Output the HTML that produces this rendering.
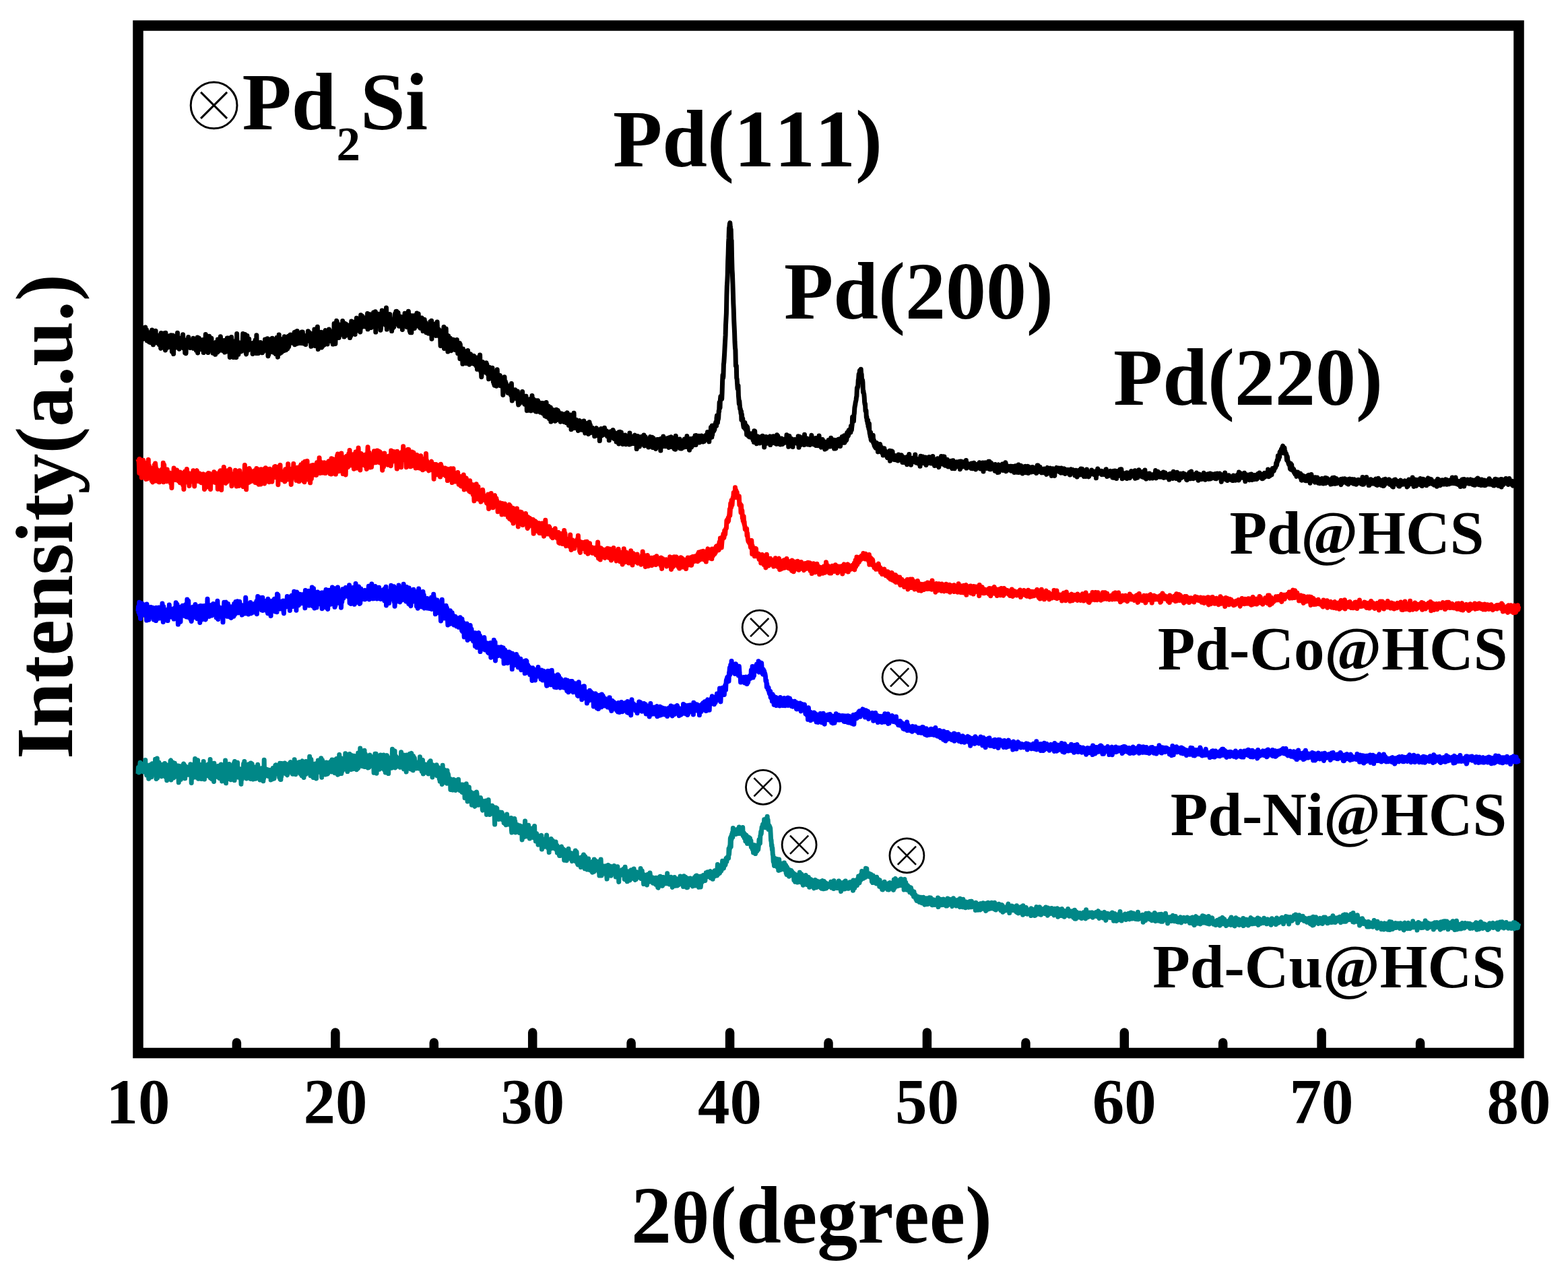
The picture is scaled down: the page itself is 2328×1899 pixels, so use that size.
<!DOCTYPE html>
<html><head><meta charset="utf-8"><title>XRD patterns of Pd@HCS, Pd-Co@HCS, Pd-Ni@HCS and Pd-Cu@HCS</title>
<style>
html,body{margin:0;padding:0;background:#fff;overflow:hidden}
svg{display:block}
text{font-family:"Liberation Serif","Times New Roman",serif;font-weight:bold;font-kerning:none;fill:#000}
</style></head><body>
<svg width="2328" height="1899" viewBox="0 0 2328 1899">
<rect x="0" y="0" width="2328" height="1899" fill="#fff"/>
<rect x="205" y="38" width="2050" height="1525.5" fill="none" stroke="#000" stroke-width="15.5"/>
<path d="M351.4 1557V1548.0M497.9 1557V1533.0M644.3 1557V1548.0M790.7 1557V1533.0M937.1 1557V1548.0M1083.6 1557V1533.0M1230.0 1557V1548.0M1376.4 1557V1533.0M1522.9 1557V1548.0M1669.3 1557V1533.0M1815.7 1557V1548.0M1962.1 1557V1533.0M2108.6 1557V1548.0" stroke="#000" stroke-width="13.5" stroke-linecap="round" fill="none"/>
<text x="205.0" y="1667.5" font-size="95" text-anchor="middle">10</text>
<text x="497.9" y="1667.5" font-size="95" text-anchor="middle">20</text>
<text x="790.7" y="1667.5" font-size="95" text-anchor="middle">30</text>
<text x="1083.6" y="1667.5" font-size="95" text-anchor="middle">40</text>
<text x="1376.4" y="1667.5" font-size="95" text-anchor="middle">50</text>
<text x="1669.3" y="1667.5" font-size="95" text-anchor="middle">60</text>
<text x="1962.1" y="1667.5" font-size="95" text-anchor="middle">70</text>
<text x="2255.0" y="1667.5" font-size="95" text-anchor="middle">80</text>
<text x="937" y="1845" font-size="120">2<tspan font-size="108">θ</tspan>(degree)</text>
<text transform="translate(106.5 1127) rotate(-90)" font-size="120">Intensity(a.u.)</text>
<text x="359.5" y="192.4" font-size="120">Pd<tspan font-size="71" dy="46">2</tspan><tspan dy="-46">Si</tspan></text>
<text x="910" y="247" font-size="120">Pd(111)</text>
<text x="1164" y="473" font-size="120">Pd(200)</text>
<text x="1653" y="600.5" font-size="120">Pd(220)</text>
<text x="1825.4" y="821.7" font-size="91">Pd@HCS</text>
<text x="1718.8" y="993.7" font-size="91">Pd-Co@HCS</text>
<text x="1737.8" y="1240" font-size="91">Pd-Ni@HCS</text>
<text x="1711.2" y="1466" font-size="91">Pd-Cu@HCS</text>
<path fill="none" stroke="#000000" stroke-width="7.0" stroke-linejoin="round" stroke-linecap="butt" d="M205 495.9l.4 9.2 .5-.8 .4-11.7 .5 1.6 .4-1.4 .5 7.6 .4-4.1 .5 5.6 .4-17.5 .5 23.4 .4-11.2 .5 5.4 .4-5.4 .5-1.5 .4 5.9 .5 2.6 .4-6.9 .5 .5 .4 5.8 .5-10.4 .4-4.3 .5 13.2 .4-7.1 .5-8.4 .4 7.6 .5 2.5 .4-4.8 .5-1.9 .4 10.6 .5 5.9 .4-7.5 .5-3.4 .4 7.9 .5 2.3 .4-6.7 .5 5.8 .4 3.5 .5-8.3 .4-4 .5 8 .4-.6 .5 5.9 .4-16 .5 4.3 .4-1.1 .5-5.9 .4 12.7 .5 2.9 .4-8.5 .5 14.6 .4-3.8 .5-1.2 .4-1.4 .5 3.9 .4-15.4 .5 13.3 .4 0 .5-16 .4 14.5 .5-3.9 .4 7.1 .5-8.2 .4 3 .5 2.5 .4-8.2 .5 10.2 .4-4.7 .5 4.2 .4-6.8 .5 11 .4-3.2 .5-5.2 .4 5.6 .5 4.4 .4 3.7 .5-22.8 .4 16.8 .5-2.8 .4-3.7 .5-6.1 .4 15.5 .5-17 .4 12.5 .5 5.1 .4-19.7 .5 8.9 .4-6.8 .5 10.7 .4 8.7 .5 3.5 .4-25.7 .5 8.2 .4 8.8 .5 6 .4-7.8 .5-7.8 .4 7.1 .5-2 .4-1.3 .5-3.5 .4 7.7 .5-.5 .4-2.6 .5-.8 .4-7.2 .5 5.5 .4 11.6 .5-9.5 .4-8.4 .5 18.9 .4-5.4 .5 10.8 .4-13.8 .5-3.5 .4-6.7 .5 18.9 .4 8.5 .5-22.9 .4 1.2 .5 8.5 .4-9.6 .5 3.8 .4-.4 .5 3.7 .4 6.2 .5-7.2 .4 6.1 .5-9 .4 5.1 .5-16.7 .4 4.7 .5 15.4 .4-9.4 .5 8 .4-.2 .5 5.4 .4-3.4 .5 1.4 .4-7.6 .5-3.9 .4-.2 .5 1.7 .4-4.3 .5 4 .4 3.1 .5 2.4 .4-3.9 .5-10.8 .4 12.7 .5 2.1 .4 5.8 .5-3.3 .4-8.3 .5-.5 .4 18.6 .5-8.4 .4 7.3 .5 2.1 .4-20 .5 8.2 .4 .6 .5 .7 .4-.1 .5-2.2 .4-.2 .5-11.4 .4 9.2 .5-3.9 .4 5.9 .5-3.9 .4 7.4 .5 1.4 .4-3.5 .5 .1 .4-1.4 .5-3.7 .4 2 .5-2.2 .4 6 .5-2.5 .4 3.9 .5-13 .4 15.1 .5-11.1 .4 .2 .5 3.7 .4-2.5 .5 5.8 .4-5.8 .5-3.3 .4 1.5 .5 14.7 .4-8.6 .5-8.2 .4 8 .5-10.6 .4 22.8 .5-22.5 .4 13.6 .5 .5 .4-13.5 .5 11.9 .4 4.7 .5-3.5 .4-1.4 .5 4.7 .4-5.4 .5 1.2 .4-3.1 .5 5.2 .4-10.7 .5 11.8 .4-8.8 .5-4 .4 9.9 .5 9.1 .4-5 .5-10 .4 8.3 .5-7.9 .4 2.3 .5 1.5 .4-16.4 .5 17.1 .4-8.3 .5 2.3 .4-5.3 .5-.3 .4 3.9 .5 12.1 .4 5.7 .5-11.5 .4 7.6 .5-9.2 .4-11.2 .5 14 .4 2.1 .5-6 .4 5 .5 1.8 .4-9.7 .5-4.2 .4 8.6 .5 .1 .4-1 .5 9.1 .4 5.1 .5-14.6 .4 7.6 .5 1.6 .4-1.5 .5 2.3 .4-9.8 .5 7.7 .4 8.8 .5-8.3 .4-9.7 .5 8.3 .4 4.5 .5-6.1 .4-6.3 .5 14.3 .4-18.9 .5 11.9 .4-3.5 .5-8 .4 16.4 .5-5.9 .4-10.3 .5 12 .4-7 .5-10 .4 8.2 .5 6.5 .4 2.6 .5-3.2 .4-.8 .5 2.9 .4-4.7 .5 9.5 .4-7 .5 1 .4 1.7 .5-10.9 .4 2.4 .5 15.2 .4-8.1 .5-4.2 .4 4.3 .5-5.6 .4 5.2 .5-6.5 .4 6.4 .5-12.6 .4 19.8 .5-12.5 .4-7.3 .5 9.3 .4-1 .5 3.6 .4-8.9 .5 10.5 .4 15 .5-26.3 .4 11 .5-4.4 .4 3.4 .5-13.6 .4 4.5 .5 10.9 .4-3.4 .5 11.4 .4-15.9 .5 6 .4 16.5 .5-22.9 .4-.9 .5 5.9 .4 0 .5 6 .4-4.8 .5-6 .4 6.5 .5 16.3 .4-9 .5-26.3 .4 16.7 .5-5 .4 10.2 .5-5.4 .4 14.3 .5-6.8 .4-.2 .5-4.8 .4-1.5 .5 2.6 .4 6.5 .5-5.2 .4-6 .5 11.1 .4-7.4 .5-1.8 .4-4.9 .5 1.6 .4-.5 .5-13.3 .4 24.6 .5-3.1 .4-5.3 .5 8.6 .4-4.1 .5-.5 .4-19.3 .5 15.3 .4 5.2 .5 7.3 .4 1.6 .5-2.8 .4-17.6 .5-7 .4 18.8 .5-3.7 .4 6.4 .5-7.4 .4 2.4 .5-11.7 .4 13.2 .5-6 .4 5.4 .5 .8 .4-4 .5 3 .4-2.2 .5 5.2 .4-1.7 .5-7.1 .4-.3 .5 15.9 .4-12.6 .5 7.5 .4-4.1 .5-6.5 .4-1.2 .5 5.9 .4 .9 .5 2.5 .4-12.8 .5 4.6 .4 3.4 .5 11.5 .4-26.9 .5 19.1 .4-6.7 .5 6.6 .4-6.2 .5 5.8 .4 8.2 .5-8.3 .4 .6 .5-.4 .4-7.6 .5 8.8 .4-5.1 .5-4.1 .4 5.2 .5-1.3 .4 6.7 .5-5.4 .4-3.3 .5 13.5 .4-3.2 .5 2 .4-4.5 .5-4.9 .4-2.1 .5 1 .4 8.3 .5-5.7 .4-10.8 .5 9.8 .4-9.4 .5 10.8 .4-9.3 .5-.4 .4 9.4 .5-1.3 .4-10.8 .5 16.4 .4 9.6 .5-24.8 .4 22.5 .5-17.1 .4 1.3 .5 2.2 .4-8.6 .5 18.6 .4-5.4 .5-8.5 .4 3.2 .5-8.4 .4 7.9 .5 8.8 .4-18.1 .5 8.7 .4 4 .5 6.1 .4 2.1 .5-12.3 .4-1.9 .5 8.1 .4-5.6 .5 .4 .4 9.4 .5 4.2 .4-9.7 .5-3.1 .4 5.2 .5-16.7 .4 12.7 .5-7.1 .4 23.4 .5-11.3 .4-3.9 .5-2.3 .4-15.8 .5 21.9 .4 6.3 .5-16.1 .4 9.6 .5 .3 .4-15.4 .5 16.9 .4 2.8 .5-7.6 .4-2 .5 5.8 .4-15.9 .5 11.1 .4 6.6 .5-15.6 .4 15.1 .5-9.5 .4-11.4 .5 13.3 .4-6.1 .5 8.5 .4-10.5 .5 14.7 .4-12.7 .5 7 .4-7.1 .5 1.2 .4 9.7 .5-7.3 .4-4.8 .5-6.5 .4 15.7 .5-3.5 .4-7.9 .5 3.3 .4-9.3 .5-.4 .4 .8 .5 7.6 .4-.8 .5-7.4 .4 9.9 .5 .2 .4-4.2 .5 5.9 .4-9.1 .5 1.2 .4 4 .5-3.4 .4 5.6 .5-13.9 .4 18.2 .5-15 .4 4.2 .5-8.2 .4 13.4 .5 4.6 .4-1.4 .5-1.6 .4-16.2 .5 5.3 .4 2.2 .5-3.2 .4 14 .5-6.4 .4-1.4 .5 3.5 .4-9.8 .5 .3 .4 .2 .5 9.4 .4-1.1 .5 1.7 .4 3.4 .5-16.6 .4 5.5 .5 4.8 .4-10.2 .5 5.6 .4 10.5 .5 .7 .4-.2 .5-7 .4-1.7 .5 8.8 .4-9.9 .5 4.9 .4 6.7 .5-11.5 .4-1.6 .5 4.1 .4 4.1 .5-.8 .4-2.2 .5 2.8 .4-14.7 .5 5.1 .4 6.9 .5-7.4 .4-2.8 .5 1 .4 2 .5 5 .4-5.7 .5 8.5 .4 10 .5-12.5 .4 9.7 .5-6.7 .4-9.6 .5 5.9 .4-4.9 .5 11.9 .4-13.1 .5 16.9 .4-5.1 .5-17.7 .4 19.1 .5 5.3 .4-15.9 .5 12 .4-18.9 .5 14 .4-13 .5 14.5 .4-15.4 .5-5.5 .4 20.4 .5 12.8 .4-19.6 .5 9.7 .4-4.9 .5-2.9 .4 6.4 .5 7 .4-19.6 .5 12.2 .4-1.5 .5-12.1 .4 20.6 .5 2.2 .4-19.8 .5 18.2 .4-11.5 .5-1.6 .4 11.2 .5-8.8 .4 .5 .5 8 .4-1.7 .5-2.8 .4-15.8 .5-1.4 .4 18.2 .5-14.1 .4 7.1 .5-8.5 .4 5.8 .5-7.6 .4 19.5 .5-18.2 .4 5.9 .5-.7 .4 9.3 .5-18.1 .4 9.2 .5-1.4 .4 4.7 .5-.6 .4-6.6 .5 4.6 .4-4.5 .5 5.5 .4-4.1 .5-4 .4 4 .5 2.5 .4 12.7 .5-19 .4 5.2 .5 7.6 .4-24.3 .5 2.1 .4 3.5 .5 7.1 .4 17.2 .5-14.2 .4 5.4 .5-9.9 .4-15.5 .5 .9 .4 22.5 .5-5.9 .4-10.3 .5 16.3 .4-18.3 .5 18 .4 2 .5-15.3 .4-2.5 .5 13.1 .4-13.4 .5 13.2 .4-14.2 .5 13.4 .4-5 .5-3.8 .4-3.3 .5 7.5 .4-14.7 .5 10.8 .4-1 .5 7.1 .4-13.3 .5 20 .4-14 .5-5.8 .4 17 .5 1.7 .4-12.7 .5-5 .4 6 .5-5 .4 2.4 .5 12.5 .4-8.1 .5-1.8 .4 1.2 .5-2.9 .4 5.9 .5 .1 .4-8.6 .5 3 .4 15.6 .5-13.7 .4-4.3 .5 15 .4-14 .5-7.7 .4 11.9 .5-10.8 .4 2.5 .5 5.5 .4-3.3 .5-4.4 .4 1.3 .5-.5 .4 11.8 .5-13 .4 .9 .5 17.6 .4-17.8 .5 13.8 .4-1.3 .5-10.2 .4-8.7 .5 12.6 .4 1.3 .5 1.9 .4-6.3 .5 7.6 .4 1.1 .5-16.7 .4 16.7 .5-8.6 .4-5.2 .5 1.6 .4 14.8 .5-6.2 .4-19 .5 12.6 .4-1.6 .5-.4 .4-2.4 .5-6.5 .4 15.7 .5-12.4 .4 3.8 .5-1.7 .4-.9 .5 9.9 .4-2.5 .5-7.3 .4-1.9 .5 3.1 .4 9.7 .5-5.8 .4 .7 .5-3.9 .4 .4 .5 3.1 .4-14.1 .5 23.4 .4-16.4 .5 1.5 .4 12.9 .5-7.7 .4-1.3 .5-4.3 .4-6.7 .5 11.8 .4 6.8 .5-14.3 .4 15.3 .5-17 .4 2.6 .5 8.4 .4-3.5 .5 4.6 .4-9.8 .5-2 .4-5.8 .5 4.5 .4 .8 .5-2.4 .4 11.7 .5-6.7 .4-9 .5 30.3 .4-22.6 .5-2.9 .4 16.9 .5-.5 .4-15.8 .5-2.3 .4 3.2 .5 14.4 .4-9.8 .5-3.4 .4 5.2 .5 8.3 .4-17.6 .5 6.7 .4-6.8 .5 24.1 .4-2.4 .5-6 .4-7.4 .5 5.3 .4-18.8 .5 16.1 .4-11 .5 .1 .4 4.1 .5 2.4 .4 6.2 .5 .8 .4-3 .5-8.2 .4 10.9 .5-5.4 .4 8.8 .5-14.3 .4-11.5 .5 14.4 .4 17.8 .5-11.5 .4-4.5 .5 7.3 .4-2.6 .5-.3 .4-6.7 .5 4 .4 .8 .5-5.8 .4-3.2 .5 8.5 .4 5.6 .5-2.2 .4-1 .5 0 .4 14.1 .5-15.8 .4 5.3 .5 6.2 .4-12.9 .5 1.4 .4 5.3 .5 4.4 .4-9.4 .5 .4 .4-1.9 .5-8.8 .4 15.8 .5-9.3 .4-9.9 .5 10.7 .4-10.8 .5 5 .4 7 .5-6.4 .4 13.6 .5-17.2 .4 11.8 .5 2 .4 6.2 .5-3.6 .4-4.7 .5-1 .4-.8 .5 8.1 .4-12.1 .5 8 .4-4.1 .5 2.4 .4-3.4 .5 16.4 .4-19 .5 6.3 .4 .2 .5 2.3 .4-1 .5-.1 .4 3.9 .5-16.8 .4 10.3 .5-8.3 .4 10 .5-9.5 .4 1.6 .5 6.1 .4 10 .5-5.5 .4-1.8 .5 7.6 .4-15.8 .5-7.7 .4 11.4 .5 1.1 .4 10.3 .5 6.2 .4-23.3 .5 25.8 .4-6.1 .5-4.8 .4-3.1 .5 14 .4-15.7 .5-3.6 .4 4.2 .5-10 .4 12.5 .5-3.8 .4 3 .5 .3 .4-9.4 .5 16.1 .4-15.6 .5 12.9 .4-16.5 .5 13.3 .4-7.9 .5 5.9 .4-4.5 .5-10.1 .4 7.2 .5 8.1 .4 3.8 .5-13.9 .4-4.2 .5 8.5 .4 4.5 .5-2.7 .4-1 .5 11.2 .4 .8 .5-1.3 .4-11.1 .5 6.9 .4-1.7 .5-8 .4 15.5 .5-5.2 .4-3.6 .5 12.8 .4-4.2 .5 .8 .4 2.5 .5-3 .4-13 .5 6 .4 9.5 .5-11.5 .4 5.5 .5 2.6 .4 7.1 .5-.7 .4-2.4 .5-6.9 .4 7.5 .5-2.3 .4-4.3 .5 10.3 .4-5.4 .5-8 .4 13.6 .5-9.7 .4 5.8 .5-13.6 .4 10.2 .5-5.8 .4 .1 .5-5.9 .4 26.9 .5-14.7 .4 2.8 .5 6.1 .4-7.8 .5 4.5 .4-11.9 .5 10.4 .4-3.6 .5 6.3 .4-1.8 .5-9.9 .4-2.7 .5 5.8 .4 11.8 .5-1.7 .4 .1 .5-15.4 .4-3.5 .5 13.3 .4 2.2 .5-1.4 .4 6.5 .5-3 .4-6.3 .5 2.3 .4 7 .5-.1 .4-.6 .5 15.5 .4-16.1 .5 2.8 .4-6.8 .5 4.4 .4 6 .5 .7 .4-4.4 .5 3.9 .4-1.9 .5-12.1 .4-4.3 .5 31.9 .4-9.2 .5-5.4 .4-10.5 .5 3.3 .4 17.3 .5-25.1 .4 15 .5 8 .4-4.3 .5 4.3 .4-5.4 .5 16.6 .4-21.6 .5-1.8 .4 10.9 .5 7.7 .4-9.1 .5 7.4 .4-9.7 .5-3.8 .4 16.9 .5 1.4 .4 .2 .5-12.2 .4-4.2 .5 .3 .4 6.4 .5 5.5 .4-.1 .5-12 .4 10.7 .5-.7 .4 .8 .5-.3 .4-.8 .5 5.4 .4-2.6 .5 1 .4-5.5 .5 7.3 .4-2.9 .5-12.3 .4 16.8 .5-4.4 .4 7.9 .5-6.6 .4 .8 .5 2.2 .4-1 .5-2.5 .4-8.1 .5 23.2 .4-21.2 .5 8.1 .4 6.6 .5-1.4 .4 1.5 .5 1.5 .4 3.5 .5-5.8 .4 14.8 .5-22.4 .4 8.1 .5-3.4 .4-.9 .5 5.6 .4 7.6 .5-13.3 .4 .3 .5 9.3 .4-.8 .5 9.1 .4-5.5 .5-4.7 .4-3.1 .5 3.7 .4-2.2 .5-7.1 .4 8.9 .5-.8 .4-.1 .5-.9 .4 13.5 .5-5.8 .4 1.8 .5-9.3 .4-2.2 .5 4.9 .4 3.6 .5-3.3 .4 1.3 .5 7.4 .4-3.7 .5-7.6 .4 3.7 .5-1 .4 5.5 .5-8 .4 6.5 .5 5.7 .4-3.8 .5-5.4 .4 2.1 .5 4.9 .4 2.6 .5 2.5 .4-5.7 .5-6.8 .4 17.2 .5-6.6 .4 1 .5-.2 .4-7.9 .5 4.8 .4 3.8 .5 5.1 .4-5.5 .5-15.9 .4 14.7 .5 4 .4 6.1 .5-3.2 .4 11.2 .5-6.1 .4-.1 .5-2.1 .4-13.8 .5 13.9 .4-1.1 .5-6.5 .4 7.1 .5-.6 .4-5 .5 2.4 .4-.5 .5 3.4 .4-3.6 .5 6.2 .4-14.5 .5 10.3 .4-8.1 .5 7.6 .4 6.4 .5-2.6 .4-.4 .5 1.4 .4 9.4 .5-15.7 .4 12.4 .5-14.1 .4 6.7 .5 4.1 .4-5.7 .5 6.7 .4 3.5 .5-11.1 .4 7.1 .5-1.5 .4-8.9 .5 10.8 .4-3.2 .5 13.1 .4-12.8 .5 15.8 .4-13 .5 15.2 .4-8 .5-.1 .4 2.5 .5 1 .4 3.4 .5 2.3 .4-11.9 .5-5 .4-7.6 .5 13.6 .4 7.2 .5-1.9 .4-1.1 .5-2.4 .4-1.3 .5 2.6 .4 4.3 .5-12.3 .4 15.2 .5-12.5 .4 8.1 .5-2.4 .4 2 .5-3.6 .4-.3 .5 5.9 .4-4.6 .5 21.2 .4-16.5 .5-1 .4 1 .5-2.6 .4-7.7 .5 13.3 .4 3.7 .5-10.3 .4 9.3 .5-6.7 .4 7.2 .5 2.7 .4 1.1 .5 .1 .4-6.3 .5 9.6 .4-7.3 .5 5 .4 2.4 .5-5.5 .4-5.3 .5 11.3 .4-9.7 .5 1.7 .4-.9 .5 11.6 .4-5.5 .5-11.7 .4 17.6 .5 8 .4-1.2 .5-13.4 .4 4.1 .5 2.8 .4 2.5 .5-4.6 .4-6.2 .5 10.9 .4-.5 .5-10.8 .4 5.8 .5 4 .4-1.3 .5 3.4 .4 1.8 .5-1.1 .4-3.5 .5-6.7 .4 11.5 .5 4.8 .4 3.6 .5-11.2 .4 .3 .5 8.7 .4 .3 .5-6 .4 2.4 .5-8.1 .4 8 .5-7.8 .4 4.2 .5 .4 .4-1.7 .5-9 .4 7.6 .5 6.8 .4-1.9 .5-1.6 .4 4.9 .5 1.7 .4 1.2 .5-9.1 .4 5 .5-1.7 .4-2.8 .5-3.3 .4 8.2 .5-4.1 .4 17.3 .5-12.4 .4-.5 .5-.7 .4 13.1 .5-15.6 .4 4.6 .5-3.1 .4 3.9 .5 .7 .4 6.6 .5-13.8 .4 8.1 .5 9.3 .4-11.6 .5 2.1 .4-3.7 .5-9.2 .4 14.1 .5 7.3 .4-8.9 .5-7.4 .4 12 .5-.8 .4 5.3 .5-.3 .4-6.3 .5 4 .4-12 .5 16.4 .4-5 .5 5.2 .4 .1 .5-7.2 .4 1 .5-3.8 .4-6.4 .5 10.9 .4 1.8 .5-6.6 .4 10.1 .5-3.2 .4 2.2 .5-6.5 .4-5.3 .5 14.1 .4-.7 .5-3.7 .4-1.5 .5 .9 .4 1 .5-1.9 .4-8 .5 15.5 .4-12.3 .5 6.6 .4 .3 .5 3.3 .4-10.1 .5 15.6 .4-2.9 .5 .8 .4 2.9 .5-11 .4-9.6 .5 16.1 .4 5.5 .5-.7 .4-9 .5 2.6 .4 2.2 .5-11.2 .4 6.3 .5 .4 .4 12.2 .5-12 .4 12.2 .5-8.2 .4-9 .5 21.2 .4-17.1 .5 8.8 .4 6 .5-11.9 .4-3.6 .5 12.4 .4-5.1 .5-6.8 .4 .9 .5 3.9 .4 7.4 .5-6.5 .4 5.2 .5 5.5 .4-1.9 .5 1.1 .4-1 .5-15.1 .4 15.4 .5-4.7 .4-2.2 .5-5 .4-2.6 .5 2.7 .4 6 .5-6 .4 2.1 .5 1.2 .4 7 .5-4.9 .4 .9 .5 8 .4-8.6 .5 5.1 .4-8.7 .5 7.6 .4-1 .5 .5 .4-3.3 .5-2.8 .4 4 .5-.7 .4 8.1 .5-.5 .4-11 .5 9.9 .4-5.7 .5 5.1 .4-4.8 .5-5 .4 13.3 .5-2.8 .4-8.7 .5-3.3 .4 7.3 .5-3.2 .4 4.5 .5 5.3 .4 4.7 .5-9.4 .4 9.3 .5-1 .4-8.2 .5-6.3 .4 13.4 .5-1.1 .4 9.4 .5-4.7 .4-3.2 .5 4.9 .4-14.1 .5 6.7 .4-2.3 .5 10.8 .4-6 .5-16.4 .4 21 .5-11.7 .4 9 .5-6.4 .4 4 .5 2.2 .4-2.1 .5-5.8 .4 12.4 .5-5 .4-1.9 .5 3.9 .4-6.2 .5 12.7 .4-8.4 .5 .9 .4 .1 .5-6.3 .4-1.2 .5 7.4 .4 .9 .5 5.3 .4-4.4 .5-7.8 .4 8.5 .5 1.8 .4 1.1 .5-3.3 .4-7.8 .5 12.4 .4-9.6 .5 6.9 .4-10.8 .5 12.2 .4-7.8 .5 9.8 .4 3.7 .5-2.9 .4-11.8 .5 1.3 .4 .5 .5 8.1 .4-1.5 .5-.8 .4 1 .5 1.5 .4 .6 .5 5.4 .4-8.7 .5 1.5 .4-10.4 .5 2.9 .4 3.4 .5-2.3 .4 7.3 .5 4.3 .4-7.3 .5-.1 .4 0 .5 3.4 .4-3.3 .5 5.1 .4-.5 .5 .4 .4 2.3 .5-3.6 .4 .7 .5 8.3 .4-8.9 .5 4.4 .4-3.6 .5-2.5 .4 .2 .5-1.7 .4 4.4 .5-3 .4 1.1 .5 8.4 .4-6.7 .5 6.6 .4-4.2 .5 3.1 .4-7.2 .5 3.9 .4 12.5 .5-8.8 .4 1.1 .5-3.7 .4 3.2 .5-9.9 .4 1.7 .5 6.5 .4 2.1 .5-6 .4 1.3 .5-.7 .4 1 .5-4.9 .4-1.1 .5 6.9 .4-8.1 .5 3.9 .4 1.8 .5-1.8 .4 6.5 .5-3.3 .4 2 .5-4.5 .4 1.5 .5 6.3 .4-.6 .5-3.9 .4 4.2 .5-.7 .4-.1 .5 7.3 .4-9.8 .5 4.2 .4 .2 .5-3.2 .4-4.4 .5 9.3 .4-2 .5-1 .4 0 .5 .1 .4-4.3 .5 5.9 .4-10.2 .5 8.9 .4-7.1 .5 5.7 .4 5.3 .5-4.6 .4-1 .5 5 .4-3.8 .5-.5 .4 .1 .5 9.5 .4-4.1 .5-.8 .4-8 .5 8.9 .4-9.2 .5 8.7 .4-7.7 .5 15.1 .4-17.6 .5 14.2 .4-2 .5-12.4 .4 7.5 .5 8.3 .4-1.4 .5-13.5 .4 5.6 .5-3 .4 .8 .5 1.9 .4 12.1 .5-8.2 .4-1.6 .5-.5 .4 5 .5 .2 .4-7.7 .5 11.6 .4-12.2 .5 3.9 .4 3.6 .5 6.1 .4-9.8 .5 3.1 .4 5 .5-3.2 .4 2.5 .5-.3 .4-3.7 .5 1.9 .4 1.4 .5-4.4 .4 7.8 .5-17 .4 5.1 .5 11.4 .4-4.8 .5-5 .4 4.9 .5 3.5 .4-7.8 .5 6.4 .4-4.2 .5 .1 .4 .3 .5 5.7 .4-10.5 .5 3.6 .4 5 .5-8.9 .4-1.7 .5 10.3 .4-2.6 .5-.7 .4 1.5 .5-5.2 .4 17.2 .5-17.2 .4 2.7 .5-4.6 .4 4.8 .5 9.2 .4-7 .5 2.7 .4-5 .5 10.9 .4-7.7 .5-6.6 .4 9.5 .5-5.3 .4 4.7 .5-2.2 .4 .7 .5-.6 .4-4.8 .5-2.8 .4 11.7 .5-5.2 .4 2.1 .5-3.5 .4-7.2 .5 3.5 .4 12.5 .5-10.1 .4 1.9 .5-5 .4 4.4 .5 .8 .4 .7 .5 .8 .4-2.6 .5 .3 .4 2.7 .5 1.6 .4-2.2 .5 8.8 .4-7.1 .5-.2 .4-3.7 .5 7.8 .4-9.4 .5-2.8 .4 3 .5 7.4 .4-8.1 .5 11.3 .4-6 .5-6.9 .4 6 .5 9.3 .4-12.2 .5-2 .4 8.4 .5 3.7 .4-1.4 .5-6.1 .4 2.4 .5 .6 .4 4 .5 4.4 .4-10.3 .5 6.5 .4-7.5 .5 4.3 .4-7 .5 .8 .4 5.4 .5-6 .4 8.2 .5-6.5 .4 2.9 .5-.8 .4-1.1 .5 2.2 .4 4.3 .5 7.3 .4-17.6 .5 6.8 .4-2.1 .5-3.4 .4 5.5 .5-5.3 .4 3.7 .5 6 .4-14.8 .5 10.3 .4 .9 .5-6.3 .4 6.7 .5-.8 .4-3.1 .5 7.1 .4-11.4 .5 8.8 .4-3.9 .5-3.7 .4 4 .5-.8 .4 5.3 .5-10.4 .4 5.9 .5-1.2 .4 9.1 .5-12 .4 9.8 .5-12.7 .4 9.5 .5-2.2 .4 2.4 .5-4.9 .4-5.5 .5 1.8 .4 12.8 .5-4.9 .4-4.8 .5 7.9 .4-7.3 .5 0 .4-2.1 .5 10.7 .4 3.5 .5-13 .4 5.6 .5 3.1 .4 5.1 .5-20 .4 11.3 .5 2.3 .4-9.4 .5 8.4 .4-.9 .5 2.4 .4-5.7 .5 4.4 .4-4.5 .5 5.5 .4-2 .5-2.3 .4-4.6 .5 13.6 .4-2.3 .5-1 .4-6.8 .5 1.5 .4 8.9 .5-4 .4-7.1 .5 4 .4 .5 .5-1.5 .4-3.3 .5 9.7 .4-2.9 .5-3.4 .4-6.1 .5 4.4 .4 2.5 .5 3.8 .4-5.4 .5 6.4 .4-4.3 .5-3.9 .4-7.8 .5 5.9 .4-1.5 .5 5.8 .4 2 .5 4.6 .4-6.3 .5-5.1 .4 15.2 .5-9 .4-2.6 .5-.1 .4-4.9 .5 8.5 .4-1.3 .5 5.1 .4-2.3 .5-1.2 .4 1.6 .5-6.9 .4-.9 .5 1.6 .4-5.4 .5 4.6 .4-1 .5 4.2 .4-3.2 .5-8.3 .4 8.1 .5 5.8 .4-14.2 .5 4.5 .4 3.1 .5-5.9 .4 3.1 .5 2.4 .4-6 .5 6.7 .4 .3 .5-7.3 .4 5.3 .5 4.4 .4-5.6 .5 2.5 .4 .7 .5-3.9 .4 5.1 .5-2.7 .4-6.1 .5 6.3 .4 1.3 .5-.4 .4-6.4 .5 4.5 .4 3.7 .5-5.1 .4 3.9 .5 .3 .4-6 .5 2.8 .4-4.3 .5 5.5 .4-5.2 .5-2.2 .4 2 .5-.5 .4 1.6 .5 0 .4-7.2 .5 1.8 .4 4 .5 .1 .4-2.1 .5 10.4 .4-6.8 .5-5.5 .4 3 .5 2.1 .4-4.6 .5-9.4 .4 7.2 .5-.7 .4 8.1 .5-17.3 .4 13.6 .5-7.8 .4 3.8 .5-5.9 .4 1.2 .5 3.2 .4-5.3 .5 3.2 .4-5.8 .5-2.4 .4-.2 .5-2.4 .4 .4 .5 4.9 .4-11.9 .5-3.5 .4 5.3 .5 5.5 .4-4.4 .5-.7 .4-2.3 .5-10.3 .4 1.3 .5-13.8 .4 5.8 .5 2.2 .4-11.9 .5-5.3 .4-.2 .5 2.6 .4-.1 .5 1.6 .4-9.4 .5-17.1 .4-8.8 .5 4.4 .4-2.6 .5-17.8 .4-2.9 .5-7.7 .4-6.6 .5-10.2 .4-7.2 .5-8.5 .4-15.5 .5-9.4 .4-7.8 .5-25.9 .4-14 .5-7.9 .4-8.8 .5-21 .4-9.7 .5-18.1 .4-5.9 .5-15.3 .4-1.4 .5-5.1 .4-1.2 .5 5.8 .4 3.4 .5 .5 .4 15.6 .5 .8 .4 23.7 .5 19.8 .4 6.1 .5 14.3 .4 12.5 .5 17 .4 8.2 .5 17.3 .4 8.3 .5 10.7 .4 12.9 .5 9.1 .4 2.4 .5 24 .4 0 .5-.1 .4 18 .5 1.7 .4 6.7 .5 7.4 .4-1.5 .5-2.8 .4 14.8 .5 5.3 .4 6.7 .5-3.7 .4 5.2 .5 5.6 .4-.1 .5 2.8 .4 4.4 .5-2.8 .4 12.4 .5-8 .4 5.7 .5 .2 .4 .1 .5 6.5 .4 3.4 .5 3.1 .4-2.2 .5-2.9 .4 6.4 .5-8.1 .4 7 .5 2.8 .4 1.1 .5-5.9 .4-.6 .5 13.4 .4-7.9 .5-3.8 .4 2.3 .5 5.6 .4 5.3 .5-4.1 .4 5.3 .5-3.3 .4 1.5 .5 2.5 .4-4.9 .5 3.1 .4-2.3 .5-.5 .4 5.5 .5-5.5 .4 4 .5-3.1 .4 3.1 .5-1.4 .4 6.7 .5-3.7 .4 .3 .5 6.4 .4-16.7 .5 6.3 .4-5.8 .5 10.7 .4 1.9 .5 1.1 .4-1.3 .5-4.3 .4 10.5 .5-5.6 .4-2 .5-3.2 .4 6.1 .5-3.4 .4 .3 .5 2.7 .4 .1 .5-3.9 .4 8.2 .5-8.8 .4-.3 .5 5.6 .4-.6 .5-.2 .4-1.8 .5 1.8 .4-2.3 .5-4.2 .4 9.4 .5-6.8 .4 3.1 .5 3.8 .4-2.8 .5 10 .4-15.5 .5 2.6 .4 3.2 .5 5 .4-6.3 .5-4.6 .4 10.1 .5-8.1 .4 2.8 .5 4.2 .4-6 .5 .8 .4 3.7 .5-2.7 .4 1.8 .5-4.8 .4 3.2 .5-3.8 .4-1.8 .5 12.8 .4-5 .5 1.7 .4-7.3 .5 3.6 .4-.7 .5-4.7 .4 7.6 .5-4.9 .4 1.9 .5-5 .4 9.6 .5-.9 .4-1.4 .5-5.1 .4 1.4 .5 6.8 .4-5.8 .5 2.1 .4-.5 .5-4.9 .4 10.2 .5-13.5 .4 8.5 .5-1.2 .4-5.9 .5 7.5 .4 .7 .5-1.8 .4-3.4 .5 4.9 .4 2.6 .5-3.4 .4 5.7 .5-3.2 .4-.4 .5 2.4 .4-7.8 .5 .6 .4 4 .5 0 .4 3.8 .5-1.4 .4-3.6 .5 .1 .4-1.8 .5-.3 .4-.3 .5 5.2 .4-5.2 .5 .4 .4 2 .5-2.5 .4 1.1 .5-7.4 .4 9.7 .5-2.5 .4 1.9 .5 .7 .4-8.4 .5 16.2 .4-8.5 .5 .1 .4-7.3 .5 9.1 .4-.7 .5-2.9 .4 2.4 .5 3.9 .4-6 .5-2.1 .4 8.4 .5-3.9 .4-1.7 .5 9.4 .4-8 .5-1.3 .4 1.7 .5-2.5 .4 2.3 .5-.2 .4-3 .5 1.5 .4 2.1 .5 .3 .4 .8 .5 .7 .4-2 .5 1.1 .4-3.4 .5 .5 .4 4.8 .5-11.2 .4 8.7 .5 7.9 .4-16.2 .5 12.6 .4-12.2 .5 7.9 .4 4.7 .5-.5 .4-9 .5-1.4 .4-.5 .5 8 .4-4.1 .5 1.4 .4 1 .5 .6 .4 .4 .5-1.5 .4-6.4 .5 11.4 .4-15.3 .5 14.4 .4-6.8 .5 1.5 .4-1.2 .5 .6 .4 1.3 .5-.9 .4-3.1 .5 7.3 .4-5.3 .5 7.1 .4-5.5 .5-2.1 .4 4.3 .5 1.7 .4-6.7 .5 2.4 .4 6.3 .5-8.9 .4 .6 .5 3.7 .4-5 .5-4.6 .4 3 .5 7.5 .4 1.1 .5-.2 .4-.7 .5-5.9 .4 7.1 .5 1.8 .4-6.8 .5 6.1 .4-4.8 .5 2.1 .4 .8 .5-6.8 .4 10.9 .5-8.5 .4 2.9 .5-1.4 .4 3.5 .5 0 .4-1.4 .5 5.1 .4-4.1 .5-2.4 .4-8.1 .5 8.7 .4 0 .5-2.1 .4 .1 .5 5.4 .4 1.7 .5 3.2 .4-2.7 .5-6.7 .4 3.6 .5-5.9 .4 7.7 .5-1.3 .4-3.5 .5 1.9 .4-.5 .5-1.3 .4 7.1 .5 4.6 .4-6.3 .5 .9 .4-3.2 .5-1.8 .4 9.2 .5-9.2 .4 2.8 .5-1.9 .4 2.6 .5-2.3 .4 2.4 .5-6.7 .4 4.2 .5 5.3 .4-8.6 .5 1.3 .4 7.3 .5-3.4 .4 2.4 .5-11.9 .4 8.5 .5-5.1 .4-.4 .5 6.4 .4 2.8 .5-9.6 .4 1.3 .5 1.9 .4 1.6 .5-4.3 .4 12.8 .5-6 .4-3.5 .5-.6 .4 10.1 .5-.3 .4-9.9 .5 3 .4 3.2 .5-8.9 .4 2.1 .5 6.8 .4-7.4 .5 .8 .4-3.3 .5 1.9 .4 5.1 .5-5.5 .4-1.9 .5 2.3 .4 8.4 .5-5.9 .4-2.8 .5 2.3 .4 .9 .5-1.4 .4-7.1 .5 7.2 .4-2.1 .5 3.5 .4-8.1 .5 8.2 .4-5.8 .5-4.7 .4 10.5 .5-7 .4 2.8 .5-2.4 .4 4 .5-.5 .4-.5 .5-2 .4-8.8 .5-.9 .4 6 .5-4.9 .4 4.3 .5-1.9 .4-6.5 .5 .4 .4-1.3 .5-.2 .4 1.3 .5 1.9 .4 1 .5-9.5 .4-.1 .5 6 .4-4.1 .5-4.1 .4-11 .5 2.6 .4 2 .5-5 .4 6.6 .5-9.3 .4-2.1 .5-7.9 .4-2.9 .5-2 .4-3.3 .5-2.2 .4-1.7 .5-4.3 .4-1.3 .5-12.3 .4 1.5 .5-3.9 .4 .8 .5-10 .4-1.5 .5-7.2 .4 1.7 .5-2.2 .4-5.2 .5-.3 .4 1.1 .5 2.5 .4-5.1 .5 8.8 .4-2 .5 10.5 .4 1.7 .5-3 .4 3.1 .5 14.8 .4-2.3 .5 4 .4 .8 .5 5.2 .4 7.3 .5 3.4 .4-1.2 .5 10.9 .4 .2 .5-1 .4 10 .5-1.1 .4 6.2 .5-1.9 .4 5.7 .5-4.5 .4 9.2 .5-4.5 .4 7.9 .5-7.5 .4 10.4 .5 4.4 .4 .7 .5 4 .4-6.4 .5 10.4 .4 1.4 .5-8.5 .4 2.6 .5 1.8 .4 2.9 .5 1.7 .4-8.2 .5 11.4 .4-2.1 .5-1.8 .4 7.5 .5-3.7 .4 5.7 .5-1.4 .4-2.3 .5 5.8 .4-.7 .5-4 .4-3.2 .5 4.1 .4 4.5 .5-2.4 .4 7.3 .5-4.7 .4 .2 .5 1.1 .4-4 .5 3 .4-1.5 .5-5.4 .4 2.3 .5 8.9 .4-3.7 .5 1.5 .4-4.4 .5 3.4 .4 4.9 .5-2 .4-1.8 .5 7.2 .4-5.1 .5-.8 .4 5.4 .5-9.6 .4 8 .5-5.4 .4 1.4 .5 .5 .4 3 .5 .2 .4 .8 .5-.1 .4 4.3 .5 1.1 .4-3.1 .5 .4 .4-3.7 .5-2.3 .4 5.9 .5-1.7 .4 3 .5-8.9 .4 15.1 .5-12.9 .4 4.6 .5 3.4 .4-7.8 .5 2.9 .4-4.8 .5 2.2 .4-1.6 .5 7.1 .4 .8 .5-1.9 .4 5.5 .5 .6 .4-4.6 .5-.6 .4 0 .5-.5 .4 6.1 .5-3.4 .4-1.8 .5 .5 .4 2.7 .5-3 .4 2.5 .5-1.1 .4 4.8 .5-.5 .4-8.5 .5 4.3 .4 3 .5-3.7 .4 4.3 .5-1.5 .4 1 .5-2.1 .4 1.3 .5 .8 .4-6.6 .5 2 .4-.3 .5 9.1 .4-4.5 .5 .3 .4-.6 .5-2.3 .4-.6 .5 5.3 .4-4 .5 6.6 .4-4.5 .5-.3 .4-1 .5 .5 .4 .5 .5 5 .4 2.7 .5-11.5 .4 4.7 .5 1.6 .4-5.3 .5 .9 .4 .7 .5-6.4 .4 10.2 .5-2.3 .4-.1 .5 .6 .4 .6 .5 6.9 .4-7 .5 2.2 .4-4.4 .5 2.9 .4-2.2 .5 .6 .4-2.4 .5 .3 .4 4.3 .5 1 .4-.9 .5-3.7 .4 3.3 .5-9.4 .4 11.5 .5-3.2 .4 1.1 .5 2.9 .4-5.1 .5 4.5 .4-4.5 .5 3.3 .4-3.1 .5 2.3 .4 3.8 .5-6.8 .4 .1 .5 1 .4 2.1 .5 7.5 .4-10.3 .5-4.8 .4 4.6 .5-3 .4 3.4 .5 1.9 .4-3.2 .5 1 .4-3.9 .5 6.8 .4-3 .5 6 .4-.1 .5-6.2 .4 1.6 .5 1.4 .4 2.4 .5-7.9 .4 5.2 .5 6.3 .4-6.3 .5 1.1 .4-.7 .5-3.9 .4 7 .5-2.2 .4-.3 .5 1.9 .4 .2 .5-8.7 .4 7.8 .5-3.5 .4 2.5 .5-2.8 .4-.5 .5 5.9 .4-3.1 .5-.8 .4 0 .5 1.2 .4-.3 .5-7.5 .4 4.8 .5 2.1 .4 3.2 .5 2.1 .4-7.4 .5 9.3 .4-5.9 .5 1.3 .4-3.3 .5-.2 .4 6.6 .5-5.3 .4 .4 .5 4.1 .4 1.9 .5-10.4 .4 4.3 .5 .6 .4 5.9 .5 2.1 .4-8 .5 1.4 .4 1.6 .5 1 .4-4.7 .5 3.8 .4-5 .5-6.3 .4 4.2 .5 5.2 .4 1.8 .5-9.7 .4 1.5 .5 5.7 .4-8.5 .5 10.5 .4 1.6 .5-11.9 .4 11.1 .5-3 .4 5.2 .5-3.6 .4-1.6 .5 1.2 .4 2.6 .5-2.3 .4-.4 .5-4.7 .4 6.2 .5-1.4 .4 5.8 .5-5.9 .4-.2 .5-1.7 .4 4.4 .5-2.9 .4-1.6 .5 7.4 .4 .6 .5-7 .4-1.8 .5 6.9 .4-6.2 .5 10.5 .4-8.2 .5 3.6 .4-7.2 .5 4.1 .4 3.6 .5-2 .4-3.1 .5 9.5 .4-5.3 .5-3 .4-1.2 .5 1.1 .4 5.2 .5-6.7 .4 2.6 .5-2.6 .4 6.6 .5-4.4 .4 3.2 .5-.8 .4-3.6 .5 4.1 .4 .8 .5-6.6 .4 5.9 .5 5.6 .4-8.6 .5 3 .4-6.2 .5 5.7 .4-3.3 .5 4.4 .4-2.6 .5-3.5 .4 7.3 .5-4.1 .4-2.5 .5 3.5 .4-3.3 .5 4.4 .4-1.4 .5-.9 .4 3.3 .5-6.1 .4 7.2 .5-9.4 .4 11.5 .5-4.5 .4-1.3 .5-1.5 .4 4.1 .5-2.2 .4 0 .5 3.9 .4-4.6 .5 .7 .4 2.1 .5 2.1 .4-3.8 .5 1 .4-.3 .5 2.3 .4 2.4 .5-7.6 .4 2.5 .5 .4 .4 2 .5 2.9 .4-4.7 .5 .8 .4 2.9 .5-7.4 .4 1.5 .5 1.1 .4 1.4 .5 .8 .4-2.3 .5 7.1 .4-7.6 .5 1.6 .4 4.1 .5-1 .4-2.4 .5 1.3 .4 1.4 .5-2.6 .4 2.2 .5-4.9 .4 3.1 .5-5.3 .4 2.4 .5-.8 .4 7.6 .5-5.4 .4 2.5 .5-3.8 .4 2.3 .5-.2 .4-1.8 .5 5.4 .4-7.9 .5 7.2 .4 5.7 .5-10.1 .4 2.7 .5-5 .4 4.9 .5-5.4 .4 7.5 .5-3.5 .4-4.2 .5 1.7 .4-.9 .5 4.1 .4 3.6 .5-3.9 .4-2.4 .5 1.1 .4 3 .5-7.9 .4 9.4 .5-.5 .4-8.9 .5 11.4 .4-8.8 .5 4.5 .4 4.3 .5-8.7 .4-.6 .5 2.3 .4 .1 .5 3 .4-1.2 .5 .1 .4 .1 .5 1 .4-2.1 .5 3.7 .4-1 .5-3.1 .4 8.9 .5-9.6 .4 6.3 .5-4.6 .4 3.5 .5 .5 .4 1.1 .5 1.8 .4-7 .5 10.4 .4-6.4 .5-3.8 .4-1.6 .5 11.5 .4-2.1 .5-5.1 .4 2.4 .5 1.8 .4-3.8 .5-1.5 .4 1.2 .5 2.7 .4-2.5 .5-3.8 .4 6.2 .5-7.7 .4 3.1 .5 6.2 .4-3.1 .5 0 .4-.3 .5 2.9 .4-3.3 .5-5.9 .4 6.8 .5-8.8 .4 1.8 .5 11.3 .4-1.7 .5-4.6 .4 1.2 .5 .6 .4 2.8 .5-5.4 .4-.3 .5 .8 .4 2.4 .5 .4 .4-2 .5 3.6 .4-5.4 .5 2.9 .4-1.9 .5-.9 .4 6.9 .5-4.7 .4-2.1 .5 3.2 .4-3.1 .5 4.9 .4 .8 .5 .6 .4-6.4 .5 2.9 .4 6.1 .5-6.3 .4 4.6 .5 .8 .4-8.8 .5 7.9 .4-1.4 .5 .5 .4 2.5 .5-3.8 .4-1.1 .5 1.7 .4-2.9 .5 2.6 .4-7.7 .5 11.5 .4-6.9 .5 3.3 .4-.6 .5-.6 .4 0 .5-.1 .4-5.2 .5 3.4 .4 5.3 .5-6.7 .4-.1 .5 9.7 .4-2.7 .5 1.1 .4-4.8 .5 .9 .4 1.6 .5-.6 .4-2 .5-4.1 .4 2.2 .5-2.3 .4 9.4 .5-6 .4 .7 .5 1.4 .4-.8 .5 1.6 .4-3.4 .5-2.8 .4 10 .5-7.4 .4 .7 .5-.9 .4 .7 .5 1.8 .4 2.2 .5-5.4 .4 4.1 .5-2.9 .4 5.7 .5-7.3 .4 4 .5 1.9 .4-6.2 .5 4.4 .4 .1 .5-2.8 .4 1.8 .5 3.7 .4-2.3 .5-1.9 .4 .6 .5 2 .4 2.5 .5-1.4 .4-.1 .5 2.5 .4-9.3 .5 .3 .4-2.4 .5 9.3 .4-9.3 .5 6.7 .4 2.4 .5-6.4 .4 2.2 .5 1.3 .4 2.9 .5-6.6 .4 5.5 .5 1.1 .4-1.6 .5 .1 .4 3.2 .5-3 .4-.7 .5-.9 .4 3 .5-2.8 .4 2.8 .5-1.6 .4 3.1 .5-5.7 .4 2.6 .5 .8 .4 .3 .5 2.1 .4-2.1 .5 1.5 .4 3.1 .5-3.2 .4-5.6 .5-1.1 .4 6.2 .5-3 .4 2 .5-1.4 .4 4.4 .5-.3 .4-6.8 .5 4.1 .4-1.6 .5-3 .4 5.8 .5-2.3 .4 1.8 .5 6 .4-3.4 .5-.6 .4-4.4 .5-2.3 .4 7.2 .5-4.6 .4 1.1 .5-1.2 .4 1.4 .5 6.8 .4-8 .5 .2 .4 1.4 .5 .3 .4-4.4 .5-1.6 .4 3.5 .5 1.1 .4-1.7 .5-.6 .4 .2 .5 1.7 .4 .8 .5-4.4 .4 3.2 .5 2.6 .4-1.3 .5-3.6 .4 2.9 .5 1 .4 2.4 .5-7 .4 6.8 .5-3.4 .4 2 .5 1.4 .4-4.5 .5 .2 .4 2.1 .5 2.4 .4-3.6 .5-2.6 .4 2.2 .5 3.1 .4 2.3 .5-4.8 .4 .5 .5 .5 .4 .1 .5-2.3 .4 1.5 .5 1.9 .4-.3 .5-.2 .4-3 .5 1.4 .4-.5 .5 5.2 .4 1.2 .5-3.2 .4 3.6 .5-5.4 .4 0 .5-2.9 .4 4.5 .5-2 .4 1.6 .5 1.2 .4-2.1 .5-2.5 .4 3.1 .5 0 .4 .3 .5 1.9 .4-2.6 .5-.1 .4 5.8 .5-1.9 .4-3.3 .5-2.4 .4 1.4 .5 2.5 .4 1.3 .5 4.5 .4-7.6 .5 1.2 .4-1.4 .5 1.3 .4-1.3 .5-2 .4 6 .5-2.5 .4 3.4 .5-5.1 .4 2.2 .5 1.1 .4-7.2 .5 1.6 .4 6 .5-1.9 .4-5.5 .5 3.2 .4-.9 .5 1.7 .4 5.8 .5-6 .4 7.4 .5-6.4 .4-1.4 .5 6.6 .4-1.7 .5 1.2 .4 1.7 .5-2.5 .4 .4 .5-8.3 .4 2.6 .5 3.6 .4-.6 .5 1.5 .4-3.4 .5 4.5 .4 2.6 .5-4 .4 .7 .5-.9 .4 1.2 .5-2 .4-2 .5 2 .4-.2 .5-4.6 .4 5 .5-.6 .4 .6 .5-2.1 .4 2.9 .5 .4 .4-3.7 .5 2.9 .4 1.3 .5-.1 .4-4.7 .5-.2 .4 3 .5-3.1 .4 10.1 .5-9.4 .4 .1 .5 4.1 .4-3.2 .5-5.3 .4 6.3 .5-2.4 .4 1.3 .5-3.1 .4 2 .5 2.1 .4 .3 .5-2.9 .4 1.1 .5-.4 .4 2.8 .5-.8 .4-3.1 .5 5.4 .4-3.8 .5 3.1 .4-3.7 .5 3.5 .4-1.2 .5 .5 .4 1.3 .5-.2 .4-.7 .5 0 .4-4 .5 3.4 .4-6 .5-.1 .4 5.5 .5 .2 .4 4.9 .5-2.3 .4 1.2 .5-3.9 .4 2.1 .5 2.1 .4-1.8 .5-.5 .4-.7 .5-2.8 .4 .1 .5-1.5 .4 5.2 .5-1.9 .4-1.1 .5 2.9 .4-2.6 .5 4.6 .4 2.5 .5-4.1 .4-3.2 .5-2.3 .4 9.9 .5-4.3 .4-4.6 .5 6.4 .4-7.7 .5 3.4 .4 .6 .5-.3 .4-2.2 .5 10 .4-7.9 .5 2.3 .4-1 .5-4.6 .4 3 .5 2.1 .4 2.1 .5-3.6 .4 2 .5-1.9 .4 2.6 .5-8.6 .4 8.7 .5-3.4 .4 .1 .5-5.7 .4 4.4 .5 4.7 .4 4.8 .5-8.5 .4 .2 .5 3.2 .4-.5 .5-2.5 .4 1.2 .5-.6 .4 2.9 .5 .5 .4 2.7 .5-2.3 .4-.7 .5-1.4 .4 2.2 .5-5.4 .4 8.8 .5-5.2 .4 3.2 .5-6.2 .4 5.1 .5-1.7 .4-1.6 .5-1.4 .4-.6 .5 7.6 .4-1.6 .5-3.1 .4 .2 .5-2.6 .4-3.1 .5 .2 .4 3.3 .5 1.3 .4-2.8 .5 5.5 .4-.8 .5-.9 .4-5.4 .5 4.3 .4 .6 .5-3.5 .4-2.6 .5 11.6 .4-3.6 .5-2.9 .4 5.6 .5-1.3 .4-1.9 .5-.6 .4 1.6 .5 1.9 .4-3.9 .5-.8 .4 2.3 .5-8.9 .4 7.5 .5-1.3 .4 1.1 .5-.5 .4 1.5 .5-.7 .4 0 .5-.6 .4 1.7 .5-2.7 .4 4.2 .5-7.5 .4 5.3 .5 .7 .4-4.8 .5 2.4 .4 4.9 .5-4 .4-2.1 .5-4.8 .4 8.2 .5-.6 .4 1.4 .5 4 .4-5.7 .5 .4 .4-2.3 .5 1.8 .4 .1 .5 2.2 .4-.6 .5-3.6 .4 .8 .5 5.2 .4-6.5 .5 4.8 .4 2.4 .5-2.7 .4-1.1 .5 3.1 .4-2.8 .5-1 .4-.5 .5 3.8 .4-1.3 .5 2.4 .4-5.2 .5 0 .4-.3 .5 2 .4-2.7 .5 4.6 .4-1.7 .5-3.6 .4-4.6 .5 2.2 .4 9.2 .5-4.2 .4 .6 .5-1.6 .4 2.3 .5-6.5 .4-.2 .5 1 .4 4.8 .5 1.8 .4-.6 .5-1.7 .4-3.2 .5 5.8 .4-3 .5 .8 .4-.2 .5-1.1 .4-.7 .5 .4 .4-1.9 .5 4.3 .4-1.2 .5 3.4 .4-7.9 .5 8.3 .4-3.5 .5-.2 .4-1.8 .5 0 .4-1.9 .5 6.7 .4-3.1 .5 2.6 .4 .4 .5-3.7 .4 .7 .5-.3 .4 3.9 .5-2.5 .4 .1 .5 1.5 .4-2.2 .5 6 .4-8.3 .5 6.1 .4 .4 .5-7.1 .4 5.6 .5-1.6 .4 1.7 .5-5.8 .4 4.1 .5-3.5 .4 1.9 .5 4.9 .4-4.4 .5-5.9 .4 2.4 .5 .8 .4 6 .5-4.8 .4-2.4 .5 7.5 .4-2.4 .5 .3 .4-3.2 .5 6.2 .4-4.3 .5-5.1 .4 2.3 .5 .8 .4 2 .5 2.6 .4-4.2 .5 .4 .4 7.8 .5-5.9 .4-1.7 .5 1.6 .4-3.6 .5 5 .4 1.2 .5-4.3 .4 4.4 .5-3.5 .4 1.6 .5-2.9 .4-.1 .5-2 .4 4.8 .5-1.4 .4 .1 .5-2.4 .4-.1 .5 1.5 .4 3.1 .5-.5 .4-2.7 .5 2.7 .4 4.1 .5-4.6 .4 5.4 .5-4.4 .4 2.5 .5-5.2 .4 4.8 .5-6.6 .4 4 .5-1.6 .4-4.6 .5 1.8 .4 6.9 .5-1.8 .4 2.3 .5-3.1 .4-7.7 .5 7.9 .4-2.3 .5 .2 .4 .2 .5-.9 .4-.5 .5 6.1 .4-2.2 .5-3 .4 .6 .5 3.9 .4-1.6 .5-.5 .4-4 .5 2.2 .4-1.9 .5-2.2 .4 7.9 .5-3.4 .4-.2 .5-1.6 .4 4.8 .5 3.8 .4-4.2 .5 .9 .4-6 .5 4 .4 .1 .5 3.5 .4-4.1 .5-2.6 .4 2.4 .5-1 .4 5.3 .5-2.2 .4-.9 .5-.4 .4 1.8 .5-3.7 .4-1.2 .5-2.7 .4 8.6 .5-1.9 .4 .4 .5-1.7 .4 4.6 .5-7.4 .4 6.1 .5-5.7 .4 1.1 .5-2.1 .4 3.6 .5-1 .4 2 .5-2.8 .4-2.3 .5 5.5 .4 2 .5-1.5 .4-2.2 .5 1.3 .4-5.9 .5 3.8 .4 4.2 .5-2 .4-3.6 .5 4.8 .4-2.8 .5 2.4 .4-5.9 .5 2.4 .4 2.4 .5 0 .4 .7 .5-1.6 .4-.5 .5 1.9 .4 1.1 .5-6.7 .4 3.4 .5 .3 .4 1 .5 2.4 .4-6.5 .5 5.2 .4-6.3 .5 2.7 .4 .7 .5 .7 .4-1 .5 .3 .4 .5 .5 .2 .4-4.3 .5 1.2 .4 2.7 .5 2.7 .4 1.3 .5 4.5 .4-7 .5-2.5 .4 2.7 .5 1.4 .4-1.5 .5-3.3 .4 2.7 .5 .1 .4-3.7 .5 .5 .4 6.7 .5-9.5 .4 6.7 .5-1.2 .4 4.5 .5-2.1 .4-4.1 .5 5.9 .4-5 .5 7 .4-.9 .5-4.8 .4 2.4 .5-1.6 .4-3 .5 5.4 .4-1.8 .5 1.2 .4 .6 .5 1 .4-1 .5-3.1 .4 .5 .5 .9 .4-1.5 .5-.3 .4 5.8 .5-3.8 .4 3.9 .5-7.4 .4 2 .5-1 .4 .1 .5 .3 .4 .4 .5-.8 .4 6.1 .5-3.1 .4-3.9 .5 .6 .4 3.5 .5-.5 .4-3.2 .5 4.2 .4-6.4 .5 2.6 .4 6.1 .5-12 .4 6.6 .5 3.3 .4-3.1 .5-1.7 .4-.3 .5-3.3 .4 2.1 .5 3.8 .4-1.8 .5 1.6 .4-.4 .5 1.2 .4-5.4 .5 3.8 .4-.1 .5 0 .4-1.6 .5-3.5 .4 7.7 .5 .5 .4 4.3 .5-4.5 .4 2.5 .5-2.9 .4-2.7 .5 2.4 .4-4.6 .5 3.9 .4-1 .5-2.6 .4 6.3 .5-.3 .4-1.8 .5 .9 .4 2.3 .5-4.9 .4-3.4 .5 1.1 .4 4.5 .5-1.3 .4-4.7 .5 7.7 .4-3.1 .5 3.9 .4-1.4 .5-4.3 .4 1.5 .5-2.3 .4-.4 .5 1.5 .4 2.2 .5 2.3 .4-6.2 .5 4.4 .4-1.9 .5-.7 .4 3.7 .5-4.1 .4 4.7 .5-4.7 .4-1.7 .5 4.6 .4-6.1 .5 .7 .4 2.7 .5 .4 .4-.7 .5-4.8 .4 1.7 .5 5 .4 .1 .5-4.3 .4 3.4 .5-.2 .4 2.1 .5-4.9 .4 6 .5-4.9 .4 4.7 .5-1.5 .4-5.4 .5 1.8 .4 1.5 .5 1.9 .4-6.7 .5 2.3 .4 3 .5-.5 .4-4.4 .5 .3 .4 3.5 .5-4.2 .4 3.3 .5 1.7 .4-2.7 .5-7.5 .4 10.3 .5-.3 .4 .5 .5-1.8 .4-7.3 .5 8.2 .4-3.2 .5 1.3 .4-3.4 .5-.6 .4-.4 .5 4.6 .4-4.1 .5-1.8 .4-3.5 .5 4.3 .4-1.8 .5-.2 .4 1.6 .5-1.4 .4-2.8 .5-.2 .4-1.1 .5 .8 .4-1 .5-2.5 .4-3.7 .5 3.6 .4-1 .5-6.6 .4 2.8 .5-3.4 .4-6.2 .5 4.5 .4 1.4 .5-6.1 .4-1.3 .5 3.3 .4-7.2 .5-1 .4 .4 .5 1.4 .4-1.2 .5-4.2 .4-.4 .5 .3 .4-1.9 .5-1.7 .4-.9 .5 4.9 .4-2.4 .5 8.1 .4-4.8 .5-3.1 .4 3 .5 2 .4 1.3 .5 1.4 .4 1.4 .5-.3 .4 3.6 .5 5.7 .4-5.8 .5 1.7 .4 4.4 .5 2.9 .4 .2 .5 2.4 .4-2.2 .5 .7 .4 3.7 .5 1.2 .4 3.8 .5 .7 .4-8.3 .5 8.1 .4-3.1 .5-3.1 .4 7.7 .5-.8 .4 .3 .5-1.9 .4 1.4 .5 2.8 .4-3 .5 4.4 .4 1.1 .5-.2 .4 1.7 .5-.6 .4-2.6 .5 .7 .4 3.6 .5 2.6 .4-1.9 .5-1.5 .4 2.2 .5-5.2 .4 2.5 .5 2 .4 1.1 .5-.5 .4 .4 .5-2.3 .4 1.8 .5 2.5 .4-5.6 .5 2 .4 2.5 .5 5.2 .4-2.1 .5 2.6 .4-.5 .5-4.8 .4 1.2 .5-2.9 .4 6.6 .5-1.1 .4-.3 .5 .3 .4-.4 .5-.6 .4 .3 .5 2.7 .4-5.4 .5-.7 .4 3 .5 3.3 .4-2.5 .5-1.1 .4 2.9 .5-1.9 .4-5.4 .5 2.5 .4-2.9 .5 5.2 .4-.5 .5 2.5 .4 4.6 .5-7.4 .4 1.8 .5-1.1 .4-6 .5 5.1 .4 .2 .5 2.8 .4-3 .5-1.2 .4 5.2 .5-1.8 .4-2.2 .5 .4 .4 1.3 .5 3.2 .4 1.7 .5-7.5 .4 6.8 .5-3 .4 .9 .5 1.7 .4-5.2 .5 5 .4-5.9 .5 2.4 .4-1.1 .5 7 .4-.1 .5-2.3 .4-.7 .5-2.8 .4 6.3 .5-.9 .4-1.4 .5-2.7 .4-.6 .5 .7 .4 3.9 .5-6.2 .4 3 .5 4.2 .4-2 .5 2.3 .4-3.6 .5 .1 .4 2.7 .5-2 .4-.8 .5-2.3 .4-2.6 .5 8.1 .4-5.2 .5-.8 .4 4.4 .5-4.8 .4-1.2 .5 2.2 .4 1.4 .5 .9 .4 .7 .5 1.3 .4-3 .5 1.4 .4-1.3 .5-1.4 .4 2.9 .5-.1 .4 4.1 .5-3.4 .4-3.5 .5 3.5 .4-2.3 .5 5 .4-8.9 .5 2.9 .4 0 .5 2.2 .4-.7 .5-3.9 .4-.8 .5 5.6 .4 3.5 .5 0 .4-5 .5 2.4 .4-3.6 .5-1.6 .4 7.3 .5-1.5 .4-2.7 .5-.1 .4 3.5 .5-1.5 .4-1.8 .5 1.7 .4-.8 .5-1 .4-.9 .5 4.5 .4-3.8 .5-1.9 .4 8.2 .5-1.5 .4-2 .5-1.6 .4 .8 .5-4.5 .4 3.9 .5 .8 .4-1.2 .5 1.7 .4-3.2 .5 2.5 .4-4.7 .5 4.2 .4-1.6 .5-1.9 .4 2.5 .5 1.2 .4-1.7 .5 4.2 .4-4.4 .5 4.4 .4-.5 .5-3.6 .4 5.5 .5-7.5 .4 5.1 .5-1.2 .4 1.8 .5-6.2 .4 1 .5 1 .4 2.3 .5 .2 .4-.2 .5-.7 .4-1.2 .5-1.8 .4 2.5 .5 2.6 .4 1.3 .5-4 .4 4.2 .5-6.5 .4 5.8 .5-5 .4 3.5 .5-3.2 .4 0 .5 1.2 .4 5.3 .5-5.6 .4 3.4 .5-1.2 .4 .4 .5 0 .4 .9 .5-4.9 .4 3.4 .5 .8 .4-2.5 .5 2.5 .4-3.7 .5 4.7 .4-3.8 .5 1.2 .4 2.9 .5 .7 .4-4.4 .5-.2 .4 4.4 .5-9.8 .4 10.8 .5-.1 .4-6.3 .5 6 .4-2.2 .5 .3 .4-7.5 .5 4.9 .4 .8 .5-.5 .4 0 .5 .3 .4-6.4 .5 6.7 .4-1.3 .5 1.6 .4-1.1 .5 1.3 .4 .8 .5 4 .4-7 .5 6.8 .4-5.2 .5-1.7 .4-1.5 .5 6.2 .4-6.4 .5 6.5 .4-1.5 .5-2.4 .4-.3 .5 3.1 .4-.9 .5 1.6 .4-2 .5-1.3 .4 2.8 .5-4.7 .4 5.5 .5-2.1 .4-3.1 .5 .2 .4 1.9 .5-4 .4 8.6 .5-1.1 .4-5.6 .5 2.7 .4 4.8 .5-3.4 .4-3.8 .5-3.1 .4 1.4 .5 7.6 .4-2.4 .5-4.3 .4 5.4 .5-2.9 .4-.8 .5 .4 .4 .1 .5 5.8 .4-7 .5 1.4 .4 4.7 .5 .5 .4-6.7 .5 8.2 .4-2.6 .5-7 .4 8.9 .5-8.9 .4 5.9 .5-5 .4-1.7 .5 7.1 .4-1.1 .5-1.4 .4 .7 .5-.8 .4-.4 .5-2.2 .4 4.5 .5-1.5 .4-.7 .5-.9 .4 .8 .5-3.4 .4 3.3 .5-1.8 .4 6.1 .5-6.1 .4 1.4 .5 1.3 .4 2.1 .5-.9 .4-1.2 .5 5.8 .4-5.9 .5 .9 .4 6.2 .5-9.5 .4 5 .5-1.4 .4-4.7 .5 1.8 .4 4 .5-6.2 .4 3.4 .5 3.1 .4-3.2 .5 1.4 .4-2.6 .5 .1 .4 .1 .5 .7 .4 2.6 .5-1.5 .4 5.2 .5-3.9 .4-.7 .5 5.3 .4-6.4 .5-1.9 .4 2.7 .5-3.4 .4 4.3 .5 2.3 .4-1.9 .5-2.9 .4 .7 .5 1.7 .4 1.9 .5-4.2 .4-.1 .5 4.1 .4-2.4 .5 .4 .4 .3 .5-3.4 .4 1.7 .5 3.3 .4-3.3 .5-.1 .4 1.4 .5 .2 .4 5.8 .5-9 .4 2.5 .5 5.1 .4-5.4 .5 1 .4-5 .5 6.6 .4-.3 .5-.1 .4-2.7 .5 1.5 .4-1.2 .5 2.5 .4-2.4 .5 2.2 .4-5.8 .5 2.8 .4-6.3 .5 6.7 .4 2.5 .5-2.7 .4 7 .5-9 .4 1.7 .5-1.6 .4 1.2 .5 .1 .4-2.7 .5 1.3 .4 8.1 .5-6.2 .4 3.2 .5-5.9 .4 3.1 .5 1.8 .4-1.9 .5-.9 .4 .8 .5 .6 .4 2.2 .5 1 .4-6.8 .5-2 .4 5 .5 .5 .4 2 .5 .9 .4-4.7 .5 7.4 .4-4.9 .5-5.5 .4 7.4 .5-1.8 .4 0 .5-5.1 .4 3.5 .5 1.3 .4-.9 .5 2.3 .4 1.5 .5 .8 .4-.8 .5-3.8 .4 5.1 .5-4 .4 1.6 .5-2.9 .4-3.2 .5-2.3 .4 6.6 .5-2.3 .4 1.8 .5 2.4 .4-6.5 .5-.6 .4 5.4 .5 .3 .4-1.7 .5-.7 .4-2.9 .5 4.1 .4-1.8 .5 3.2 .4 1.4 .5-4.1 .4 2.6 .5-.6 .4 1.4 .5 2.3 .4-2.4 .5 .1 .4 .3 .5-3.3 .4 1.1 .5 .9 .4 2.5 .5 .1 .4 2.7 .5-9.1 .4 2.8 .5-4.6 .4 3.3 .5-3 .4 7.6 .5-1.1 .4-5 .5 3.8 .4 1.1 .5 2.7 .4-2.4 .5-1.9 .4-.6 .5 1.9 .4-.9 .5-2.1 .4-2 .5 6.2 .4-4.8 .5 1.2 .4 2.9 .5-2.3 .4 3.2 .5-6.1 .4 5.1 .5-5.7 .4-.5 .5 1.3 .4 3.1 .5-2.1 .4-1.9 .5 7 .4-5.9 .5 2.3 .4 1 .5-2 .4 2.3 .5 .7 .4-2 .5 3.1 .4-4.4 .5-1.3 .4 3.5 .5-3.2 .4 3.6 .5-1.3 .4-1 .5 2.9 .4-.1 .5-8.6 .4 6.2 .5 1.3 .4 .9 .5-2.8 .4-1.6 .5 3.4 .4 1.5 .5-7.4 .4 1.5 .5 2.5 .4-5.4 .5 5.4 .4 3.8 .5-5.1 .4 3.3 .5-2.8 .4 3.5 .5 .7 .4 1.7 .5-3.3 .4 2.6 .5-1.7 .4-2.4 .5 5.3 .4-5.6 .5 2.1 .4 6.1 .5-4.3 .4-4.5 .5 3 .4-2.3 .5 1.1 .4-3.7 .5 4.7 .4-4.8 .5 5.2 .4 0 .5 1.3 .4 3.7 .5-10.5 .4 1.3 .5 .5 .4 1.2 .5 3.9 .4-3.3 .5-.7 .4-1.5 .5 1.4 .4 .5 .5 .9 .4-3.6 .5 3.7 .4 1.7 .5-.6 .4-4.3 .5 5.6 .4 0 .5-1.4 .4-4.1 .5-.7 .4 4.1 .5-2.9 .4-.8 .5 6 .4 .1 .5-.8 .4 1.8 .5-1.1 .4-5.5 .5 6.2 .4-2.8 .5 .9 .4 3 .5-3 .4 3.1 .5-4.2 .4-1.1 .5-.9 .4 1.5 .5-4.2 .4 4.4 .5-.1 .4-1.2 .5-4.6 .4 .3 .5 7.7 .4-4.5 .5 6.3 .4-5.6 .5 2.9 .4-4.9 .5 2.2 .4 1.1 .5 2.2 .4 3 .5-2 .4-6.5 .5 3.9 .4-.5 .5-1.2 .4 3.3 .5 2.7 .4-5.5 .5 4.2 .4 .8 .5-6.7 .4 7.7 .5-.2 .4-3.8 .5 3.8 .4-3.9 .5 2.4 .4-1.3 .5-4.1 .4 3 .5-1.2 .4-.8 .5-1.8 .4 1 .5-1.2 .4 6.4 .5-8.4 .4 5.5 .5-1.9 .4-1.7 .5 5.4 .4-4.2 .5 5.5 .4-3.8 .5 1.4 .4-1.3 .5 2.2 .4 .7 .5-3.7 .4 1.2 .5 4.8 .4-6.4 .5 6.5 .4-6 .5-.4 .4-3.1 .5 2.3 .4-2.4 .5 3.1 .4 3.5 .5-2.1 .4-1.4 .5-1.2 .4 .9 .5-2 .4 .5 .5 8.7 .4-4.7 .5-3.1 .4 4.3 .5 2.3 .4-5.8 .5 1.4 .4-3.1 .5-.9 .4 8 .5 3.3 .4-9 .5-2.4 .4 8.2 .5-.9 .4-1.6 .5 2.7 .4-4.9 .5 1.6 .4 1.4 .5-3 .4 2.2 .5-1.9 .4 1.8 .5-.8 .4-5.8 .5 5.6 .4-4.1 .5 1.6 .4-2.2 .5 6.7 .4-3.1 .5-.2 .4 4.5 .5-1.5 .4-2.5 .5-5 .4 7.4 .5-2.5 .4-.3 .5 3 .4-3.7 .5 1.5 .4 2.6 .5-.9 .4-3.2 .5 5.6 .4-.8 .5 2 .4-5.3 .5 .8 .4 2.2 .5-1.6 .4-.8 .5-.7 .4-.5 .5-1 .4 .1 .5 2.8 .4-1.9 .5-3 .4 3.9 .5 4.4 .4-.8 .5-9.1 .4 3.1 .5 4.4 .4-1.9"/>
<path fill="none" stroke="#ff0000" stroke-width="7.0" stroke-linejoin="round" stroke-linecap="butt" d="M205 681.7l.4 1.6 .5-.5 .4 5 .5 14.7 .4-21.1 .5 18.1 .4 2.4 .5-11.1 .4-2.2 .5 8.5 .4 5.4 .5 6.8 .4-8.6 .5 5.1 .4-14.1 .5-2.7 .4-5.7 .5 4.2 .4 5.7 .5 4.1 .4-10.3 .5 15.1 .4-6.2 .5-3.6 .4-.6 .5 19.7 .4-12.8 .5-7.2 .4-.2 .5 19.7 .4-16.7 .5 12.6 .4 1.8 .5-26 .4 25.9 .5-10.7 .4-6 .5 4 .4 7.9 .5-1.1 .4 .6 .5-7.9 .4 14.2 .5 1.7 .4 2.5 .5-5.7 .4 6.5 .5 1.5 .4-9.5 .5 1.4 .4-2 .5 0 .4 2.3 .5-17.8 .4 9.8 .5 5.8 .4-18 .5 4.8 .4 21.3 .5-18.4 .4 4.3 .5 6 .4-5.8 .5-2.6 .4 2.6 .5 .7 .4-.9 .5 5.4 .4 10.1 .5-8.7 .4 9 .5-6.1 .4 .8 .5-1.7 .4-6.1 .5 5.1 .4-.7 .5-9.9 .4 13.1 .5-1.1 .4-1.4 .5-6.4 .4-14.2 .5 28.5 .4-10.7 .5-14.7 .4 19.9 .5-9.4 .4 9.8 .5-5.5 .4 8.7 .5-6.2 .4 .4 .5-.9 .4 7.7 .5-17.7 .4 17.4 .5-3.3 .4-8.7 .5 3.9 .4-3 .5 3.6 .4 6.2 .5-11.3 .4 10 .5 1.5 .4-2.1 .5 6.5 .4-11.3 .5 5.4 .4 12.5 .5-17.1 .4-1.1 .5 1 .4 4.2 .5-8.4 .4 2.6 .5-10.5 .4 5 .5 .3 .4-1 .5 5.1 .4 8 .5-7.5 .4-6.5 .5 11 .4-.5 .5-11 .4 10.9 .5-8.5 .4 3.1 .5-.6 .4 10.9 .5-11.5 .4 3.6 .5 3.5 .4 6 .5 1.1 .4-15.4 .5 15.5 .4-6.2 .5 6.3 .4-.9 .5-11.1 .4 4 .5-2.3 .4 4.7 .5 9 .4-11.1 .5-5 .4 22.4 .5-24.7 .4 7 .5-.1 .4-8.7 .5 14.4 .4 1.9 .5-8 .4 1 .5-1.5 .4-11.1 .5 14 .4-10.4 .5 2.1 .4 9.4 .5 3.8 .4-12.6 .5 14.1 .4 4.4 .5-11.1 .4-1.8 .5 2 .4-4.2 .5-3.1 .4 10.5 .5 .5 .4-8.5 .5 .7 .4-1.5 .5-.5 .4-1.9 .5-3.7 .4 16.8 .5-8.7 .4 2.9 .5 12.1 .4-15.9 .5 7.4 .4-13.4 .5 5 .4 9.3 .5-6.7 .4-8.1 .5-.8 .4 13.1 .5-8.8 .4 11.2 .5-2.8 .4-4.1 .5 1.7 .4 5.7 .5-5 .4-6.8 .5 9 .4-4.8 .5 .9 .4 5.5 .5-1.6 .4 4.8 .5-8.4 .4-1.8 .5 .8 .4 5 .5-8.2 .4 3.1 .5-3.3 .4 .5 .5 4.1 .4 17.9 .5-19.3 .4 4.4 .5-1.1 .4-1.8 .5 1.4 .4 13.3 .5-15.3 .4 12.8 .5-6.5 .4-10.4 .5 1.5 .4 1.3 .5-4.2 .4 15.3 .5-5.1 .4 .8 .5-10.6 .4 10.2 .5-6.8 .4 20.2 .5-17.2 .4 2.6 .5 .9 .4-6.1 .5 .6 .4 0 .5 8.5 .4-10.8 .5 3.9 .4 3.3 .5-5 .4-6.5 .5 1.2 .4 5.2 .5-3.7 .4 13.1 .5-6.4 .4-.3 .5-6.7 .4 10.4 .5-6 .4-4 .5 2.1 .4 20.6 .5-20.4 .4-1.8 .5 13.8 .4-2.9 .5-6.9 .4 11.3 .5-19.4 .4 6.7 .5-7.9 .4 20.4 .5-9 .4 17.3 .5-14.4 .4 0 .5-10.9 .4-.4 .5 4.7 .4 9.4 .5-13.2 .4-9.2 .5 21.9 .4 .4 .5-12.5 .4 9.2 .5 4.6 .4 .3 .5-18.6 .4 11 .5-5.7 .4 11.8 .5-6 .4-8.9 .5 8.9 .4 3.3 .5-14.6 .4 1.3 .5 4.6 .4 2.5 .5-1.9 .4-8.6 .5 1.8 .4 10.4 .5 3 .4-8.9 .5 7.2 .4 11.8 .5-14.3 .4-1.6 .5-1.8 .4 8.1 .5-1.7 .4 .2 .5-4.3 .4 5.4 .5 0 .4-3.8 .5 8.9 .4-18.5 .5 15.5 .4-5.7 .5 6.6 .4 7.3 .5-12.7 .4-1.6 .5 1.1 .4 9.7 .5 1.1 .4-9.4 .5 3.3 .4 7.9 .5-8.7 .4-13.9 .5 4.6 .4 2.3 .5 6 .4-6.5 .5 13.4 .4-12.8 .5 14 .4-15.3 .5 13.8 .4-8 .5 8.5 .4 3.7 .5-1.4 .4-4.9 .5-12.3 .4-.5 .5-12.8 .4 28.5 .5-1.4 .4-1.7 .5-14.9 .4 25.7 .5-22.6 .4 10.6 .5-17.2 .4 6.9 .5 12.7 .4-1.4 .5-14.7 .4 6.8 .5 8.3 .4-20.6 .5 18 .4-16.1 .5 15 .4-6.2 .5 8.5 .4-10.5 .5 1 .4-.1 .5-4.3 .4 4.6 .5-5.3 .4 3.1 .5 8.5 .4-7.1 .5 9.6 .4-2.6 .5 .8 .4-13.8 .5 10.7 .4 7.1 .5-3.8 .4 2.1 .5 2 .4-21.2 .5 14.4 .4-.2 .5-5.2 .4-7.9 .5 10.1 .4-2.2 .5 14.6 .4-4.5 .5-12.1 .4-4.5 .5 1.3 .4 5.5 .5-4.8 .4 18.8 .5-22.1 .4 7.6 .5 1.6 .4 1.8 .5-9.4 .4 4.8 .5 2.8 .4 1 .5-6.4 .4 1.9 .5 3.6 .4 11.8 .5-21.8 .4 13.2 .5 6.2 .4-20.7 .5 19.7 .4-.3 .5-9.3 .4 6.2 .5 3.6 .4-11.3 .5 2.7 .4-9.1 .5 2.7 .4 5.3 .5-1.1 .4 11.8 .5-12.7 .4-6.8 .5 14.5 .4 .3 .5-3.6 .4-3.7 .5-4.6 .4 1 .5 15.1 .4-5.1 .5-4.8 .4 2.2 .5-5.3 .4-4 .5 3.1 .4 2.9 .5-11 .4 1.3 .5-2 .4 8.8 .5 7.4 .4-13.6 .5 1.3 .4-3.3 .5 7.9 .4-5.1 .5 1.2 .4-.7 .5 23.3 .4-16.3 .5-3.9 .4 1.4 .5 9.2 .4 .7 .5-4.9 .4-15.5 .5 20.5 .4 .5 .5-2 .4-2.1 .5-2.7 .4 7.8 .5-10.4 .4 9.3 .5-10.6 .4 .7 .5-.4 .4-.8 .5 .5 .4 8.6 .5 5.6 .4-15.7 .5-2.4 .4 15.9 .5-11 .4 4.3 .5-.9 .4 5.3 .5-12.5 .4 14.1 .5-2.4 .4-20.8 .5 14.1 .4-1.5 .5 5.3 .4-3.1 .5-4.8 .4 2.8 .5 4.8 .4-2.1 .5-1.4 .4 16.5 .5-11.7 .4-11.4 .5 8.5 .4 1.5 .5-9.2 .4 7.7 .5-6.6 .4-9.6 .5 17.8 .4 2 .5-.1 .4-5.3 .5-3.1 .4 5.7 .5 1.4 .4 3.4 .5 2.9 .4-3.7 .5-9.6 .4 3.7 .5-9.4 .4 14.7 .5-1 .4 4.2 .5-4.8 .4 7.4 .5-15.7 .4 7.1 .5-4.1 .4 .2 .5-10.8 .4 7 .5-8.7 .4 11.4 .5-2.6 .4 5.7 .5-13.6 .4 8.9 .5 1.7 .4-14.2 .5 27.1 .4-8.1 .5-8.7 .4 18.3 .5-3.8 .4-26.6 .5 15 .4-2.4 .5 4.6 .4-7 .5 4.7 .4 2.2 .5-17.9 .4 18 .5 8.8 .4-8.9 .5 7 .4 2.9 .5-9 .4 .6 .5 0 .4-5.8 .5 18.7 .4-12.8 .5 .7 .4 2.7 .5 3.5 .4-19.8 .5 2.3 .4 8 .5 2.5 .4-12.1 .5-1.3 .4 14.8 .5-.5 .4-7.1 .5-.1 .4-2.6 .5-3.8 .4 1.9 .5 7.1 .4-2.6 .5 7.9 .4-16 .5-2.8 .4 15.7 .5-10.7 .4 4.3 .5 2.2 .4-9.1 .5-2 .4 12.4 .5-19.7 .4 21.8 .5-16.8 .4 17.8 .5-3.6 .4-.6 .5 1.6 .4-2.5 .5-10.7 .4 15.2 .5-5 .4 2.2 .5-4.3 .4-1 .5 8.1 .4 0 .5-5.1 .4-10.1 .5 1.7 .4-.6 .5 14.7 .4-4.4 .5-3.1 .4-1.6 .5-4.2 .4 10.6 .5-13 .4 1.2 .5 11.7 .4-1.6 .5-5 .4-8.5 .5-.1 .4 14.6 .5-3.4 .4 7.6 .5-13.7 .4 2.6 .5-6.2 .4 17.9 .5-23.3 .4 15.9 .5 6.8 .4-18 .5-3.6 .4 2.9 .5-3 .4 12.2 .5-3.2 .4-5.9 .5 4.3 .4 12.3 .5-12.4 .4-1.1 .5 16.2 .4-19.9 .5 2.8 .4 13.4 .5-10.1 .4-13.7 .5 7.1 .4-9.8 .5 11 .4 6.6 .5-13.8 .4 22 .5-2 .4-3.3 .5-10.8 .4 5.2 .5 3.5 .4 2.7 .5 2.1 .4-24.1 .5 10 .4-3.3 .5 5.7 .4 3.7 .5 14.5 .4-16.9 .5 6.9 .4-5.7 .5-1.1 .4 12.4 .5-20.2 .4 12.4 .5 9.7 .4 3.8 .5-22.1 .4-3 .5-2.4 .4 5.8 .5 2.8 .4 0 .5 7.7 .4-10.3 .5 4.4 .4-14 .5 6.9 .4 3.4 .5-15.6 .4 17.3 .5 5.3 .4-5.7 .5 .9 .4-1.7 .5-8.4 .4 8.6 .5-4.4 .4 4.6 .5-.3 .4 .3 .5-10.2 .4 8.8 .5 12.6 .4-5.8 .5-8.3 .4-3.5 .5 12 .4-7.1 .5-12.5 .4 9.2 .5 14.9 .4-23.7 .5 12.2 .4-5.8 .5 4.7 .4-2.5 .5-3.3 .4-11.6 .5 16.1 .4 1.7 .5-1.3 .4-6.6 .5 3.1 .4 19.9 .5-23.6 .4 5.6 .5-6.6 .4 7.2 .5 3.3 .4 6.7 .5-7 .4-1.6 .5 2.5 .4 1.4 .5-4.2 .4 0 .5 8.8 .4-13.7 .5 4.4 .4-5.9 .5 2.7 .4 14.1 .5-15.5 .4 8.6 .5 11.2 .4-11.2 .5-4.9 .4-4.4 .5-12.2 .4 10.9 .5 .2 .4 13.2 .5-1.9 .4-14.1 .5 13.5 .4-8.9 .5 17.3 .4-2.4 .5-5.7 .4-7.5 .5 15.3 .4-6.2 .5 2 .4-4.3 .5-5.5 .4 7.4 .5-11.4 .4 11.5 .5-4.3 .4-13 .5 15.1 .4-3.8 .5-2.4 .4 2.1 .5 6 .4-13.5 .5 .5 .4 12.6 .5-3.8 .4-13.5 .5 13 .4-12.9 .5 16.8 .4-2.9 .5 1.4 .4-14.2 .5 5.1 .4 11.6 .5-16 .4 13.5 .5-5.2 .4 2.5 .5-6.9 .4 10 .5-1.4 .4 3.2 .5 11.5 .4-18.9 .5 2 .4-7.9 .5 19.7 .4-14.7 .5 7.9 .4-13.4 .5 6.3 .4 6 .5-.8 .4-5.3 .5 8.3 .4-5.5 .5 6.6 .4-9 .5 6.3 .4-7.9 .5 12.3 .4-8.9 .5 .4 .4-4.4 .5 11.1 .4-6 .5-2.7 .4 10.9 .5-14.7 .4 12.3 .5 3.6 .4-22.7 .5 18.4 .4-2.5 .5-2.4 .4 1 .5-11 .4 12 .5-1.9 .4-12.1 .5 9.1 .4-7.1 .5 9.1 .4-7 .5 7 .4-10.8 .5 6.2 .4 .9 .5 1.4 .4 9.4 .5 7.3 .4-25.9 .5 16.5 .4-7.8 .5-.1 .4-.1 .5 1.1 .4 .5 .5 6.4 .4 3.1 .5-6.4 .4-2.1 .5 3.7 .4-1.2 .5 9.9 .4-19.3 .5-3.1 .4 7.8 .5 3.9 .4-3.7 .5 3 .4-19.5 .5 12.5 .4 .7 .5-4.8 .4 5.1 .5 2.5 .4 4.3 .5-9.1 .4-5.1 .5 14.2 .4 10.6 .5-12.3 .4-.1 .5-7.6 .4 8.3 .5 9.4 .4-24.2 .5 20.5 .4-20.3 .5 23.7 .4-4.4 .5-7.6 .4 4.1 .5 9.6 .4-18.6 .5 15.6 .4-4 .5-3.8 .4 10 .5-21 .4 10.6 .5-7.2 .4 7.9 .5 4.1 .4-14.4 .5 12.9 .4 .2 .5-5.8 .4 3.6 .5 8.1 .4-5.1 .5 9.1 .4-18.1 .5-1.2 .4 16.8 .5-17.1 .4 17.5 .5-8.1 .4 4.8 .5-6.7 .4 9.5 .5 2.2 .4-.7 .5-4.6 .4-12 .5 15.6 .4-5.6 .5 8.3 .4-18.8 .5 13.3 .4-5.7 .5 2.9 .4 6.3 .5-.2 .4 4.3 .5-6.3 .4 .8 .5-1.4 .4-9.6 .5 15.1 .4-12.5 .5 2.2 .4 6.5 .5-7.2 .4 1.6 .5-13.3 .4 10.9 .5-1.5 .4 3.4 .5 7.9 .4-5.2 .5 1 .4 1.8 .5 6.2 .4 .7 .5-4.2 .4-4.2 .5 7.7 .4-7.7 .5 1 .4 3.4 .5-5.1 .4-3.8 .5-.8 .4 6.3 .5 3.6 .4 3 .5-9.2 .4 6.8 .5-1.1 .4-2.9 .5 19.6 .4-21.1 .5-.5 .4 6.6 .5 9.4 .4-12.3 .5 11.3 .4-15.1 .5 4.2 .4 1.5 .5-.2 .4 2.2 .5-.8 .4-.5 .5-4.9 .4 9.9 .5-2.7 .4 1.5 .5 6.3 .4-4.2 .5-1.5 .4 7.8 .5-11.8 .4-7 .5 6.6 .4-4 .5 6.4 .4 .3 .5 1.2 .4 2.4 .5 2.4 .4-1.1 .5-1.6 .4-2.7 .5-1 .4 3.1 .5-1.3 .4-5.1 .5 4.4 .4 7.2 .5-3.9 .4-5.4 .5 6.9 .4 2.7 .5-10.5 .4 17.3 .5-3 .4-7.9 .5 8.2 .4-5.2 .5 2.6 .4-9.2 .5 2.6 .4 1.8 .5 1 .4-2.2 .5-6.6 .4 3.2 .5 9.7 .4-4.9 .5 12.9 .4-1.7 .5-9.6 .4 2.8 .5-12.3 .4 15.8 .5 2.7 .4-11.3 .5 .2 .4 1.5 .5 8.2 .4 2.1 .5-12.2 .4 3.9 .5 5.9 .4-1.7 .5-2.9 .4 5.2 .5-8.4 .4-3.3 .5 13 .4 1 .5 3.8 .4-9.6 .5-2.9 .4 5.8 .5-.6 .4 1.1 .5-.5 .4 8.8 .5-5.9 .4 6.6 .5-12.1 .4-1.5 .5 11.9 .4-12.5 .5 .6 .4 .5 .5-4 .4 14.3 .5 7.6 .4-6.4 .5 2 .4-6.8 .5-3.4 .4 9.4 .5-9.9 .4-1.9 .5 4.4 .4 11.9 .5-3.7 .4-3.4 .5-4.7 .4 1.1 .5 8.1 .4-2.1 .5-3.8 .4 11.8 .5-10.4 .4-5.4 .5 8.5 .4 8.3 .5-1.8 .4 1.7 .5-10.1 .4 7.9 .5-1.4 .4-2 .5-5 .4 14.7 .5-6.4 .4-3.6 .5 8.2 .4 11.1 .5-23.9 .4 11 .5 9.7 .4 .4 .5-16.8 .4 3.4 .5-8.8 .4 12.4 .5-8.8 .4 3.2 .5 15.2 .4-15.3 .5-3.1 .4 11.2 .5 1.6 .4 .5 .5 6.1 .4-10.8 .5 3.8 .4 5 .5-5.9 .4 11.2 .5-2.1 .4-5.3 .5-.9 .4 1.7 .5 2 .4-13.3 .5 4.3 .4 3.3 .5-.1 .4 1.5 .5 .5 .4 4.3 .5-2.2 .4 4.3 .5 .1 .4-2 .5-1.9 .4-1.6 .5 9.2 .4-7.1 .5 4.3 .4 3.7 .5-3.3 .4-10.4 .5 5.1 .4 16.3 .5-21 .4 17.2 .5-13.7 .4 7.2 .5 6 .4-12 .5 12.1 .4-18.8 .5 12.4 .4-2.6 .5 6.4 .4 2.4 .5 2.6 .4 0 .5-8.9 .4-2.6 .5 8.1 .4-5.5 .5-9 .4-.2 .5 10.5 .4 .2 .5 3.1 .4 .9 .5-10.3 .4 11.4 .5-8.2 .4 9.4 .5-2.4 .4 9.6 .5-6.8 .4-5.1 .5 2 .4 1.9 .5 3.4 .4 1.4 .5-9.3 .4-.5 .5 10.5 .4-4 .5 6.5 .4-3.1 .5 7.3 .4-5.8 .5-10.6 .4 4.9 .5 5.9 .4-9 .5 6.4 .4 4 .5 2.8 .4-1.1 .5-13.4 .4 15.7 .5-11.7 .4 5.9 .5-4.9 .4 10.3 .5-5.4 .4 2 .5 1.4 .4-2.7 .5-2.9 .4 12 .5-4.5 .4 1.3 .5-14.2 .4-1.1 .5 21 .4-5.2 .5-13.8 .4 12.5 .5-1.6 .4-5.9 .5 3.4 .4 12.9 .5-14.1 .4 7 .5-7.1 .4-3.8 .5 22.5 .4-9.6 .5-6.3 .4 .8 .5 .8 .4-4.2 .5 8.6 .4 1.2 .5-5.7 .4 2.3 .5-6.8 .4 8.9 .5-12.2 .4 10.6 .5 8.9 .4-9.4 .5 16.9 .4-21 .5 4.9 .4 1.5 .5 5.5 .4 1.8 .5-5.5 .4-9.1 .5 16.5 .4-4.1 .5 1.1 .4-13.1 .5 11.6 .4-3.3 .5 6.4 .4 4.4 .5-13.9 .4 4.2 .5 1 .4-4.2 .5 7.4 .4 0 .5-7.4 .4 .4 .5 6.3 .4-10.9 .5 11.6 .4 3.2 .5 .2 .4-9.5 .5 14.9 .4 1.8 .5-17 .4 15.6 .5-1.9 .4-2 .5-8.7 .4 9.8 .5-11.1 .4 6.5 .5 4.4 .4-1.4 .5-3.9 .4 3.7 .5-2.4 .4 2.4 .5-5.3 .4-1.9 .5 3.5 .4-3.4 .5 12.8 .4 7.9 .5-9.9 .4 2.8 .5-11.5 .4 5 .5-4.9 .4 9.5 .5-2.6 .4-5.7 .5 12.9 .4-7.4 .5 4.5 .4 .9 .5 2.9 .4-.5 .5-6.3 .4-1.3 .5-1.9 .4-2 .5 14.8 .4-12 .5 10.5 .4-11.7 .5 .9 .4 8.9 .5-5.8 .4-3.1 .5 12.6 .4-14.8 .5 2.6 .4 7.9 .5 4.5 .4-7.7 .5-4.1 .4 16 .5-11.2 .4-3.1 .5 4 .4 5.7 .5-19.3 .4 8.3 .5 9.3 .4-.7 .5-2.3 .4-.8 .5 4 .4 2.8 .5-8.2 .4 1 .5 6.3 .4-5.4 .5-4.8 .4 6 .5-4.5 .4 9 .5 1.6 .4-7.4 .5 2.8 .4 2.8 .5 4.8 .4-.9 .5-3.5 .4 .8 .5 5.4 .4-3.3 .5-.3 .4-7.9 .5 6.7 .4 1.6 .5-1.6 .4-5.4 .5-3.7 .4 12.4 .5 .4 .4-2.3 .5-5 .4 2.4 .5 2.2 .4 4.3 .5-3 .4-4.3 .5 1.7 .4-3.1 .5 15.2 .4-12.4 .5 11 .4-5.5 .5 7.9 .4-14.2 .5 9.3 .4-8 .5 .3 .4 .9 .5-2.7 .4 2.3 .5 3.3 .4 9.7 .5-10.2 .4-5.2 .5 10.8 .4 4 .5-19.4 .4 15.2 .5-9.1 .4-2.1 .5 12.6 .4 4.3 .5 2.1 .4-8.8 .5-1.8 .4 3 .5 2.3 .4 1.7 .5 2.6 .4-4.5 .5 1.1 .4-1.6 .5-4.6 .4 6.1 .5 5.4 .4-3.4 .5-14.2 .4 18.5 .5-11.7 .4 15.8 .5-.6 .4-7 .5 6 .4-13.2 .5 3.3 .4-2.4 .5 5.4 .4-1.3 .5 1 .4-.4 .5 6.9 .4-7.2 .5-2 .4 2.8 .5 1.9 .4 0 .5-7.2 .4 2.8 .5 1 .4-2.9 .5-3.3 .4 5 .5-9.9 .4 11.7 .5-4.7 .4 4.9 .5 1 .4 10.3 .5 .7 .4 1.4 .5-10.4 .4-2.7 .5 6.8 .4-9.2 .5 4.9 .4-3.2 .5 3.7 .4 4.1 .5-8.9 .4 6.8 .5-.2 .4 .3 .5 1.4 .4-4.2 .5 1.7 .4-1.2 .5-5.7 .4 15.1 .5-3.7 .4 0 .5-6.4 .4-5.2 .5 10.1 .4-5.6 .5 13.4 .4-.2 .5-10.9 .4 9.3 .5-2.9 .4-3.7 .5-7.1 .4 10.8 .5 1.5 .4 .3 .5-6.8 .4 3 .5 .2 .4 .1 .5-3 .4 8.4 .5-2.3 .4-4.5 .5 4.1 .4 2.8 .5-2.9 .4 0 .5 2.4 .4-7.3 .5 7.1 .4-6.4 .5 4.4 .4 5.1 .5-8 .4 7.9 .5-2.2 .4 3.5 .5-13.6 .4-6.2 .5 9.1 .4 14.8 .5-8.4 .4-2.5 .5 1.5 .4 2.2 .5-2.8 .4 12 .5-10.4 .4-6.8 .5 .3 .4 5.7 .5 .7 .4 4.1 .5 .7 .4 .5 .5-9.7 .4 7 .5-5 .4 4.1 .5-5.8 .4 11.5 .5 .4 .4-4.8 .5-6.1 .4 9.7 .5-3.5 .4-7.8 .5 9.6 .4 1.2 .5-1.7 .4-10.7 .5 11.8 .4 1.4 .5-7.3 .4 8.1 .5-2.7 .4 2.3 .5-12.7 .4 6.9 .5 3.8 .4-9.3 .5 7.7 .4 7.7 .5-15.3 .4 14 .5-2.3 .4-8.3 .5 .4 .4-.2 .5 5.7 .4-12.4 .5 14.3 .4-10.3 .5 5.5 .4-.2 .5 5.7 .4-8.2 .5 .8 .4 9.6 .5 2.2 .4-7.9 .5-1.4 .4 3 .5-.8 .4-.2 .5-4.7 .4-5.7 .5 11.6 .4-1.3 .5 5.7 .4-.1 .5 2.6 .4-10 .5 5.8 .4-9.2 .5 7.1 .4 1.2 .5-5.7 .4 3 .5 12 .4-15.4 .5 9 .4-6.6 .5 6 .4-16.2 .5 6 .4 5 .5 9 .4-8.4 .5-5 .4 3.8 .5 5.7 .4-10.8 .5 7.6 .4-1.1 .5-.9 .4 3.8 .5-5.3 .4 6.3 .5 .3 .4 5.2 .5-6.4 .4-1.8 .5-4.7 .4 2.7 .5-3.4 .4 12.4 .5-17 .4 12.8 .5 .2 .4 1 .5-5 .4 12.3 .5-11.7 .4-5.7 .5 4.3 .4-.4 .5 9.5 .4-6.1 .5-4 .4 0 .5 3.6 .4-1.3 .5 1.7 .4 5.1 .5-10.8 .4 3.3 .5 4.2 .4-7.8 .5 9.8 .4 3.5 .5-5.6 .4 3.3 .5-5.1 .4 1.7 .5 1.3 .4-1.4 .5 5.9 .4-7.6 .5 6.3 .4-6.1 .5 9.3 .4-.9 .5-4.6 .4-7.9 .5 2.3 .4-8.1 .5 15.8 .4-5.9 .5-1.3 .4 3.5 .5-6.7 .4 4.5 .5 3 .4 3.6 .5 5.9 .4-13.8 .5 7.9 .4-6.9 .5-1.9 .4 6.4 .5-1.9 .4-6.6 .5 6.8 .4 9.2 .5-12.3 .4 .1 .5 9.1 .4-4.3 .5-4.5 .4 5.7 .5-4.5 .4-1.1 .5 5.3 .4-5.8 .5 7.6 .4 3.7 .5-10.1 .4-.1 .5-.2 .4 3.2 .5-3.4 .4 4 .5 3.2 .4-8.5 .5 6 .4 4.2 .5-1.4 .4-7.8 .5 9.8 .4-10 .5 8.9 .4-11.6 .5 9.9 .4-4.1 .5-.1 .4-.3 .5-2.6 .4 6.5 .5-1.3 .4 3 .5-7.4 .4 7 .5 1.3 .4-8.5 .5 9.6 .4 1.3 .5-12.1 .4 1.2 .5 15.2 .4-9.4 .5-2.1 .4-3.5 .5 7.2 .4-4.9 .5 3.7 .4-.8 .5 1.2 .4 .9 .5-4.2 .4 3.4 .5 .6 .4-3.8 .5-2 .4 4.4 .5 5.8 .4-7.8 .5-1.2 .4 3.4 .5-3.3 .4 2.4 .5-.5 .4-2.3 .5 4 .4-5.3 .5 .5 .4-4.1 .5 3.9 .4 4.4 .5 4.1 .4 6.3 .5-11.9 .4-1.4 .5 10.5 .4-14.9 .5 10.2 .4-2.5 .5 5.7 .4-7.9 .5 1.6 .4-8.1 .5 4.6 .4 2.5 .5-2.2 .4-.7 .5 7.7 .4-10.9 .5-.9 .4 .8 .5 3.1 .4-.9 .5 2.7 .4-1.7 .5 10.6 .4-10.5 .5 2.4 .4 3.2 .5 7.6 .4-10.6 .5-1.5 .4 6.6 .5-5.9 .4-4.9 .5 .1 .4 4.7 .5-3.9 .4 10.6 .5-2.8 .4 5.5 .5-6.2 .4-2.4 .5 4.5 .4-.1 .5-6.7 .4 11.1 .5-6.3 .4 2.6 .5-5.8 .4 6.7 .5 5.2 .4-10.3 .5-3.5 .4 4.8 .5-.1 .4 2.2 .5-9.6 .4 11 .5-3.3 .4-2.5 .5-4.1 .4 5.9 .5 3.6 .4-2.7 .5-.2 .4-1.9 .5 .8 .4-7.2 .5 11.8 .4-2.1 .5-5.6 .4 1.1 .5-6.3 .4 2 .5 5.2 .4-5 .5-2 .4 3.1 .5 3.7 .4-7.3 .5 6.2 .4 .2 .5 0 .4-.7 .5-2.1 .4-1.7 .5 5 .4-8.2 .5 8.8 .4-10.8 .5 4.1 .4 1.7 .5-8.7 .4 9.4 .5 2.2 .4-9.3 .5 3.4 .4 4 .5-.4 .4 .8 .5-10.9 .4 5.4 .5 5.7 .4-11.3 .5 .7 .4 4.5 .5-.1 .4-5.7 .5 1.6 .4 3.4 .5 .8 .4 7.1 .5-3.9 .4-2.9 .5-1.2 .4 3.1 .5 7.8 .4-12.3 .5-2.3 .4-1.5 .5 4.9 .4-4.9 .5-3.1 .4 4.5 .5-.1 .4 7 .5 2.5 .4-8.4 .5-.2 .4 6.2 .5-4.4 .4-1.7 .5 4.9 .4-7.4 .5 6.3 .4 5.7 .5-14.7 .4 7.6 .5-3.1 .4 5.9 .5-1.5 .4-7.8 .5 2.4 .4-3.3 .5 7.3 .4-8.2 .5 2.7 .4 3.6 .5-6 .4-3.1 .5-.8 .4 0 .5 2.8 .4-1.1 .5 2.5 .4-2.6 .5 4.5 .4-2.3 .5 2 .4-8.8 .5-3.1 .4 9.4 .5-4.4 .4-10.8 .5 5.2 .4 3.2 .5 2.2 .4 3.6 .5-5.8 .4-4.5 .5-3.9 .4-2.7 .5-.5 .4-2.9 .5 3 .4 3 .5-3.5 .4-7.3 .5 5.2 .4 .3 .5-6.5 .4-2.1 .5-.6 .4 .1 .5-11.4 .4 2.5 .5-3.7 .4 3.5 .5-.2 .4-6.1 .5 4.2 .4-5.4 .5-1.8 .4-2.8 .5-7.1 .4 9.1 .5-8.1 .4-9.5 .5 6.7 .4-1 .5-10.6 .4 3.3 .5 3.8 .4-5.8 .5-3.5 .4-2 .5 0 .4-7 .5 .9 .4 1.7 .5-2.1 .4 4.5 .5-12.7 .4 14.7 .5-10 .4-.7 .5 2.7 .4 4.8 .5-4.2 .4 7.1 .5 .4 .4-2.9 .5 .7 .4 1.6 .5 3.3 .4-4.5 .5 12.8 .4-3 .5 2.9 .4-1.3 .5 2.3 .4 10.5 .5-10.8 .4 10.5 .5-1.6 .4-1.2 .5 11.2 .4-3.8 .5 8.1 .4-1.9 .5-4.7 .4 9.7 .5-2.2 .4 5.5 .5 1.6 .4 4.7 .5 .4 .4 .3 .5 .4 .4-1.5 .5-.9 .4 10.2 .5-3.9 .4 4.2 .5 5.7 .4 2.1 .5 1.4 .4-1.3 .5 2.2 .4 1 .5 .6 .4-4.4 .5 6.6 .4 3.4 .5-2.7 .4 1.6 .5-8.9 .4 6.3 .5 13.7 .4-12 .5 6.8 .4 3.2 .5-.1 .4-2.4 .5-.2 .4-3.9 .5 11.8 .4-5.4 .5 4.6 .4-9.7 .5-.9 .4 .4 .5 11 .4-3.7 .5 .6 .4 2.5 .5-.2 .4 .6 .5-2.7 .4-.8 .5 4.7 .4 3.6 .5-5.5 .4 2.9 .5-1.4 .4 3.4 .5-5.8 .4 11.9 .5-.2 .4-5.9 .5-.6 .4-5.6 .5 10.1 .4-2.5 .5 .4 .4-6.5 .5 8.9 .4 4.5 .5-10.7 .4 3.4 .5 5.7 .4-1.8 .5 .3 .4 7.5 .5-4.4 .4-4.4 .5-10.9 .4 9.9 .5-4.2 .4 .4 .5 9.7 .4-8.7 .5 3.6 .4 6 .5-7.8 .4 .8 .5-2.3 .4 2.7 .5-4.1 .4 6.9 .5-3.4 .4 4.4 .5 .7 .4-2.5 .5 .8 .4-1.9 .5 3.5 .4 1.5 .5-1.6 .4 3.5 .5-4.2 .4-.8 .5 2 .4-7.7 .5 4.1 .4-5.7 .5 8.5 .4 2.6 .5-8.2 .4 2.2 .5 .5 .4 6.5 .5-2.8 .4 3.5 .5-2.4 .4 .2 .5-9.5 .4-.6 .5 12.5 .4 3.9 .5-13.1 .4 .5 .5 8.6 .4 3.4 .5-11.8 .4 1.8 .5 6.1 .4-2.3 .5 .1 .4 1.9 .5-7.4 .4 1 .5 9 .4-11.8 .5 9.3 .4-5 .5 6.9 .4-5.3 .5-.4 .4 5.1 .5-4.2 .4 0 .5-8.7 .4 10.9 .5-2.6 .4 4.6 .5-5.3 .4-2.7 .5 9.3 .4-4.9 .5-.9 .4-4 .5 10.4 .4-1.7 .5-7.1 .4 6.5 .5-.7 .4 2.6 .5-4.4 .4 8 .5-15.3 .4 1.4 .5 8.6 .4 .9 .5-1.7 .4 7.4 .5-7.4 .4-7.3 .5 12 .4-5.4 .5-1.6 .4 3.7 .5 0 .4-3.6 .5 4.6 .4-1.5 .5-2 .4 .2 .5-7.2 .4 4.3 .5 .3 .4 1.5 .5 6.9 .4-5.5 .5-1.5 .4-3.5 .5 3.1 .4-1.8 .5-.2 .4 3.7 .5-6.1 .4 3.4 .5 6.3 .4-3.1 .5-3.6 .4 1.3 .5-.7 .4 7.3 .5-.2 .4 1.5 .5-7.4 .4 1 .5 3.5 .4-7.1 .5 2.1 .4 5.8 .5-5.6 .4-.9 .5 4.9 .4-2.6 .5-1.2 .4 2.8 .5-6.7 .4 9 .5-1.9 .4 .7 .5-.4 .4 1.8 .5-8.7 .4 6.6 .5 5.1 .4-7.8 .5-.5 .4 .6 .5-2.7 .4 14.6 .5-10.3 .4 3.6 .5-6.3 .4 1 .5-.8 .4-2.1 .5 3.7 .4 6.1 .5-6.7 .4 6.3 .5 3.7 .4-5.3 .5 2.8 .4 .6 .5-6.6 .4 .5 .5-4.5 .4 4.8 .5 6 .4-3.1 .5-1.5 .4-1 .5-1.3 .4 1.6 .5 10 .4-3.6 .5-3.4 .4-1.8 .5-1.6 .4 6.3 .5-5.3 .4 .4 .5 .3 .4 6 .5-4.1 .4 5.3 .5-8.5 .4-.1 .5-1.5 .4 4.7 .5-4.7 .4 2.3 .5 6.8 .4-2.9 .5-3.1 .4 .2 .5-9.8 .4 2.3 .5 10.2 .4-6.3 .5 .8 .4 5.9 .5-7.7 .4 5.2 .5-1.6 .4 1.8 .5-.8 .4 6.4 .5-3.5 .4 3 .5-8 .4 2.1 .5 1.6 .4 4.8 .5-2.7 .4-3.8 .5-4.2 .4 4.6 .5-4.3 .4 .3 .5 1.4 .4 .6 .5-.7 .4 6.3 .5-4.4 .4-3.3 .5 3.7 .4-5.6 .5 6.8 .4 .8 .5 .2 .4-6.1 .5 7.2 .4-.4 .5 3.5 .4-4.3 .5-2 .4-.8 .5-1.6 .4-1 .5 .9 .4 5.9 .5-4.2 .4 .7 .5-1.6 .4 3 .5 1.6 .4-.5 .5-6.3 .4 3.2 .5 8.2 .4-6.1 .5-1.5 .4-1.8 .5-3.3 .4-1.5 .5 5.2 .4 1.2 .5-3.2 .4 2.5 .5 2.3 .4-.2 .5 2 .4-9.1 .5 5.9 .4 1.2 .5-1.6 .4-4.9 .5-1.2 .4 11.2 .5-7.9 .4 2.9 .5-3.2 .4-.7 .5 4 .4 1.6 .5-3.5 .4-.9 .5 3.7 .4-3.9 .5-.3 .4-1.3 .5 2.4 .4-1.6 .5-.5 .4-.7 .5 1.4 .4 3 .5-4.7 .4-2.8 .5 9.8 .4-4.2 .5-5.4 .4-4.5 .5 9.5 .4-7.1 .5 1.9 .4-9 .5 10.5 .4 .8 .5-5 .4-.9 .5-.1 .4-4.4 .5-.4 .4 6.8 .5-5.1 .4 .6 .5-.8 .4 2.6 .5-3.3 .4 1.5 .5 .1 .4-4.7 .5 .9 .4 1.4 .5 1.3 .4-2.2 .5 0 .4-5.2 .5 1.6 .4 2.7 .5-2.1 .4 .7 .5 .6 .4 5 .5-7.8 .4 6.2 .5-.2 .4-1.1 .5-2.8 .4 2.8 .5-1.3 .4 4.8 .5-2.3 .4 .8 .5-2.9 .4 7.3 .5-9.9 .4 14.7 .5-10.4 .4 1.8 .5 1.1 .4-2.7 .5 8.7 .4-5.1 .5 0 .4 6.9 .5-1.1 .4-6.9 .5 1.5 .4 4.8 .5 1 .4 2.1 .5-2.1 .4 4.9 .5-.1 .4-1.7 .5-.9 .4 3.9 .5 1.2 .4-3.3 .5-.8 .4 3 .5-3.8 .4 3 .5 1.7 .4-5.8 .5 1.4 .4-3.5 .5 4.6 .4 3.7 .5-2.7 .4 3.3 .5-1.1 .4-2.3 .5 7.1 .4-4.5 .5 4 .4-1.5 .5-1.2 .4 6 .5-6.4 .4-.5 .5 6.4 .4-2.6 .5-3.3 .4 1.5 .5-2.6 .4 6.1 .5 2.2 .4-1.7 .5 .9 .4 2.2 .5-3.3 .4-2.7 .5 .5 .4 3.6 .5-.1 .4 .2 .5-4.1 .4 3.8 .5 4.9 .4-4.1 .5 3.9 .4-2.5 .5-1.6 .4 4.9 .5 1.9 .4-2.9 .5 2.1 .4-5 .5-1.8 .4-2 .5 6.1 .4 4.8 .5-6.2 .4-2.4 .5 4.9 .4 0 .5 .1 .4-2.9 .5 8.2 .4-6.6 .5 1.4 .4-4 .5 6.9 .4 3.9 .5-1.9 .4-6.9 .5 6.3 .4-5.6 .5 2.9 .4-.3 .5 3.8 .4-.5 .5-2.4 .4 .8 .5 5.1 .4-9 .5 3.2 .4 8.6 .5-6 .4-3.1 .5 4.9 .4 1.5 .5-5.8 .4 2.9 .5-1.1 .4 4.3 .5-1.2 .4-2.6 .5 4.9 .4-4.2 .5 8.3 .4-2.5 .5-4.7 .4 1.8 .5 3.1 .4-1.9 .5-4.9 .4 1.8 .5 .1 .4 .8 .5-4.6 .4 7.8 .5 6.6 .4-8 .5 .1 .4-1 .5 2.5 .4-3.6 .5 1 .4 2.7 .5-8.6 .4 5.3 .5 7.3 .4-2.6 .5-2 .4 .5 .5-8.6 .4 10.2 .5-3.1 .4 5.1 .5-2.6 .4 1 .5-6.7 .4-.3 .5 11.4 .4-7 .5-.5 .4 5.8 .5-2.4 .4 .2 .5 3.5 .4-4.5 .5-1.6 .4-.7 .5-5.3 .4 6.3 .5-.1 .4-1.5 .5 9.6 .4-10.5 .5 1.6 .4-.5 .5 .4 .4 3.7 .5-3.5 .4 3.2 .5 6.1 .4-8.9 .5-.9 .4 .4 .5 5.7 .4-2.7 .5-.1 .4-2.2 .5-.5 .4 7.6 .5-.6 .4-8 .5-.2 .4 1.2 .5 .1 .4 4.4 .5 1.7 .4-4.6 .5-2.7 .4 5.9 .5 1.7 .4-9.4 .5 5.7 .4-3.9 .5 0 .4 .1 .5 7.3 .4-3.2 .5-3.3 .4 2 .5 1.4 .4-5.7 .5 6.6 .4-5.2 .5 .8 .4 7.5 .5-13.3 .4 11.7 .5 .2 .4-4.3 .5 4.6 .4-3 .5-2.4 .4 3.2 .5-2.8 .4 .6 .5-1.7 .4 11.2 .5-4.7 .4-4.1 .5-4 .4 1.7 .5 .3 .4-.9 .5 3 .4 .2 .5 5.7 .4-.7 .5-9 .4 9 .5-7.7 .4 6.6 .5-2.8 .4-.3 .5 .9 .4-3.1 .5-1.7 .4 9.8 .5-10.5 .4 7.1 .5-5.2 .4 4.4 .5-1.5 .4 .7 .5-3 .4 3.7 .5 4.8 .4-3.3 .5 1.8 .4-5.9 .5 .8 .4 3.7 .5-7.7 .4 8.4 .5-3.3 .4-.6 .5 5.6 .4-7.4 .5 7.3 .4-8.3 .5-.2 .4 7.1 .5 .5 .4-8.1 .5 4.9 .4 6 .5-6.1 .4-4.1 .5 3 .4 1.1 .5-.5 .4-2.9 .5 1.6 .4 3.2 .5 .9 .4-2.3 .5 1.8 .4-.8 .5-5.3 .4 9.8 .5-.5 .4-4.2 .5-.6 .4 .8 .5 .3 .4 2 .5 .6 .4-3.9 .5-2.3 .4-.1 .5 8.5 .4-5.8 .5-3 .4-3.6 .5 9.2 .4-2.3 .5 .3 .4-3.8 .5 1.7 .4-.3 .5 2.3 .4 5.8 .5-7.7 .4-2 .5 6.7 .4-.3 .5-4 .4 1.8 .5-2.7 .4 8.4 .5-4.4 .4-6.2 .5 7.7 .4 .4 .5-7.7 .4 4.7 .5 0 .4-5 .5-.6 .4 14.5 .5-12.1 .4 5.3 .5 .5 .4 1.1 .5-.3 .4-2.5 .5-2.9 .4-1.3 .5 5.5 .4-4.4 .5 6 .4-3.7 .5 4.6 .4-9 .5 10.6 .4-6.5 .5 2.6 .4-5.7 .5 6.4 .4-1.4 .5 2.9 .4-1.3 .5 4.4 .4-11.5 .5 3.6 .4-2.8 .5 4 .4 3.4 .5-.1 .4-4.9 .5-2.7 .4 4.7 .5 2 .4-6.5 .5 4.9 .4-2.7 .5 3.8 .4-3.4 .5 5.5 .4-5 .5 2.1 .4 8.2 .5-16.1 .4 6.8 .5 .5 .4 1.7 .5 .3 .4-.8 .5-2.6 .4 1.5 .5 2.3 .4-6.5 .5 8 .4-3.4 .5 4.3 .4-5.1 .5 2.7 .4-2.2 .5 3.7 .4 .8 .5-5.3 .4 4 .5-2.6 .4 2.5 .5-3.6 .4 .2 .5 2.8 .4 1.5 .5-2.2 .4 .7 .5-2.7 .4 4.5 .5-3.2 .4-2.8 .5 8 .4-8.8 .5 7.9 .4-3.2 .5 1 .4 5.5 .5-8.7 .4-1.3 .5-1 .4 4.1 .5 3.6 .4-4.2 .5 .6 .4 .7 .5-1.4 .4 1.5 .5-4.6 .4-2.6 .5 4.1 .4 .6 .5 5.3 .4-2.5 .5-4.2 .4 7.3 .5-1.3 .4-4.6 .5 8.3 .4-5.6 .5-2.7 .4 1.4 .5 3.2 .4-1.4 .5-4.5 .4 8.6 .5-5.3 .4-1.9 .5 1.7 .4 1.3 .5 4.5 .4-.7 .5-9.7 .4 4.4 .5 1.2 .4 .6 .5 2.2 .4-.8 .5-5.4 .4 8.6 .5-2.9 .4-7.8 .5 8.8 .4-2.3 .5-5.1 .4 4.6 .5 1.5 .4-1.2 .5-2.9 .4 1.8 .5-.3 .4-.6 .5 3.1 .4-4.5 .5 3.6 .4 .9 .5 1.5 .4-1.3 .5-2.5 .4-.3 .5-.6 .4 6.9 .5-6.4 .4-1.1 .5 1.4 .4 3.7 .5 .4 .4-7.5 .5 8.1 .4-3.4 .5 5.6 .4-.8 .5-6.4 .4-1 .5 0 .4 1.8 .5 2.2 .4 .1 .5 .3 .4 .7 .5-2.8 .4 .7 .5 1.4 .4 2.4 .5-4.2 .4-1.3 .5 4.3 .4-1.5 .5 .7 .4-1.8 .5 1.7 .4-2.6 .5-1.1 .4 2.9 .5-5 .4 6.2 .5 4.3 .4-9.3 .5 .9 .4 3.8 .5-3.7 .4 3.7 .5-1.9 .4-.9 .5 3.8 .4-4.1 .5 .1 .4-2.5 .5 5.8 .4-2 .5-1.3 .4 4 .5-2.7 .4 3.8 .5-.8 .4-3.7 .5-.5 .4 6.1 .5-4.4 .4-1.6 .5 1.6 .4-4.6 .5 5.6 .4-4.5 .5 5.7 .4-3.6 .5 2.4 .4 4.4 .5-1.2 .4-4.5 .5 2.1 .4-4.4 .5 4.4 .4 2.8 .5-1 .4 .6 .5-2 .4-4.6 .5 3.5 .4-3.2 .5 6 .4-3.4 .5-.8 .4-1.5 .5 3.8 .4 .9 .5-.4 .4-5.9 .5 6.3 .4-3 .5-5.3 .4 8.9 .5-1.4 .4-5.5 .5 7.7 .4-1.2 .5 3.7 .4-3.6 .5-1.1 .4-5.4 .5 11.5 .4-10.8 .5 3.2 .4 3.3 .5-2.9 .4-6.6 .5 6.4 .4-.4 .5 4.6 .4-3.5 .5 4.8 .4-1.4 .5 .3 .4-1.2 .5 5 .4-3.7 .5-.1 .4-3 .5-1.1 .4-2.9 .5-1.9 .4 2.4 .5 6.1 .4-4.7 .5 1.7 .4-.7 .5 1.4 .4 1.6 .5 3.3 .4-8.5 .5 10.2 .4-6.8 .5-1.6 .4 .9 .5 5.2 .4-1.8 .5 2.1 .4-5.4 .5 5.6 .4-4.5 .5 1.9 .4-3.5 .5 1.1 .4-.7 .5 4.6 .4-.4 .5-10 .4 8.1 .5-.1 .4-4.1 .5 .3 .4 7 .5-4.4 .4 3.7 .5-.2 .4-10 .5 11.8 .4-8.3 .5 2.4 .4 1.3 .5 1.8 .4 0 .5-2.2 .4 .4 .5 1.9 .4 1.5 .5-3.9 .4 2.8 .5-.2 .4-3.3 .5 1 .4 .6 .5 7.4 .4-5.9 .5 1.6 .4 0 .5-4.3 .4 3.4 .5-6.2 .4 .7 .5 5.5 .4-2.6 .5 2.2 .4 1.1 .5 4.3 .4-6.4 .5 .6 .4-6.9 .5 10.7 .4-4.1 .5-1.6 .4 4.6 .5-2.7 .4-2.2 .5-.3 .4 4.5 .5 1 .4-2.8 .5-.4 .4 6.9 .5-7.6 .4-1.8 .5 5 .4-3.8 .5-2.3 .4 5.1 .5-2 .4 6.6 .5-4 .4 1.9 .5 .9 .4-2 .5 1.3 .4-6.5 .5 .6 .4 2.4 .5 3.5 .4-1.4 .5 .5 .4 .8 .5-3.3 .4-1.7 .5-.2 .4 6.8 .5-9.3 .4 .7 .5 5.3 .4-4.2 .5 4.7 .4-4.1 .5 2.2 .4-2.5 .5 4.3 .4-.5 .5 3.5 .4-2.6 .5-.2 .4-4.1 .5 1.5 .4-.8 .5-3.5 .4 1 .5 3.6 .4 1.5 .5 4.1 .4-7.3 .5-2 .4 6.4 .5-3.3 .4-1.2 .5 1 .4-5.5 .5 6.6 .4 .9 .5-.6 .4-1.7 .5 1.2 .4 3.8 .5-5.8 .4 8.8 .5-6.2 .4 1 .5 6.3 .4-6.2 .5-1.9 .4 1.9 .5-4.5 .4 7.7 .5-3.6 .4-.3 .5-2.2 .4 3.1 .5 1.6 .4-10.4 .5 3.5 .4 5.9 .5-3.3 .4 1.2 .5-3.2 .4 .3 .5 6.8 .4-2.3 .5 .6 .4-9.5 .5 8.3 .4 .5 .5 .2 .4-3.3 .5 4.8 .4 .6 .5-3.5 .4-7.4 .5 7.3 .4 .8 .5 1.5 .4-3.4 .5 3.2 .4-2.4 .5 .5 .4-.4 .5 2.2 .4 2.1 .5-1 .4-5.6 .5 5.2 .4-3.2 .5 1.8 .4-8.6 .5 10 .4-3.2 .5 0 .4 1.3 .5-3.8 .4 .8 .5-5.1 .4 8.8 .5-2.7 .4 2.1 .5 .8 .4-2.7 .5 3.3 .4-8.2 .5 5.2 .4 2.2 .5-3.5 .4 2.4 .5-1.8 .4 3.9 .5 .5 .4-5.1 .5 .7 .4 2 .5-1.6 .4 1.6 .5-1.1 .4 1.2 .5-3.8 .4 4 .5 2 .4-6.3 .5 4.6 .4-.4 .5 1.1 .4-7.7 .5 5.5 .4-.7 .5 3 .4 .5 .5-9.6 .4 5.1 .5 3.1 .4 .3 .5 0 .4-3.9 .5 1.3 .4 2.5 .5 1.3 .4-1.6 .5-3.4 .4-4.6 .5 5.7 .4 .8 .5 .4 .4 1.9 .5 .3 .4 4.5 .5-5.8 .4 1.2 .5 3.6 .4-2.1 .5-4.5 .4 4 .5-5.7 .4 5.8 .5 .2 .4-3.8 .5 4.5 .4-1.5 .5-3 .4 3.9 .5-4.3 .4 2 .5-4 .4 7.2 .5-4.5 .4-1.4 .5 1.5 .4 3.8 .5 2.1 .4-5.1 .5-2 .4 2.2 .5-.3 .4 1.6 .5-1.9 .4 1.2 .5-6.6 .4 1.9 .5 2.9 .4-3 .5 .9 .4 5.4 .5-3 .4 0 .5 0 .4-1.3 .5-.1 .4 1.1 .5 2 .4-1.3 .5 .5 .4 3.4 .5-2.9 .4 1.8 .5-1.2 .4 1.5 .5-5.4 .4-.8 .5 5.5 .4-1.5 .5 1.3 .4-6.2 .5 10.9 .4-7 .5 6.1 .4-7 .5 .1 .4-5.1 .5 7.5 .4-1.1 .5-1.3 .4 2.7 .5-3.2 .4 4.1 .5-1 .4-.3 .5-2.6 .4-.2 .5 5.6 .4-3.5 .5 .2 .4-.3 .5-.6 .4-3.3 .5 4.9 .4-2.3 .5-1 .4 5.6 .5 3.5 .4-7.4 .5 1.8 .4-4.8 .5 6.5 .4-2.6 .5 2.1 .4 .3 .5-3.5 .4 2.6 .5-2.2 .4 1.3 .5-.7 .4-4.4 .5 1.4 .4-2.3 .5-.3 .4 6.3 .5 2.6 .4-1.8 .5-3 .4 8.3 .5-5.3 .4 2.1 .5-4.4 .4 2.1 .5-4.3 .4 1.7 .5-2.8 .4 4.2 .5-2 .4-1.2 .5 4.7 .4-2.6 .5 0 .4 1.3 .5-2.9 .4 2.3 .5-.6 .4-.8 .5 .9 .4 2.5 .5-1.5 .4-1.2 .5-1.8 .4 3.9 .5 1.8 .4-3.6 .5-3 .4 9.7 .5-6 .4 5.1 .5-9.8 .4 .1 .5 1.6 .4 .9 .5-5.3 .4 1.6 .5 5.4 .4-2.4 .5 3.3 .4-2.1 .5-1.5 .4 2.2 .5 .4 .4-3 .5 4.5 .4-.4 .5-.3 .4-1.4 .5 .5 .4 1.1 .5 .3 .4-1 .5 4.6 .4-2.8 .5 2.8 .4-.6 .5-7.1 .4 9.5 .5-10.5 .4 5.7 .5-2.7 .4 .9 .5 3.4 .4 0 .5-1.2 .4-3.1 .5 2.6 .4-1.4 .5-.1 .4-2.1 .5 1 .4 3.9 .5-4.7 .4-1.1 .5 4.8 .4-.2 .5-2.1 .4 5.1 .5-3.3 .4 .2 .5-7.9 .4 7.7 .5 2.7 .4-6.5 .5 5.4 .4-3 .5-.2 .4-.2 .5-2.8 .4-2.2 .5 .6 .4 8.4 .5-2.2 .4-5.3 .5 6.5 .4-.6 .5-2.2 .4 2.7 .5 .1 .4-.8 .5 2.3 .4-5.4 .5 2.9 .4 4.1 .5 1.4 .4-5.3 .5 4.5 .4-5.9 .5-2.9 .4 6.2 .5 1.5 .4-4.8 .5 4.5 .4-7.5 .5 1.1 .4 1.4 .5 1.3 .4 .8 .5 .4 .4 1.6 .5-4.3 .4 .9 .5 6 .4-5.1 .5 2.6 .4-1.5 .5-.8 .4 1.9 .5-3.9 .4 2.9 .5 1.4 .4-1.3 .5-1.6 .4-.7 .5 1 .4 3.7 .5-1.8 .4-3 .5 5.6 .4-5.3 .5 3.9 .4-2.9 .5-4 .4 3.8 .5-1.2 .4 1.1 .5 .1 .4-1 .5 2.1 .4-.8 .5-2.9 .4 4.3 .5 .3 .4-2.5 .5 1.2 .4-1.1 .5-.6 .4 1.5 .5 2.2 .4-.4 .5-4.9 .4 3.4 .5 2.6 .4 1.3 .5-4.4 .4 2.3 .5-1 .4-3.4 .5 4.2 .4-2.9 .5-1.4 .4 7.8 .5-1 .4-2.4 .5-4 .4 5.2 .5-2.6 .4 2 .5-1.5 .4 1.1 .5-4.4 .4 3.9 .5 .6 .4 2.7 .5-8.2 .4 10.4 .5 .5 .4-5.8 .5-1.5 .4 4.9 .5-7.9 .4 4 .5 3.4 .4 2 .5-2.2 .4-1.9 .5-.3 .4 .6 .5 2.3 .4-8.7 .5 5.4 .4 .9 .5-1.8 .4 1.2 .5 3.6 .4-4.1 .5-.2 .4 4.7 .5-3.8 .4-1.2 .5-2.7 .4 3.4 .5-3.7 .4 3 .5 2.7 .4-3 .5 1.2 .4 1.9 .5 1.4 .4 2.2 .5-1 .4-1.9 .5-.5 .4-1.3 .5-1.8 .4-5.5 .5 8.2 .4-3.1 .5 5.5 .4-7.2 .5-1.2 .4 3.5 .5 4.7 .4-3.9 .5-.3 .4 4.1 .5-3.4 .4 1.7 .5-2 .4 .6 .5 7.5 .4-12 .5 9.1 .4-10.1 .5 .4 .4 8.3 .5-3.3 .4 .6 .5 2.3 .4-3.7 .5-3.4 .4 5.2 .5-2.6 .4 6.7 .5-3.8 .4 1 .5-5.6 .4 4.3 .5 .4 .4 1.1 .5-5 .4 4.8 .5 1.7 .4-4 .5-.5 .4 2.8 .5 1.3 .4-3.4 .5 3.4 .4 2.3 .5-3.6 .4-1.6 .5 2.6 .4 1.9 .5-.4 .4-3.1 .5 1.5 .4-3.7 .5 1.9 .4-1.6 .5-.4 .4 1.6 .5-1.4 .4 1.5 .5-.1 .4-3.2 .5 1.7 .4 3.1 .5-2.7 .4 6 .5 1.5 .4-4 .5-1.4 .4 .1 .5-5 .4 2.8 .5-4.3 .4 6.7 .5 1.2 .4-1.9 .5-1 .4-1.4 .5 3 .4-4.4 .5 6.1 .4-6.4 .5-.9 .4 3.4 .5 1.6 .4-2.6 .5 1.4 .4 1.3 .5-2.8 .4 4.5 .5-3 .4 1.9 .5-3.3 .4-3 .5 6.3 .4 .9 .5-4.6 .4 1.8 .5-3.4 .4-.6 .5 7.9 .4 .5 .5-5.8 .4 6.5 .5-6.5 .4 3 .5-1.4 .4 .2 .5-7.2 .4 10.9 .5-6.6 .4 2 .5 3.3 .4-6.4 .5 3.2 .4-.2 .5-.2 .4-2.8 .5 4.3 .4-4.6 .5 3.2 .4 4.6 .5-4.3 .4-3.9 .5 4.1 .4-4.1 .5 1.3 .4 2.7 .5-2.7 .4 1.5 .5-6.1 .4 6.4 .5 3 .4-8.2 .5 4.8 .4 3.7 .5-2.1 .4-.9 .5 .4 .4 .4 .5 1.6 .4 2.4 .5-4.1 .4-2 .5 4.3 .4-1 .5-1.1 .4-.4 .5-2.2 .4-2.7 .5 6.5 .4-5.6 .5-.8 .4 .9 .5 3.1 .4 1.6 .5-1.2 .4 3.4 .5-11.7 .4 11.3 .5-4.8 .4 3.2 .5-9.9 .4 6.6 .5 7.7 .4-8.9 .5 5.8 .4-4.1 .5 1.2 .4-5 .5 3.2 .4 5.8 .5-2.1 .4-4.8 .5 1.9 .4-1.1 .5 2.7 .4 .4 .5-1.7 .4-1.7 .5 1.4 .4-.6 .5-.5 .4-.3 .5-4.1 .4 2.2 .5-.5 .4 3.5 .5-1.8 .4 1.5 .5-1.2 .4-4 .5 3.6 .4-.9 .5 2.5 .4-3.5 .5 3.5 .4-5.2 .5 4.3 .4-1.5 .5-1.7 .4-2.8 .5-1.3 .4 11 .5-9.5 .4 6 .5-4.5 .4 2.5 .5 .3 .4-2.7 .5 2.6 .4-4.8 .5 5.3 .4 .8 .5-5.3 .4 2 .5 .2 .4-.6 .5-.3 .4-1.9 .5 1.3 .4-2.6 .5-.2 .4 3.4 .5-3.7 .4-.1 .5-.4 .4 3.9 .5-6 .4 7 .5 2.1 .4-6.3 .5 1.2 .4 3.5 .5-6.2 .4-.6 .5 3.6 .4-2 .5 6.5 .4-10.2 .5-1.7 .4 5.4 .5-1.2 .4-3.2 .5 6.4 .4-1.9 .5 6.1 .4-10.9 .5 1 .4 3.6 .5-.7 .4 5.8 .5-3.3 .4 2.7 .5-5.6 .4 4.1 .5 1 .4 0 .5-.3 .4-.5 .5 7.6 .4-5.9 .5 .3 .4-1.7 .5 1.7 .4 1.6 .5-4.1 .4 7.9 .5-4.1 .4 3.9 .5-6.8 .4 6.1 .5-6.1 .4 5.6 .5 1.7 .4 3.2 .5-10.2 .4 7 .5 1.8 .4-6.9 .5-.9 .4 1.2 .5 3.5 .4-3.1 .5-1.1 .4 6.2 .5-1.4 .4-1.9 .5 2 .4-5.7 .5 3.5 .4 2.2 .5 .5 .4-3.6 .5 4.4 .4-6.8 .5 3.9 .4-.9 .5 6.4 .4 3 .5-5.6 .4-6.3 .5 .8 .4 7 .5 3 .4-6.3 .5 2.4 .4-4.6 .5-.3 .4 7.1 .5 1.8 .4-3.5 .5-.4 .4-.1 .5-1.3 .4 .2 .5 4.9 .4-2.4 .5-.3 .4-.1 .5-3.2 .4 1.5 .5 2.3 .4-2.3 .5-2.5 .4 6.2 .5-1 .4-2.9 .5 1.8 .4 2.7 .5-1.8 .4 1.8 .5-1 .4 1.2 .5-.7 .4 .6 .5 1.2 .4 .4 .5 1.9 .4 .2 .5-5.2 .4-4.7 .5 5.2 .4 3.8 .5-3 .4-2 .5-2.7 .4 3 .5 2.6 .4 .9 .5-3.2 .4-2.4 .5 7.1 .4-8.5 .5 10.4 .4-4.7 .5-1.5 .4-1.3 .5 2.7 .4-2.9 .5 3.8 .4-2.7 .5 3.2 .4-4 .5-1.1 .4-.3 .5 7.6 .4-3.5 .5-.4 .4 4.9 .5-7.1 .4 4.4 .5-.9 .4 0 .5 1.4 .4-.6 .5 3.2 .4-6.6 .5-2.3 .4 5 .5-3.4 .4 5.2 .5-3.6 .4 3.8 .5 2.6 .4-5.2 .5-.6 .4-.7 .5 1.6 .4-2.7 .5 4.2 .4 .9 .5-5.9 .4 9.5 .5-7.7 .4 1.8 .5 .1 .4-3 .5 7.4 .4-11.3 .5 4.6 .4-2.7 .5 4.5 .4 2.9 .5-.8 .4-6.1 .5 2.9 .4-.2 .5 .1 .4-3.1 .5 5.2 .4-8.1 .5 13.2 .4-6 .5-1.5 .4-.8 .5 5.9 .4-4.8 .5 4.4 .4-6.2 .5 2.2 .4-.9 .5 2.2 .4 1.9 .5-6.1 .4 6.9 .5-5.3 .4 2.8 .5-5.2 .4 3.4 .5-.2 .4 1.4 .5 4.4 .4-2.5 .5-1.5 .4 1 .5-.6 .4-2 .5 1.6 .4 4.3 .5-2.9 .4-.8 .5 3.3 .4-6.6 .5 1.1 .4-2.6 .5 4.8 .4-1 .5-4.1 .4 2.5 .5 .6 .4-.7 .5 7.2 .4-4.3 .5-.9 .4 2.1 .5 .3 .4-7.2 .5 1.7 .4 2.5 .5-6.6 .4 7.4 .5-1.6 .4-1.1 .5 2.2 .4 2.4 .5-.7 .4-2 .5 .4 .4 2 .5-4 .4 3.5 .5-3.4 .4 1.4 .5 2.1 .4-1.9 .5-3.8 .4 3.8 .5-3.5 .4 1.8 .5 .5 .4 1.6 .5-2.2 .4 6.4 .5-3.4 .4 .5 .5-1.1 .4 1 .5-3.8 .4 1.2 .5 4.5 .4-.4 .5-1.8 .4 4 .5-8.3 .4-.5 .5 .8 .4 4.9 .5-7.4 .4 7.3 .5-3.8 .4 4.5 .5 .6 .4-2.6 .5-3.7 .4 .5 .5 6.5 .4-1.3 .5-2.8 .4 .9 .5 4.7 .4-3.8 .5 3 .4-5.2 .5-.3 .4 .1 .5 .8 .4 4.1 .5-6.7 .4 6.6 .5-5.6 .4 3.9 .5-4.3 .4 2 .5 7.9 .4-9.3 .5 2.6 .4-1.3 .5-4.8 .4 7.5 .5-3.4 .4-2.4 .5 2.3 .4 4.3 .5-8.5 .4 9 .5-8.7 .4 7.1 .5-4.5 .4-1.1 .5 9.4 .4-5 .5 .5 .4-4.1 .5 6.6 .4-.7 .5-2.3 .4-1.9 .5 3.6 .4-4 .5 4.3 .4-.1 .5 .5 .4-8.9 .5 7 .4-1.7 .5-1.1 .4 4.3 .5-4.1 .4 1.6 .5 1.5 .4-1.8 .5 4.6 .4-2.8 .5 1.7 .4-6.7 .5 5.9 .4-1.9 .5 3.5 .4-4.2 .5 1.9 .4-3.6 .5 .8 .4-1.3 .5 7.9 .4-6.8 .5 1.7 .4-.5 .5-.1 .4 2.6 .5-1 .4-1.4 .5 .7 .4 3.5 .5-5.7 .4-1.7 .5 2 .4 3.3 .5 .9 .4-4.7 .5 3 .4-2.7 .5 3.2 .4-3.3 .5 3.1 .4-1.4 .5-4.7 .4 3.9 .5-.7 .4 7.9 .5-7.7 .4 3.5 .5-5.5 .4 10.1 .5-3.6 .4-3.7 .5-2.2 .4 1.8 .5-2.1 .4 5.2 .5-7.9 .4 6.9 .5 4.4 .4-3.3 .5 2.6 .4-3.8 .5-1.1 .4-.4 .5-.8 .4 6.9 .5-7.2 .4-.6 .5 3.5 .4-1.2 .5 3 .4 0 .5 3.7 .4-13.4 .5 7.8 .4-1.4 .5-.8 .4 1.8 .5-.2 .4 .7 .5-.4 .4 3.4 .5 1.9 .4-7.9 .5 2.2 .4 1.3 .5-1.7 .4-1.9 .5 2.8 .4-4.8 .5 5.9 .4-5.1 .5 1.2 .4 1.8 .5 5.5 .4-.8 .5-2.6 .4 2.3 .5-2.1 .4-3.9 .5 1.9 .4-.1 .5-1.3 .4 3.3 .5-2.9 .4-.6 .5 1.3 .4 .5 .5-3.4 .4 6.2 .5-1.3 .4-6.3 .5 3.3 .4 7.3 .5-9.3 .4 4.2 .5 2 .4-6.7 .5 7.4 .4-3.3 .5 .8 .4-1.4 .5 3.5 .4 .3 .5 1.3 .4-5.2 .5-.3 .4 2.5 .5-2.9 .4 2.3 .5-3.7 .4 .9 .5 2.3 .4-.3 .5-4.4 .4 .1 .5 6.4 .4-2.7 .5 1.6 .4-1.2 .5-6 .4 6.4 .5 6.9 .4-7.3 .5-2.6 .4-.7 .5 4.1 .4 2.9 .5-7.1 .4 7.3 .5 .1 .4-4 .5 6 .4-7.3 .5-.4 .4 1.9 .5 2.5 .4-3.2 .5 0 .4 3.1 .5-5.4 .4 1.8 .5 6.4 .4-6.3 .5 2.1 .4-1.8 .5 1.9 .4-1.6 .5-.1 .4-2.8 .5 5.1 .4 .9 .5-2.8 .4 1.5 .5 .3 .4-1.6 .5 2.8 .4-3.7 .5 2.6 .4-2.1 .5-3.5 .4-1.2 .5 3.9 .4-3.4 .5 3.9 .4 1.5 .5-3.2 .4 0 .5 7.4 .4-4.7 .5-.5 .4 .6 .5-2.6 .4-2.9 .5 8 .4-8.3 .5 4.2 .4 2 .5 .4 .4-1.2 .5-5.3 .4 6 .5 1.7 .4-4.5 .5 1.6 .4 3.5 .5-4.4 .4 2.3 .5-2.3 .4 2.6 .5 1.4 .4-2.9 .5-2.9 .4 2.1 .5 1 .4-.3 .5-.1 .4 3.6 .5-2.6 .4 1.3 .5 .6 .4 .7 .5-1.8 .4-.6 .5 .5 .4 1.5 .5-2.1 .4-3.9 .5 7.9 .4-4.7 .5 3.1 .4-6.4 .5 4.6 .4-4.7 .5 4.7 .4 1 .5-1.7 .4-2.1 .5 6.7 .4-3.5 .5-4.8 .4 1.7 .5 7.4 .4-8.8 .5-1 .4 9.6 .5-4.6 .4 5.4 .5-7.1 .4 2.5 .5 .7 .4-1.1 .5-2.7 .4 4.8 .5-.4 .4-.5 .5-3.1 .4 .1 .5-1.9 .4 1.2 .5 .8 .4 4.4 .5-2.6 .4 .3 .5 2.6 .4-6.1 .5 8.4 .4-4.6 .5 4.2 .4-1.9 .5-4.9 .4 2 .5-4.5 .4 3 .5 4.4 .4-1.6 .5-3.9 .4 3.8 .5-2.3 .4-.9 .5 2 .4 .3 .5-3 .4 4.1 .5-2.6 .4 .3 .5-4.4 .4 5.9 .5 2.5 .4-1.8 .5-3.4 .4 4.2 .5-6 .4 6.3 .5-.6 .4-6 .5 6.4 .4-3.2 .5-1 .4 3.5 .5-2.1 .4-4.5 .5 4.1 .4 1.7 .5-2.2 .4 3.2 .5 .4 .4-.6 .5-5.4 .4 4.9 .5-1.6 .4-.9 .5 1.4 .4 1.7 .5 2.1 .4-2.7 .5 1.7 .4-5.9 .5 3.5 .4-4.5 .5 3 .4 5.1 .5-4.1 .4-2.7 .5 2.3 .4 1 .5 0 .4 1.9 .5-5.8 .4 5.5 .5-2.5 .4 1.8 .5-2.1 .4 4.1 .5-5.5 .4 3 .5 .6 .4-.1 .5-1.2 .4-3.3 .5 2.4 .4-2.7 .5 2.7 .4 4 .5-2.1 .4 .3 .5 3 .4-4.3 .5-.1 .4 2.6 .5-.9 .4-.4 .5-2.3 .4 .7 .5 0 .4 1.6 .5 .8 .4 .1 .5-4.6 .4 5.3 .5-5.6 .4 4.4 .5-1.8 .4-1.7 .5 .4 .4-1.5 .5 2.7 .4 1.6 .5-1.2 .4 .3 .5 1.2 .4-1.9 .5-.6 .4 1.6 .5 1.7 .4-7.8 .5 6.5 .4 0 .5-4.6 .4 10.1 .5-2.6 .4-2.2 .5 .7 .4 3.6 .5-3.6 .4 2.5 .5-3 .4-.3 .5 .6 .4-2.6 .5 4.3 .4-3.6 .5 4.9 .4-3.1 .5-2.2 .4 8.1 .5-10.1 .4-.4 .5 8.7 .4-6.5 .5 6 .4-2.3 .5-1.4 .4 1.8 .5-3.2 .4-3.3 .5 5.4 .4 3.9 .5-6.9 .4 .8 .5-2 .4 6.9 .5-5.4 .4 .3 .5 8.1 .4-8.5 .5-2.3 .4 10.5 .5-7.9 .4-1.3 .5 .3 .4 6.5 .5 2 .4-5.7 .5-1.6 .4 3.1 .5-5.1 .4 4.2 .5-5.2 .4 6.5 .5-2.5 .4-2.8"/>
<path fill="none" stroke="#0000ff" stroke-width="7.0" stroke-linejoin="round" stroke-linecap="butt" d="M205 907.6l.4-6.7 .5 8.2 .4-3.7 .5-11.2 .4 18.1 .5-7.6 .4 5.1 .5 8.7 .4-10.9 .5-9.3 .4 2.9 .5 11.9 .4-17.2 .5 12.2 .4 .9 .5-10.6 .4 9.3 .5 2.8 .4-9.2 .5 2.1 .4 7.3 .5-12.8 .4 3 .5 13 .4-6 .5-10.4 .4 10 .5 13.6 .4-24.1 .5 16.4 .4-.3 .5-6.5 .4 5.6 .5-8.9 .4 15.6 .5 1.3 .4-18.1 .5 4.8 .4 2.5 .5-5.3 .4 7 .5-9.7 .4 11.4 .5-6.1 .4 1.8 .5 3.7 .4 3.3 .5-13.3 .4 12.4 .5 .7 .4-6.9 .5 11.6 .4-16 .5 1.6 .4 6.5 .5-7.4 .4 14.6 .5-8.4 .4 10.7 .5-19.3 .4 .7 .5 16.1 .4-16.7 .5 14.9 .4-13.1 .5 7.5 .4 6.3 .5-8.5 .4-7.6 .5 4.6 .4 11.4 .5-6.6 .4 3.6 .5-4.3 .4 1.4 .5-3.3 .4-5.8 .5 10.9 .4-2.5 .5-15.2 .4 14 .5 6.7 .4 6.7 .5-23 .4 10.3 .5 3.1 .4 1.4 .5-10.2 .4 8.4 .5-6.5 .4 2.6 .5-3.4 .4 5.9 .5-4.9 .4 4.8 .5-2.7 .4 6.9 .5 5.4 .4-12.4 .5-4.6 .4 3.5 .5-2.1 .4-7.9 .5 11.8 .4-3.7 .5 9.7 .4-7.2 .5 7.4 .4-1.2 .5-8.9 .4 1.2 .5-1.4 .4 .5 .5 8.9 .4-9.5 .5 .7 .4-2.7 .5 15.4 .4-12.4 .5 1.4 .4-5 .5 7.6 .4-7.1 .5 .8 .4-9.7 .5 2.7 .4 12.8 .5 4 .4-17 .5 12.7 .4 .2 .5 17 .4-25.4 .5 2.3 .4-2.7 .5 13 .4 1.6 .5-9.3 .4 12.5 .5 4.1 .4-18 .5 7.1 .4-5.3 .5-3.1 .4 1.2 .5 1.6 .4-7.4 .5 8.4 .4 6.2 .5-12.2 .4 2.9 .5-2.7 .4 9 .5-3.4 .4 7.2 .5-8.8 .4-8.1 .5 14.2 .4-6 .5 10.1 .4-3 .5-23.2 .4 4.3 .5 14 .4-5.5 .5-10.4 .4 11.9 .5 12.7 .4-4.6 .5-10.6 .4 8.2 .5 5.1 .4-8.4 .5 13.6 .4-17.3 .5 19.6 .4-4 .5-7.1 .4-2 .5-1.4 .4-6.8 .5 13.4 .4 2.1 .5-3.5 .4-3.5 .5-1.2 .4-7.3 .5 1.9 .4-5.5 .5 13.5 .4-9.7 .5 12.1 .4-10.5 .5 14.6 .4 1 .5-.2 .4-2.8 .5-10.1 .4-.1 .5-3 .4 7.5 .5 9.4 .4-19.4 .5 24.6 .4-20.9 .5-4.2 .4 10.5 .5 5.2 .4-10.1 .5-4.6 .4 19.4 .5-20 .4 14.6 .5-5.9 .4-3.7 .5 3 .4-8 .5-.2 .4 10 .5-9.5 .4 1.9 .5 15.5 .4 2.5 .5-4.9 .4-1.5 .5-8 .4 2.4 .5-5.8 .4-13 .5 19.5 .4 .2 .5 5.3 .4-15.3 .5 16.4 .4-11.8 .5-4.9 .4 6.8 .5 8.3 .4-6.6 .5 3.1 .4-9.2 .5 9.5 .4 3.5 .5-13.1 .4 9.1 .5-12.3 .4 10.9 .5-12 .4 13.2 .5-2.8 .4-7.9 .5 10.4 .4-9.4 .5 7.4 .4-7 .5 10.2 .4-7.7 .5 13.9 .4-6.9 .5 .6 .4-13.1 .5-5.3 .4 9 .5 18.2 .4-19.2 .5 15.1 .4 .2 .5-12.9 .4 2.6 .5 10.6 .4-11 .5-1.1 .4-1.2 .5 4.5 .4-1.3 .5 9.4 .4-7.1 .5 6.6 .4-9 .5 18.2 .4-18.4 .5-.2 .4-4.6 .5-6.3 .4 5.7 .5 7.5 .4-8.4 .5 12.6 .4-17.2 .5-.3 .4 13.7 .5 .5 .4-10.6 .5 15.4 .4 2.1 .5-7.2 .4-11.5 .5 17.6 .4-10.7 .5 .7 .4 4.5 .5-8.2 .4 15.3 .5-14.9 .4 11.7 .5-2.1 .4 6.9 .5-8.9 .4 2.5 .5-8.8 .4 1.1 .5-2.7 .4 9.5 .5-9.9 .4 15.1 .5-11.4 .4-7.5 .5 3.6 .4 12.7 .5-11.5 .4 7.4 .5-15.1 .4 14 .5 2.3 .4-1.9 .5 1.9 .4-12.4 .5-4.7 .4 2.4 .5 14.9 .4-3.1 .5 2.8 .4-9.5 .5 9.4 .4-16.4 .5 13.6 .4-10.1 .5 4.2 .4 7.5 .5 1.5 .4-7.2 .5-1.4 .4 11.8 .5-2.2 .4-12 .5 6.7 .4-3.5 .5 8.1 .4-3.5 .5-.2 .4-2.4 .5-4.5 .4 11.3 .5-4.8 .4-18.9 .5 13.3 .4 4.5 .5-7.1 .4-1.3 .5 1.9 .4 6.8 .5-9.1 .4 9.1 .5 6.8 .4-2.9 .5 .2 .4-8.4 .5 9.7 .4-8.2 .5 5.9 .4-14 .5 16.4 .4-12.7 .5 4.1 .4 7.1 .5-7.4 .4-3.4 .5 2.1 .4 8.7 .5 0 .4-3.2 .5-9 .4 1.4 .5 7.3 .4 .6 .5-10.3 .4 .1 .5 9.6 .4 2.7 .5-7.1 .4-8.9 .5 19.2 .4-10.8 .5 2.8 .4-18.2 .5 9.8 .4 3.6 .5 3.4 .4-8.4 .5-4.6 .4-.9 .5 8.6 .4 4.6 .5-.4 .4-13.8 .5 7 .4 4.1 .5 7.5 .4-3.1 .5-2.1 .4-13.5 .5 19.1 .4-8.2 .5 2 .4-6.2 .5 3.2 .4-1 .5-.5 .4-3.3 .5 10.7 .4 1.5 .5-10 .4-2.1 .5 .1 .4 3.5 .5 11.9 .4-10.8 .5 13.5 .4-21.4 .5 1.2 .4 2.1 .5-.6 .4 8.2 .5 9.7 .4-17.1 .5 7.4 .4 6.8 .5 7.4 .4-15.1 .5 5.3 .4 2.4 .5-8.5 .4 3.2 .5-6.3 .4-3.7 .5 2 .4 12 .5 1.3 .4-7.5 .5-10.2 .4 17 .5-8.5 .4 10.3 .5-9.6 .4-8.7 .5 6 .4-2.7 .5 15.6 .4-26.7 .5 11.6 .4 1.9 .5-11.9 .4 17 .5 1.3 .4 1.6 .5-.1 .4-6.4 .5 7.1 .4-9.6 .5 3.3 .4 1.3 .5-1.1 .4 3 .5-8.1 .4 3.7 .5-3.2 .4 4.5 .5 1.6 .4-7.4 .5 15.2 .4 3.4 .5-9.6 .4-3.3 .5-5 .4 2.9 .5-.5 .4 6 .5-5.1 .4 4.6 .5-1.3 .4-7.6 .5-6.3 .4 .7 .5 .3 .4 6.7 .5 7.9 .4-14.9 .5 10.4 .4-6.1 .5 9.5 .4 6.5 .5-8.5 .4-5.3 .5 .9 .4 5.3 .5-11.2 .4-3.5 .5 6.5 .4 9.9 .5-16 .4 12.6 .5-1.7 .4-7.5 .5-4 .4-5.8 .5 3.2 .4 9.2 .5 3.9 .4-9.5 .5 .4 .4-1.4 .5 22.2 .4-26.4 .5-.7 .4 17.5 .5-14.9 .4 14.5 .5-12.7 .4 12.8 .5 2.4 .4-12.7 .5 3 .4-6.7 .5 12.9 .4-8.3 .5-4.4 .4 9.6 .5-.5 .4-2.9 .5-2.6 .4 9.6 .5-11.2 .4-1.5 .5 4.3 .4 5.3 .5-6.3 .4-1.7 .5-2.7 .4 1.5 .5 .9 .4 18.5 .5-26.3 .4 9.2 .5 3.7 .4-6.6 .5-2.2 .4 12.2 .5 5.7 .4-1.9 .5-7.6 .4-3.2 .5 7.7 .4-16.1 .5 5.7 .4 16 .5-7.2 .4-1.8 .5-2.5 .4-1.3 .5-3.3 .4 10 .5-.5 .4 .1 .5-20.7 .4 26 .5-2.9 .4 4.9 .5-14.9 .4-11.2 .5 6.1 .4 2.9 .5 20.2 .4-19.3 .5 2 .4 10.3 .5-.8 .4 .6 .5-10.1 .4 16.4 .5-10.3 .4-8.7 .5 8.8 .4-12.8 .5 1.2 .4 3.9 .5-3.5 .4 4.8 .5-1.1 .4 1.3 .5-2.8 .4 13.9 .5-14.8 .4 3.3 .5-2.7 .4 2.2 .5-4.9 .4 23.8 .5-16.6 .4 7.6 .5-8.3 .4-6.5 .5 5.5 .4-1.2 .5-3.8 .4 9.3 .5 10.6 .4-10 .5 6 .4 1.8 .5-22.6 .4 26.8 .5-22.5 .4 22 .5-11.3 .4 2.7 .5 11.2 .4-8.1 .5-18.6 .4-1.4 .5 4.2 .4 15.4 .5-4.8 .4 4 .5-3.3 .4 5.5 .5-15.8 .4-5.7 .5 8.1 .4 10.4 .5-12.8 .4-9.4 .5 12.6 .4 8.5 .5-1.9 .4-5.3 .5-1.3 .4-11.2 .5 14.5 .4 13.3 .5-16.8 .4 14.8 .5-20.1 .4 5.6 .5-.5 .4 3.1 .5-12.5 .4 20.7 .5-10.7 .4-12.9 .5 19.5 .4-3.6 .5-9.9 .4 8 .5 6.5 .4-.8 .5-2.4 .4-7.1 .5 6.7 .4 7 .5 6.3 .4-10.8 .5 1.4 .4 1.1 .5-8.6 .4-10.5 .5 8.2 .4 2.4 .5 2.8 .4-1.9 .5-5.5 .4 1 .5 1.8 .4-4.7 .5 0 .4-6.5 .5 9.3 .4 3 .5-5.5 .4 2.5 .5 2.3 .4-8.4 .5 3 .4-2 .5 9.6 .4-11.1 .5 8 .4-14.4 .5 26.4 .4-8.3 .5-9.4 .4 5.3 .5 13.7 .4-12.4 .5-11 .4 10.2 .5-3.1 .4 7.1 .5-2.3 .4-12.3 .5 13 .4 5.2 .5 3.1 .4-7.3 .5 10.7 .4-2.9 .5-4.7 .4 5.4 .5-28.5 .4 26.4 .5 1.3 .4-10.9 .5 6.4 .4-10.4 .5 3.3 .4-.1 .5-6.2 .4 5.7 .5-11 .4 11.3 .5 12.8 .4 1.3 .5-13.5 .4 12.2 .5-9.4 .4-11.8 .5 4.5 .4 3.8 .5 .2 .4 4.6 .5-9.5 .4 2 .5 10 .4-6.3 .5 1.8 .4-3.3 .5 5.3 .4 .3 .5-10.8 .4 13.3 .5-12.5 .4 6.9 .5-4.6 .4 6.7 .5-2.8 .4 2 .5-3.1 .4-1.9 .5 2.2 .4-1.6 .5-5.8 .4-5.2 .5 14.6 .4 5.1 .5-15.7 .4 10.2 .5-7.9 .4 5.5 .5 4.8 .4-3.7 .5-4.2 .4-12 .5 12 .4 1.2 .5 8.8 .4-13.6 .5 4.1 .4 2 .5 7.4 .4-17.1 .5 14.1 .4-6.5 .5-4.1 .4-4.8 .5 2.7 .4 12.5 .5-9.4 .4-3 .5 3.8 .4 12.1 .5-2.4 .4-1.1 .5 1.1 .4-1.4 .5-8.2 .4-4.8 .5 16.2 .4-9.4 .5 1.8 .4-4.1 .5 6.8 .4 5.8 .5-12.1 .4 3.9 .5-.6 .4 4.2 .5-4.6 .4 .4 .5-4.4 .4 4.4 .5-5.2 .4 10.2 .5-6 .4 12.4 .5-16.1 .4-2.4 .5 13.6 .4-1.9 .5-13.9 .4 27.6 .5-19.2 .4 9 .5-10.4 .4 7.6 .5 2.9 .4-11 .5 5.9 .4 3.7 .5 8.2 .4-7.3 .5 3 .4-5.5 .5 .8 .4-.8 .5-5.3 .4-11.2 .5 1.1 .4 14.1 .5 1 .4-2.8 .5-4.5 .4 .6 .5-5.3 .4 17 .5-19.7 .4 23 .5-14.3 .4 20.7 .5-14.2 .4-5.5 .5 3.1 .4-4.1 .5 13.9 .4-10.6 .5 1.8 .4-7.6 .5 10.2 .4-14.4 .5 5.8 .4 13.4 .5-23.1 .4 16.6 .5 6.2 .4-7.3 .5 9.5 .4-1.5 .5-5.2 .4-14.4 .5 7.8 .4 1.1 .5 9.3 .4-7.5 .5-1.4 .4-6.9 .5 7.6 .4 3 .5-18.6 .4 16.6 .5 3.1 .4-4.4 .5 .8 .4-2.8 .5 10.2 .4-10 .5 12.2 .4-5.7 .5-15.6 .4 11.2 .5 4.1 .4 3.9 .5-4.9 .4-1.6 .5 6.6 .4 5.5 .5-23.3 .4 8.2 .5 16 .4-9.5 .5-8.6 .4 18.6 .5 1.9 .4-15 .5 6.9 .4-5 .5 2.5 .4 4.3 .5-8.4 .4 1.4 .5-1.5 .4-9.6 .5 15.1 .4 2.6 .5-4.5 .4-.7 .5 5.4 .4-10.3 .5-2.3 .4 10.5 .5-2 .4 11 .5-21.5 .4 9.5 .5-7.9 .4 23 .5-17.2 .4 8.2 .5-20.3 .4 8.7 .5 11.9 .4-7.8 .5-1.3 .4 9 .5-3.7 .4 .2 .5 1.1 .4-4.9 .5 13.8 .4-3.4 .5-7.6 .4-1.4 .5-9.9 .4 5 .5 16.7 .4-16.8 .5 5.4 .4 14.2 .5-3.9 .4-4.7 .5 .6 .4-4.8 .5 3.6 .4-.8 .5 8.8 .4-3.6 .5-9.8 .4 14.6 .5-3.6 .4 2 .5 1.1 .4-2.9 .5-3.7 .4 7.6 .5-.8 .4-9.1 .5 .7 .4 3.1 .5 1.9 .4-3.6 .5-8.8 .4 17.4 .5-12.2 .4-3 .5 2.2 .4 6.2 .5-1.7 .4-13.6 .5 5.2 .4-.1 .5 5.7 .4 6.1 .5-5 .4 17.6 .5-7 .4 4.2 .5-4.5 .4-12.8 .5 11.8 .4-12.5 .5 3.4 .4 8.4 .5-.9 .4 4.2 .5-5.4 .4 9.1 .5-1.4 .4-2.7 .5-6.7 .4 1.3 .5 11.1 .4 10.5 .5-19.7 .4 4.6 .5-6.6 .4-9.9 .5 20.4 .4-2.6 .5 3.7 .4-8.3 .5-.9 .4 15.5 .5-15.5 .4 11 .5 2 .4-5.9 .5-3.3 .4 5.6 .5-12.7 .4 10 .5-.3 .4-6.4 .5 7.7 .4 8 .5 9.7 .4-21.8 .5 10.4 .4 .2 .5-4.2 .4-1.4 .5 7.3 .4 1.9 .5-13.6 .4 19.4 .5-10.4 .4 2 .5-4 .4 12 .5-16.1 .4 5.8 .5 4.3 .4-6.4 .5 4.7 .4 5.2 .5 4.6 .4-8.3 .5-1.5 .4 6.4 .5-2 .4-7 .5 12.6 .4-7.1 .5-3.5 .4 12.3 .5-2.2 .4-8.3 .5 9.7 .4-8.5 .5 1.2 .4-2.5 .5 12.1 .4-6 .5 5 .4-11.7 .5 5.9 .4-7.7 .5 6.9 .4 1.8 .5 1.7 .4-8.3 .5 16.9 .4-16.8 .5 18.3 .4-8 .5 7.8 .4-12.8 .5 7.6 .4 3.3 .5 10.6 .4-10.8 .5 9 .4-8.5 .5 7.3 .4-8.5 .5 1.1 .4 5.9 .5-13.5 .4-1.8 .5 11.8 .4 12.7 .5-3.8 .4-8.2 .5 3.7 .4-2.1 .5 1.5 .4 6.9 .5-15.8 .4 .1 .5-4.3 .4 7 .5 12.4 .4-6.6 .5-7.4 .4 4.5 .5 1.4 .4 9.8 .5-3 .4-.2 .5 5.6 .4-3.9 .5 3.9 .4-11.5 .5-.6 .4 4 .5 15.4 .4-19.5 .5 8.6 .4 2.4 .5-8.9 .4-1.4 .5 20.8 .4-13.4 .5-1 .4 4.9 .5-1.3 .4-9.4 .5-1.5 .4 9.8 .5-3.3 .4 4.8 .5-6.8 .4 23.5 .5-12.6 .4 10 .5-15.1 .4 2.8 .5-2 .4 3.9 .5 2.6 .4-5.5 .5-3.1 .4 2.5 .5 3.3 .4 6.6 .5-14.5 .4 5 .5 7.4 .4 6 .5-10.7 .4 4.8 .5-2.9 .4-.1 .5 2.7 .4-3.9 .5 2 .4-.1 .5 11.6 .4-9.4 .5 10.5 .4-10.6 .5 1.9 .4-5.7 .5 6.4 .4 7.6 .5 1.5 .4-16 .5 21.7 .4-12.7 .5 1.4 .4 3.1 .5-5.4 .4-5.2 .5 5.7 .4-2.2 .5 14 .4-11.1 .5-13.6 .4 21.8 .5-4.2 .4-3.6 .5-10.7 .4 27.4 .5-17.8 .4 .2 .5-1.1 .4 4.7 .5-1.3 .4 2.6 .5 1.3 .4-2.6 .5 6.8 .4-12.6 .5 12.1 .4-3.2 .5-1.8 .4 4.4 .5-2.5 .4 0 .5-3.8 .4-2.1 .5-3.5 .4 1.6 .5 3.8 .4 8.8 .5-5.9 .4 2.4 .5-6.9 .4-2.6 .5 9.8 .4 13.4 .5-20.1 .4 14.6 .5-14.4 .4-.1 .5 1.8 .4 .6 .5 10.1 .4-3.5 .5-.5 .4-3.3 .5 8.6 .4 5.6 .5-8.7 .4-3.5 .5-3.7 .4 4.5 .5-5.1 .4 15.3 .5-11.9 .4 11.4 .5-13.5 .4 12.4 .5-1.3 .4 1.3 .5-2.4 .4-7.5 .5 21.8 .4-23.3 .5 14.8 .4-7.3 .5-5 .4 11.2 .5 4 .4-2.1 .5-13.4 .4 3.7 .5 7.8 .4-.7 .5 3.3 .4-6.3 .5-8.8 .4 3.3 .5 8.8 .4-7.3 .5-1.7 .4 11.6 .5 4.6 .4-11.2 .5 2.9 .4 .7 .5 6.2 .4-6.4 .5 .2 .4 1.5 .5-6.4 .4 14.8 .5 1.6 .4-8.1 .5 .7 .4 .8 .5-.7 .4-4.1 .5 8.3 .4 .6 .5 2 .4-11.1 .5 6.9 .4-8.2 .5 18 .4-18.6 .5 8.1 .4 9.8 .5-18.3 .4 10.8 .5-9.9 .4 14.9 .5-6.9 .4-1 .5-1.7 .4 8.5 .5-1.9 .4 3.5 .5 1 .4-7.5 .5 5.1 .4 6 .5-4 .4-.3 .5-1.3 .4-2.8 .5 2.9 .4-.1 .5 14.4 .4-15 .5-3.7 .4 7.8 .5-3.1 .4-1.9 .5 8.2 .4-5.2 .5-3.3 .4 7.9 .5 7.9 .4-3.3 .5-5.6 .4 .5 .5-1.6 .4 4.3 .5-4.8 .4 3.3 .5-2.6 .4 2.2 .5-11.9 .4 11.1 .5-2.8 .4 1.5 .5 4 .4-8.8 .5 2.3 .4 6 .5-.5 .4 4.9 .5-2.9 .4-10.5 .5 11.2 .4-2.9 .5 1.8 .4 4.9 .5-4.7 .4-1.5 .5-7.5 .4 6.5 .5 7 .4-1.3 .5-9.4 .4-.7 .5 5.6 .4 4.7 .5-6.3 .4 11.5 .5 4.4 .4-17.5 .5 17.3 .4-.4 .5-21.4 .4 2.3 .5 8.2 .4 1 .5-4.5 .4 4.8 .5 4.3 .4-8.8 .5-7.3 .4 10.6 .5 6.2 .4 3.8 .5-2 .4-19.6 .5 7.6 .4 6 .5-3.8 .4 7.7 .5-.3 .4 2.5 .5 3.1 .4-10.4 .5 12.6 .4-16.9 .5 2 .4 0 .5 1.3 .4 8.5 .5 5.7 .4-16.8 .5 12.1 .4 2.7 .5-4.8 .4-12.2 .5 13.5 .4 2.6 .5-14.3 .4 7.1 .5 8.6 .4-3.7 .5 4.5 .4 .9 .5-13.4 .4 .5 .5 11.4 .4-6.4 .5 6.5 .4-1.4 .5-7.3 .4 9.5 .5-2.5 .4-5.6 .5 .8 .4-.2 .5 4.7 .4 3.6 .5-2.1 .4-3.6 .5-6.3 .4 8 .5-.9 .4-2.8 .5-1.1 .4 13.2 .5-.1 .4-15.3 .5 12.8 .4-3 .5 7.7 .4-13.7 .5 9.7 .4-8 .5 1.9 .4 2.6 .5 4 .4-4.1 .5-8.7 .4 12.8 .5-4.2 .4-1 .5-7.6 .4 7 .5 8.5 .4 .7 .5-3.8 .4-6.9 .5 8.9 .4-8.3 .5 8.8 .4-6.7 .5-4.9 .4 10.5 .5-1 .4 .2 .5-5.5 .4-.5 .5 11.5 .4-5.9 .5 9 .4 .3 .5-13.9 .4 3.9 .5-10.6 .4 12.5 .5-2.8 .4 4.8 .5-2.7 .4-.8 .5-1.2 .4 .4 .5 10.6 .4-2.7 .5 8 .4-6.8 .5-5.9 .4-.2 .5 11.1 .4-17.9 .5 10.5 .4-1.1 .5-9.7 .4 16.7 .5-5.3 .4-1 .5-3.1 .4 4.4 .5-.2 .4 6.1 .5-6.7 .4 14.4 .5-15.3 .4 4.1 .5-3.8 .4 7.8 .5-6.3 .4 9.8 .5-1.9 .4-2.8 .5-10.5 .4 8.6 .5-.2 .4 3.8 .5-10.2 .4 10.6 .5 .4 .4-3.7 .5 2 .4-3.8 .5 7.5 .4-10.7 .5 2.8 .4 16.6 .5-13.1 .4 .3 .5-4.3 .4 3.6 .5 2.8 .4-7.1 .5-1.2 .4 5.5 .5 10.4 .4-9.4 .5 14.9 .4-6.8 .5-2.7 .4-5.4 .5 5.2 .4 10.9 .5-19.9 .4 8.9 .5 6.7 .4-3.3 .5-4.2 .4-2.6 .5 7 .4-13.3 .5 18 .4-13.1 .5-5.7 .4 8.6 .5 .9 .4-.9 .5-6.3 .4 4.6 .5 7.7 .4-1.8 .5 4.2 .4-4.8 .5-6.1 .4 4.1 .5 2.1 .4 .9 .5 .6 .4 0 .5 2.3 .4 .4 .5-7.5 .4 9.9 .5-2.3 .4-4.9 .5 2.9 .4-1.9 .5 2.2 .4-10.1 .5 0 .4 13.6 .5-5.8 .4 8.7 .5 .9 .4-5.7 .5 8 .4-13.8 .5 5.8 .4-7.1 .5 7.4 .4 4.8 .5-4.5 .4 .8 .5-6.3 .4 6.2 .5-5 .4 4.5 .5-4 .4 8.2 .5-1.5 .4-.8 .5 2.1 .4 2.4 .5-6.1 .4-3.4 .5 .5 .4 11.2 .5-6.3 .4-7.1 .5 .4 .4 11 .5-7 .4 9.6 .5-.9 .4-8.6 .5-.2 .4-3 .5 8.2 .4-10.4 .5 8.8 .4-3.9 .5 9.2 .4-9.1 .5-2 .4 6.6 .5-7.8 .4 8.3 .5-4.8 .4-1.3 .5 1.3 .4 .4 .5-4.8 .4 8.9 .5-3.1 .4-2.5 .5 9.2 .4-5 .5 6.8 .4-16.3 .5 15.1 .4-5.7 .5 7.5 .4-7.5 .5-2.6 .4-.7 .5 5 .4-9.3 .5 5.7 .4-3 .5 15.9 .4-8.6 .5-3.7 .4-10.8 .5 11.5 .4-2.4 .5 2.6 .4 .4 .5-3.5 .4-2.7 .5 4.7 .4 .9 .5 .3 .4 .2 .5 2.2 .4-5.9 .5 8.2 .4-6 .5 2.7 .4-2.8 .5 3.4 .4 6.2 .5-5 .4-1.5 .5-.1 .4-3.3 .5-3 .4-4 .5 10.3 .4 1.8 .5 .9 .4-12.1 .5 5.1 .4 5.7 .5-3.9 .4 5.4 .5 1 .4-10.3 .5 10.1 .4-4.4 .5-1.9 .4 3.9 .5-4.5 .4-4.6 .5 11.7 .4-1.3 .5-.1 .4-1.6 .5-7.3 .4 6.5 .5 7.7 .4-5.7 .5-1.6 .4 1 .5-2.1 .4 1.2 .5-.1 .4-3.1 .5 2.1 .4 .7 .5 .4 .4 11.2 .5-13 .4-4.1 .5 5.1 .4-7.4 .5 16.4 .4-11.1 .5 2.1 .4 1.7 .5 3.4 .4-6.8 .5 4.3 .4-2.5 .5 .9 .4 2.9 .5-5.7 .4 9.8 .5-7.2 .4 4.6 .5-6.6 .4 2.6 .5-3.5 .4 7.1 .5-3.6 .4-2.9 .5-1.8 .4 15 .5-7.8 .4 1.3 .5 2.5 .4-3.2 .5 3.7 .4-6.3 .5 1.9 .4 6.5 .5-13.1 .4 6.2 .5-3.6 .4 9.9 .5-8.5 .4 2.2 .5-.3 .4-4.4 .5 2.3 .4-1.4 .5 7.2 .4-7.2 .5 8.2 .4-3.5 .5 2.2 .4 2.4 .5-1.8 .4-2.1 .5-4.9 .4 2.2 .5 1.3 .4 3 .5-3.4 .4-1.1 .5 9.5 .4-6.3 .5 .3 .4-5.5 .5 .7 .4 .2 .5-2.3 .4 4.3 .5 1.2 .4-4.5 .5 1 .4 6.8 .5-11.6 .4 6.4 .5 7.3 .4-2.8 .5-.7 .4 4.8 .5-1.6 .4-2.7 .5-6.2 .4-3 .5 2 .4 9.3 .5-8.6 .4 .7 .5 6.9 .4-6.2 .5 3 .4-7.8 .5 3.5 .4-.2 .5-.5 .4-4 .5 3.4 .4 7.5 .5-3.2 .4 2.9 .5-6.7 .4 11.3 .5-10.9 .4 1.1 .5 3.5 .4-3.9 .5 2.9 .4 5.9 .5-4.4 .4-4 .5 7.3 .4-8 .5 .7 .4 3.1 .5 .3 .4-10.7 .5 10.6 .4-3.9 .5-3.4 .4-.1 .5 .3 .4-2.1 .5 10.7 .4 2 .5-6.5 .4 .5 .5 .1 .4 5 .5-3.2 .4 5.8 .5-5.4 .4 4.1 .5-12.9 .4 2.3 .5 4.8 .4-1.6 .5-2.7 .4-1.3 .5-1.8 .4 6.6 .5-1.8 .4 4.9 .5-5.7 .4 2.6 .5 2.1 .4 1.2 .5-5.8 .4 2.2 .5 7.7 .4-17.7 .5 11.4 .4-.1 .5-2.8 .4-6.6 .5 7.4 .4-2.9 .5 .8 .4-1.6 .5-1.4 .4 4.4 .5-5.7 .4 9 .5-3 .4-2.8 .5 2.3 .4 3.2 .5-5.1 .4 4.9 .5 7.2 .4-10.2 .5 1.2 .4-4.6 .5 2.3 .4-3.6 .5 9.6 .4-10 .5 5.2 .4-5.5 .5 2.8 .4-4.6 .5-.8 .4 9.8 .5-1.4 .4-3.8 .5-2.7 .4 .6 .5-4.4 .4 5.2 .5 5.1 .4-9.7 .5 13.3 .4-9.2 .5 5.3 .4-4.5 .5-7.2 .4-1.1 .5 11.4 .4-1.2 .5-9.3 .4 12.5 .5-9.7 .4 11.7 .5-13.3 .4 5.7 .5-4.1 .4-3.9 .5 5.9 .4-7 .5-1.1 .4 3.5 .5-6.2 .4 .1 .5 4.2 .4 2.3 .5 2.6 .4 1.6 .5-6.3 .4 7.5 .5-6 .4-2.4 .5 4.9 .4 .9 .5-5.9 .4-2.3 .5 3.3 .4-2.3 .5-5.9 .4 5.2 .5-.5 .4 .4 .5 .8 .4 3.2 .5-9.4 .4 4 .5 2.2 .4-13.9 .5 15.1 .4-5 .5 9.7 .4-8 .5-7.7 .4 3.6 .5-2.2 .4 2.4 .5-8.8 .4 6.7 .5-3 .4-.6 .5 2.3 .4-2 .5 6.9 .4-7.8 .5 .9 .4-6.8 .5-1.3 .4 7.9 .5-10.3 .4-4.2 .5-1.7 .4-.2 .5-2.7 .4-.2 .5 6.9 .4-7.6 .5 1.8 .4 5.1 .5-12.7 .4-1.1 .5-5.9 .4 10.2 .5-4.5 .4-10.1 .5 11.6 .4-2.2 .5-15.2 .4 4.5 .5 8 .4-8 .5 3 .4 3.5 .5-1.4 .4-3.6 .5 5 .4 2.8 .5-6.8 .4 12.1 .5-7.8 .4-.6 .5-6.4 .4 1.5 .5 1.1 .4 7.9 .5-7.2 .4 10.2 .5-.6 .4-5.8 .5 2.9 .4 7.4 .5-8.9 .4-4.9 .5 7.2 .4 4.4 .5 4.2 .4-.9 .5 8.9 .4-4.7 .5-2.2 .4 4.2 .5 .9 .4-3.5 .5 3.1 .4-.1 .5-1.1 .4-.3 .5-4 .4 4.4 .5-2.8 .4 6.9 .5-2.3 .4-5.1 .5 4.1 .4-.9 .5-4.8 .4 2.8 .5 2.8 .4 5.1 .5-6.6 .4 1.7 .5 2.8 .4-1.5 .5-4.4 .4 1.4 .5-4 .4-1.2 .5 .9 .4 0 .5 2.8 .4-1.9 .5 .4 .4-11 .5 4.3 .4 .4 .5-5.1 .4-5.1 .5 10.5 .4 6.1 .5-13.1 .4 4.1 .5 6.2 .4-8.6 .5-1 .4-4.3 .5 3.4 .4 3.4 .5 .1 .4-5.5 .5 4.5 .4-9.1 .5 2.5 .4 3 .5-.1 .4 2.8 .5-5 .4-7.7 .5 13.1 .4 3.2 .5-6.2 .4-3 .5-1 .4 2.2 .5-6 .4 6.3 .5-1.6 .4-4.2 .5 7.2 .4 2.3 .5 6 .4-6 .5 7.3 .4-7.6 .5 1.7 .4 4.1 .5-3.1 .4 5.1 .5-2 .4 1.7 .5 3.3 .4 6.6 .5-.8 .4-.1 .5 10 .4-4.9 .5 4.8 .4-.1 .5 3.5 .4-1.9 .5-.9 .4 5.2 .5 1.7 .4 2.1 .5 .7 .4 .8 .5-4.6 .4 8.7 .5 .8 .4-3.3 .5 2.3 .4 .4 .5 5.8 .4-10.5 .5 5.6 .4 4.2 .5-7.9 .4 4.3 .5 9.4 .4-11.1 .5 5.1 .4-2.9 .5 2.9 .4-2.4 .5 3.6 .4-6.1 .5 12 .4-4.8 .5-.1 .4-2.8 .5 2.5 .4-1.6 .5 2.9 .4-3.4 .5 .1 .4 6.5 .5-1.1 .4 2.3 .5-2.6 .4-10 .5 8.4 .4 1.3 .5-2 .4 2.9 .5 .1 .4-2.7 .5 .8 .4-1.9 .5 5.3 .4-10 .5-.3 .4 8.9 .5-9.7 .4 7.9 .5-1.2 .4 4.5 .5-8.2 .4 0 .5 3.3 .4 0 .5-2.3 .4-.4 .5 3.5 .4 3 .5-10.6 .4 11.5 .5-1.5 .4-3.4 .5-1.9 .4 1.4 .5-5 .4 7.8 .5-.1 .4-.1 .5 1.6 .4-5.7 .5 8 .4-3.7 .5 1 .4 1 .5 .1 .4 2.1 .5-1.9 .4 .1 .5-3.8 .4 1.4 .5-3.6 .4 6.4 .5-1.7 .4 .9 .5 2.6 .4-3.4 .5 6.5 .4-9.3 .5 9.7 .4-1 .5-5.2 .4 2.9 .5 2.2 .4-5.4 .5 3.1 .4 2.8 .5-1.6 .4-2.9 .5-3.9 .4 8 .5 .5 .4 3.4 .5-2.7 .4-7.4 .5 1 .4-1.4 .5 7.9 .4-2.7 .5 1.6 .4-2.2 .5-3.6 .4 7.2 .5-6.6 .4-.8 .5 4.2 .4 5.5 .5 3.9 .4-3 .5-.2 .4 1.7 .5 1.9 .4 1.7 .5-7.1 .4 1.1 .5 12.4 .4-14.4 .5-3.1 .4 6.1 .5 .5 .4-.9 .5 9.4 .4-1.9 .5-6.8 .4 12.5 .5-10.2 .4 2.4 .5-3.4 .4-.2 .5 5.3 .4 4 .5-3 .4-1.9 .5-.8 .4 6 .5-10 .4 4.4 .5-2.3 .4 2.7 .5-.1 .4-1.5 .5-1.3 .4 5.6 .5 6.7 .4-6.3 .5-1.7 .4-2.3 .5 5.3 .4-.5 .5 5.8 .4-8.1 .5 6.9 .4-8.7 .5 4.8 .4 1.2 .5-4.5 .4-4.5 .5 7.1 .4 .7 .5 3.3 .4-.4 .5 2.5 .4-9.8 .5 9.2 .4-4.1 .5 1.3 .4-10.1 .5 8.9 .4-1.4 .5 .2 .4 8.3 .5-11.1 .4 1 .5 2.3 .4 .2 .5-5.1 .4-.3 .5 4.1 .4-4.2 .5 6.5 .4-4 .5-3.3 .4 7.5 .5-.6 .4 .5 .5-1.8 .4 1.6 .5-3.2 .4-4.9 .5 4.9 .4 .2 .5-.6 .4 2.6 .5 5.1 .4-3.1 .5-1.1 .4 .6 .5-5.7 .4 10.5 .5-6.4 .4 4.1 .5-.8 .4 0 .5 2.5 .4-6.1 .5 3.4 .4-4 .5 .6 .4-7.4 .5 7.8 .4-.6 .5 1.4 .4-4.3 .5-.8 .4 5.1 .5-1.9 .4 2.6 .5-5.4 .4-1.7 .5 7 .4-.5 .5-.3 .4 .7 .5-.6 .4-1.2 .5-2.6 .4 3.8 .5-1 .4-.9 .5-3.7 .4 3.4 .5 3.4 .4 .7 .5-7.4 .4 8.3 .5-5.3 .4 5.7 .5-4.1 .4-2.9 .5 7 .4-8.4 .5 6.2 .4-1.2 .5 1.7 .4 .5 .5-.9 .4 3.1 .5-9.6 .4 8.2 .5 1.8 .4-9.5 .5 0 .4 2.9 .5-1.7 .4 7.1 .5-1.4 .4-4.3 .5 .5 .4 7.5 .5-7.8 .4-.7 .5 9 .4-2.4 .5-5.8 .4 3.3 .5-8 .4 8.7 .5 5.1 .4-10.3 .5 3.7 .4-3.1 .5-3 .4 2.5 .5-1.6 .4-3.1 .5 4.5 .4 .7 .5 .6 .4-.9 .5-.6 .4-1.2 .5-2 .4-4.1 .5 4.3 .4-2.1 .5-3.8 .4 4 .5 1.8 .4 2.5 .5-8.6 .4 6.8 .5-7.1 .4 2.8 .5 3.3 .4-4.6 .5-1.4 .4-2.4 .5 7.1 .4-6.5 .5 3.6 .4-.8 .5 2 .4 3.6 .5-2.7 .4 5.7 .5-.7 .4-6 .5-3.4 .4 3.7 .5 .2 .4 6.2 .5-4.4 .4 2.5 .5-6.8 .4 7.3 .5 3.9 .4-4.9 .5-3 .4 2.5 .5 1.5 .4-.1 .5 .1 .4 1.1 .5-3.6 .4 2.1 .5-.1 .4 .2 .5-4.8 .4 6.5 .5 1.1 .4-5.4 .5 9.6 .4-6 .5 .5 .4 2.2 .5-1.3 .4 3.1 .5 .5 .4-10.7 .5 7.3 .4 3.2 .5-1 .4 .9 .5-1.9 .4-1.6 .5-2.9 .4 10 .5-4.5 .4-.3 .5 .5 .4-1.1 .5 .7 .4 3.5 .5-2.3 .4-5.5 .5 4 .4-1.2 .5 1.5 .4-.5 .5 5.2 .4-8.6 .5 6 .4-.2 .5-3.7 .4-3.1 .5 5 .4-5.2 .5 9.2 .4-2.1 .5-10 .4 7.9 .5-1.9 .4-1.5 .5-.4 .4 7.8 .5-8.3 .4 .3 .5 5.7 .4-4 .5-5.4 .4 14.4 .5-8 .4-4.2 .5 11.7 .4-7.4 .5-.6 .4-2.1 .5 3.7 .4-1 .5-.4 .4 3.6 .5-4.3 .4-2.2 .5-.6 .4 6.6 .5-.9 .4-2.3 .5 5.5 .4-1 .5-3.8 .4-2.3 .5 3.3 .4-1.5 .5 3.6 .4 1.7 .5 1 .4-8.6 .5 5.8 .4 3.2 .5 .7 .4-.7 .5-1.8 .4 1.9 .5 3.5 .4-4 .5-1 .4 4.6 .5 .8 .4-5.9 .5 1.8 .4-2.2 .5 4.4 .4 1.9 .5-1.8 .4-2 .5 .1 .4 3.5 .5 3 .4-2 .5-.2 .4 4.5 .5-5 .4 0 .5-2 .4 7.7 .5-.8 .4-3.3 .5 1.2 .4-4.2 .5 1.4 .4 3 .5 1.7 .4-9.7 .5 12.6 .4-2.1 .5-5.9 .4 4.7 .5-2.2 .4-.5 .5 .6 .4 .1 .5 2.2 .4 .5 .5 2.7 .4-3.6 .5-1.8 .4 3.2 .5 1.2 .4-1.2 .5 3.8 .4-4.8 .5-3.1 .4 6.1 .5 .4 .4-2.1 .5 .4 .4-3.5 .5 2.9 .4 1.3 .5-1.1 .4-3.7 .5 4.7 .4-3 .5 3.9 .4-.5 .5 1.6 .4-4.7 .5 3.4 .4 .7 .5-.5 .4 3.1 .5-6.8 .4 5.9 .5 .7 .4-3 .5-3.2 .4 3 .5 .5 .4 .4 .5 2.9 .4-1.3 .5-6.6 .4 7.8 .5-8.6 .4 3.4 .5-3.1 .4 6.7 .5-2.8 .4 5.1 .5-5.6 .4 2.8 .5 4.4 .4-5.6 .5 4.8 .4-2.7 .5-.6 .4-4.5 .5 4.3 .4 5.6 .5-5.5 .4 1.6 .5 3.1 .4-6.3 .5 2.3 .4 .2 .5-2.2 .4 3.7 .5 2.4 .4-2.2 .5-1.7 .4 .7 .5-5.6 .4 6.6 .5-4.4 .4 6.3 .5-5.6 .4 5.6 .5-4.7 .4 .3 .5-3.5 .4 6.3 .5 0 .4 2.3 .5-5.7 .4-2.4 .5 7.8 .4-10.7 .5 4.8 .4 6.1 .5-3.1 .4-3.6 .5 3.4 .4 5.1 .5-4.6 .4-.6 .5 4.8 .4-5.2 .5 2.4 .4 3.6 .5-9 .4 2.9 .5 4.7 .4-2.5 .5 5.9 .4-5.7 .5 .7 .4-4.6 .5 1.1 .4 8.1 .5-6.8 .4 3 .5-1.6 .4 8.3 .5-12.2 .4 6.8 .5-1.6 .4-3.1 .5 2.3 .4 3 .5 6.9 .4-4.4 .5-2.1 .4-1.1 .5-5 .4 .2 .5 6.1 .4-6.2 .5 8.3 .4-1.7 .5 2.9 .4-3.3 .5-3.6 .4 6.6 .5-6.8 .4 3.3 .5-.5 .4-1.8 .5 2.1 .4 .8 .5-2.8 .4 7.4 .5-6.1 .4 .4 .5 2.9 .4-2.4 .5 .8 .4 .8 .5-5.8 .4 11.1 .5-8.7 .4-2.1 .5 6.5 .4 .2 .5-.5 .4-3.2 .5-.1 .4 3.1 .5-.4 .4 3.5 .5-3.1 .4 1.9 .5-1.8 .4-5.2 .5 2.8 .4 7.4 .5-3.6 .4 3.2 .5-3.8 .4 0 .5-1.3 .4 5.1 .5 1.5 .4-7.4 .5 3.7 .4-3 .5 2.7 .4-4.8 .5 .4 .4 6 .5-1 .4-.8 .5 4.8 .4-6.6 .5 1.8 .4 4.4 .5-3.8 .4-1.6 .5 4.7 .4-3.3 .5-.6 .4-2.6 .5-.8 .4-.4 .5 2 .4 2.1 .5 2.1 .4-5.4 .5 5.2 .4 3.5 .5 .3 .4-5.9 .5 9.9 .4-5.7 .5 1 .4 2 .5-8.2 .4 1.8 .5 1.5 .4 1 .5-4.3 .4 6.1 .5-4.4 .4 2.8 .5 1.1 .4-3.9 .5 6.3 .4-6.8 .5-3.8 .4 9.8 .5-3.6 .4-4.6 .5 3.9 .4 2.2 .5-1.5 .4 2.6 .5-4.8 .4 2.9 .5-1.4 .4 .3 .5 2.1 .4 2.3 .5-3.9 .4-.5 .5 3.4 .4-1.4 .5-7.4 .4 6.3 .5-1.1 .4-1.5 .5 1.2 .4-.2 .5 8 .4-7.5 .5 .5 .4-4.6 .5 5.1 .4 3.1 .5-4.2 .4 3.5 .5-.7 .4-.9 .5 8.6 .4-10.7 .5 3.3 .4-4.8 .5 6.7 .4-4.7 .5 .4 .4 3.9 .5-4.1 .4 4.6 .5-8 .4 8 .5-4.7 .4-3.9 .5 9.4 .4 2.1 .5-3.9 .4 3.9 .5-2.3 .4-4.9 .5 7.2 .4-5.1 .5 3.7 .4-2.1 .5-3.4 .4 1.3 .5-2.2 .4 4.8 .5-5.4 .4 9.9 .5-5.5 .4-5 .5 5.4 .4-3.9 .5 7.4 .4-2.7 .5-4.4 .4 7.2 .5-1.1 .4-1.3 .5-5 .4 .6 .5 10.1 .4-12.2 .5 6.1 .4-.2 .5-4.3 .4-.7 .5-.5 .4 8.1 .5-5.9 .4 5.6 .5-.9 .4-1.6 .5-1.2 .4-.4 .5 2.2 .4-2.3 .5-2.2 .4 3 .5 6.3 .4-1.1 .5-5.6 .4-3.3 .5 1.3 .4 1 .5 3.3 .4-.8 .5 3.3 .4 2.1 .5-5.4 .4 3.5 .5-1.8 .4-3.6 .5 1 .4-1.3 .5-2.9 .4 8.4 .5 .5 .4-1.2 .5-2.5 .4 1.3 .5 .6 .4-.6 .5-1.6 .4 1 .5 .2 .4 2.8 .5 .5 .4-6.5 .5 11.1 .4-6 .5-3.6 .4-2.4 .5 5.7 .4 2 .5-5.5 .4 1.3 .5 6.2 .4-2.2 .5-.6 .4-.3 .5 4.3 .4-7.4 .5 2.4 .4-2.5 .5-1.7 .4-1.3 .5 2.8 .4-.5 .5 .6 .4 3.5 .5-3.1 .4-1.1 .5 1.3 .4-.4 .5 1 .4 4.3 .5-4.8 .4 1.7 .5-.9 .4-1.2 .5 2.9 .4 .3 .5-1.3 .4 2.4 .5-1.9 .4 2.6 .5-4.5 .4 3.9 .5-.6 .4-2.2 .5-.9 .4-.6 .5-.8 .4 1.4 .5 .2 .4 .5 .5 6.9 .4-6.4 .5-2.3 .4 6.9 .5-1.1 .4-4.7 .5 4.1 .4-1.2 .5 1.8 .4-3.9 .5 1.8 .4-1 .5-1.1 .4 1.7 .5 4.2 .4-4.9 .5-1 .4 0 .5 3.6 .4-2.2 .5-3.1 .4 .1 .5 2.4 .4 3.4 .5 1.9 .4-1 .5-3.3 .4 1.6 .5 1.9 .4-4.4 .5-6.1 .4 12.2 .5-1.2 .4-1.9 .5 2.4 .4-1.5 .5-4 .4-1.7 .5 2.8 .4-2.1 .5 1.5 .4 3.7 .5-6.1 .4 3.5 .5 6.2 .4-5.6 .5-4.1 .4 4.8 .5-1.5 .4 3.8 .5-4.4 .4 5.8 .5-1 .4 2.2 .5-4.1 .4 3.2 .5-10.4 .4 2.2 .5 4.4 .4-.9 .5-1.4 .4 2.7 .5 0 .4 .8 .5-6.6 .4 7.3 .5-.8 .4-2.5 .5-1.3 .4 4 .5-2.1 .4-.3 .5 3.3 .4 2.1 .5-4.8 .4-1.4 .5 1.8 .4-1.4 .5-2.9 .4 6.2 .5-1 .4-3.9 .5 1.8 .4 .5 .5-2.1 .4 5.7 .5-1.8 .4-4.4 .5-1.7 .4 10.7 .5-11.8 .4 9.1 .5-1.2 .4 .6 .5-4.8 .4 2.4 .5-.3 .4 5.8 .5-4.1 .4-5 .5 5.8 .4 1.4 .5 .3 .4-3.9 .5 1.2 .4-2.2 .5 1.7 .4 1.8 .5 .4 .4-6.5 .5 5.2 .4 1 .5-.3 .4-8.5 .5 6.6 .4 4.1 .5 1.7 .4-4.6 .5 .2 .4-3.8 .5 2.4 .4 .8 .5 6 .4-12.5 .5 10.3 .4-.2 .5 .3 .4-6.3 .5 3.2 .4-.8 .5 1.7 .4-2.4 .5-.8 .4 0 .5-1.2 .4 6.8 .5-6.3 .4 .5 .5 5.1 .4-3.5 .5 .2 .4 3.3 .5-2.7 .4 1.5 .5-1.8 .4-6 .5 4.1 .4 3.1 .5-2.1 .4 4.4 .5-4.5 .4 .6 .5-.8 .4 .5 .5 6.7 .4-7.7 .5-3 .4 2.6 .5-2.6 .4 4.9 .5 .2 .4-1.1 .5-.9 .4 .7 .5-4.8 .4 5.8 .5-1.3 .4 6.5 .5-5 .4 .9 .5-3 .4 2.2 .5 3.3 .4-5.8 .5 3.5 .4-.5 .5 2.3 .4-3.2 .5 1.1 .4-.7 .5 5.5 .4-1.4 .5-3.3 .4 2.1 .5-4.5 .4 2.5 .5 .1 .4 .5 .5 3.8 .4-5 .5-.4 .4 2.9 .5-.6 .4 3.2 .5 3.2 .4-5 .5-2.7 .4-.4 .5 4.9 .4-6.7 .5 1.9 .4 1.9 .5 0 .4-2.5 .5 6.1 .4-.9 .5 .4 .4-5 .5-1.5 .4 4 .5-2 .4-.1 .5-.2 .4 4 .5-5.1 .4 9.1 .5-13.4 .4 5.1 .5 .5 .4-1.3 .5 1.7 .4-.8 .5-3.4 .4 5.2 .5 4.8 .4-9.5 .5 1.6 .4-1 .5 3.4 .4-4 .5 3.9 .4 .3 .5 1 .4 1.8 .5-5.4 .4-.5 .5 4.3 .4 1.2 .5-3.7 .4-4.4 .5 7.9 .4-.1 .5-8.8 .4 8.1 .5-2.9 .4-4 .5 8.4 .4-1.9 .5 4.7 .4-5.1 .5-1.1 .4 3.2 .5 2.9 .4-3 .5-3 .4 .9 .5-1.1 .4-2.4 .5 1.8 .4 1.7 .5-2 .4 3.5 .5-4.1 .4 2.8 .5-4.5 .4-1.4 .5 7.6 .4-2.1 .5-1.7 .4 3.2 .5 5.2 .4-5.9 .5 2.2 .4-4.4 .5 1.5 .4-.6 .5 6.4 .4-3.4 .5-5.6 .4-1.7 .5 11.6 .4-5.1 .5-1.5 .4-1.6 .5 1.1 .4-2.1 .5 1.1 .4-2.4 .5 3.2 .4-1.1 .5 4.3 .4-2 .5-5.7 .4 3.2 .5 4.4 .4-3.1 .5-1.2 .4 3.4 .5-.9 .4-3.9 .5 4.4 .4-1.5 .5-3.5 .4 1.8 .5 2.3 .4-3 .5 2 .4 1.5 .5-2.3 .4-1.7 .5 .3 .4 1.2 .5-2.8 .4 9 .5-6 .4 1.2 .5 0 .4 3.2 .5-8.3 .4 6.7 .5-2.6 .4-.8 .5-3.3 .4 6.8 .5 .1 .4-1.2 .5-1.6 .4-2.7 .5 1.6 .4 4.4 .5-2.1 .4 2.7 .5-2.4 .4 2.2 .5 .9 .4-.2 .5-6.6 .4 5.2 .5-2 .4 4.9 .5-4 .4 2.5 .5-4.8 .4 3.1 .5-2.8 .4-.7 .5 2.8 .4-.6 .5 1.3 .4-6.3 .5 .8 .4 8.4 .5-6.3 .4 1.5 .5 2.2 .4 1 .5 .3 .4-5.7 .5 4.7 .4-1.5 .5-2.1 .4 1.3 .5 1.9 .4 .5 .5-3 .4 3.3 .5-6.6 .4 3.6 .5-5.4 .4 10.3 .5-3 .4-3.2 .5 .5 .4 .6 .5 .3 .4-4.5 .5 2.7 .4 4.1 .5-.7 .4-3.8 .5 3.7 .4 2.3 .5-6.4 .4-2 .5 .1 .4 7.6 .5-3 .4-1 .5-1.7 .4 6.3 .5-3.4 .4 1.8 .5-2.1 .4-4.1 .5 8.2 .4-5 .5 3.4 .4-1 .5-2.6 .4 5.2 .5-.8 .4-1.2 .5 2.9 .4-5.4 .5 2.9 .4-2.9 .5 .3 .4 2.8 .5-6.5 .4 5.7 .5-4.2 .4 5 .5-6.7 .4 2.9 .5 4.6 .4-2.7 .5 1.8 .4-3.3 .5 5.4 .4-4.1 .5 3.6 .4-5.4 .5-.8 .4 4.6 .5-4.2 .4 2.7 .5 4.5 .4-6 .5-2 .4 5 .5-5.2 .4 2.6 .5-.9 .4 .7 .5-.7 .4-5.9 .5 8.2 .4 1.8 .5 0 .4-2 .5 .6 .4-5.2 .5 .9 .4 7.1 .5-5.8 .4-2.6 .5 3.5 .4-.9 .5 2.4 .4 .6 .5-5.1 .4 4.1 .5 2.2 .4-1.5 .5-2.5 .4 4 .5-1.8 .4-4.4 .5 0 .4 4.9 .5-4.7 .4 .5 .5 4.3 .4-1.4 .5-2.2 .4 2.1 .5-1.7 .4 4.8 .5-3.3 .4 6.3 .5-1.3 .4-1.3 .5-1.6 .4-.6 .5-2.3 .4 5.8 .5 3 .4-7.5 .5 .5 .4-7.1 .5 6.4 .4-2 .5 8.9 .4-9.3 .5 3.6 .4 2.4 .5-1 .4-4.9 .5 4.1 .4 .5 .5-1.2 .4-.3 .5-6 .4 6.8 .5-2.8 .4 4.1 .5-5.5 .4-.6 .5 4.7 .4-1.1 .5-3.2 .4 2.5 .5-.4 .4 2 .5-.1 .4-4.1 .5 5.8 .4 1.4 .5-8.1 .4 3.3 .5 4.6 .4-7 .5 .9 .4-1 .5 8.1 .4-1.7 .5-5.4 .4 5.3 .5 .3 .4 .1 .5 .4 .4 .2 .5-3.9 .4 4.3 .5-4.7 .4 7.7 .5-7.6 .4 3 .5 3.6 .4-5.4 .5 1.1 .4 0 .5-1 .4 2.8 .5 1.7 .4-5.6 .5 6 .4-6.9 .5 1.9 .4-4.9 .5 1 .4 6.8 .5-5.3 .4 1.3 .5-3.3 .4 7.8 .5-4.7 .4-.5 .5 8.3 .4-4.7 .5 0 .4-3.2 .5 8.2 .4-6.2 .5 3.1 .4-.4 .5-5 .4 3.2 .5 1.5 .4 1 .5-.8 .4-3.2 .5 2.9 .4 1.6 .5-6.5 .4 4.4 .5 .5 .4 1.6 .5-2.6 .4 .9 .5-7.9 .4 4.1 .5-2.5 .4 6 .5 3.3 .4-1.4 .5-3.5 .4 5.8 .5-3.5 .4 .9 .5-2 .4 1.8 .5-2.7 .4 2.8 .5 0 .4-3.4 .5 5.5 .4-2.3 .5-3.9 .4-2.8 .5 4.6 .4 3.4 .5-3.9 .4 4.6 .5-2.2 .4-.7 .5 1.3 .4 0 .5-1.5 .4 1 .5 .6 .4-1.6 .5 6.8 .4-4.2 .5 .9 .4 .1 .5-.5 .4-2.7 .5-2.8 .4 1.8 .5 6.1 .4-3.3 .5-5.4 .4 4 .5 1.7 .4-3.9 .5 1.4 .4 .7 .5 5.5 .4-5.1 .5-.2 .4-3.8 .5 7 .4-.1 .5-1.8 .4-1.2 .5 2.1 .4-1.5 .5 1 .4 1.7 .5-2.9 .4-1.1 .5 2.2 .4-3.9 .5-.1 .4 6.4 .5-7.7 .4-.4 .5 2.2 .4 1.3 .5-.8 .4 3.8 .5-2.4 .4-6.5 .5 3.7 .4 3.6 .5-7.4 .4 9.1 .5-.3 .4-2.3 .5 .4 .4-4.9 .5 5.4 .4 .9 .5-5.1 .4 4.8 .5 2.6 .4 1.7 .5-3.6 .4-1.2 .5 .4 .4-2.7 .5 2.3 .4 1.1 .5-4 .4 1.1 .5 2.2 .4-2.3 .5 5.4 .4-7 .5 3.4 .4 .6 .5 1.4 .4-4 .5-.6 .4 2.3 .5-.4 .4-.2 .5 3.4 .4-4.5 .5 4.9 .4-1.9 .5 2.7 .4-2.2 .5 .6 .4-1.6 .5 0 .4-5.1 .5 8.7 .4 .6 .5-5.6 .4 3.8 .5-3.5 .4 3.2 .5-4.8 .4 2.5 .5 1.4 .4-2.2 .5 3.1 .4-5.1 .5 1.3 .4 4.6 .5-5.5 .4 1.2 .5-3.5 .4 2.3 .5 1.3 .4 5.3 .5-5.1 .4 3.1 .5-1.6 .4-1.7 .5-1 .4 6.3 .5-5.4 .4-1 .5-2.6 .4 4.5 .5 .2 .4 .7 .5-4 .4-.8 .5-.9 .4 3.3 .5-.7 .4 .7 .5 2.8 .4-3.5 .5 3.6 .4-7.8 .5 8.7 .4-2.9 .5-1.3 .4 1.2 .5-.4 .4 2.2 .5-2.1 .4 5.2 .5-9.3 .4 3 .5 .8 .4 2.3 .5-6.3 .4 3 .5 6.8 .4-5.1 .5 4.5 .4-7.8 .5 3.5 .4 .9 .5-2.9 .4 .6 .5-.9 .4 2.9 .5 1.2 .4 1.4 .5-2.4 .4-.9 .5-3.9 .4 10.8 .5-1.2 .4-11.4 .5 7.4 .4-1.5 .5-1.4 .4-1 .5 3.5 .4 .6 .5 1.3 .4-5.7 .5 1.1 .4 3.3 .5-1.6 .4-1.2 .5 .2 .4 2.1 .5-4.2 .4-1.4 .5 6.4 .4-1.6 .5-4 .4 2 .5 1.3 .4 2.6 .5-2.1 .4-.8 .5-3 .4 2.4 .5-3.5 .4 4.5 .5 4.7 .4-8 .5 4.8 .4 2.2 .5-9.8 .4 6.8 .5-3.3 .4 2 .5-1.8 .4 1 .5 1.5 .4-2 .5 1.3 .4 .1 .5-.2 .4-1.4 .5-.6 .4-.5 .5 6.1 .4-8.6 .5 9.1 .4-3.4 .5 1.5 .4-3.7 .5 3.8 .4-3.5 .5-2.4 .4 1.9 .5-2 .4 8.6 .5-4.3 .4-1.4 .5-.4 .4 4.7 .5-1.1 .4-2.1 .5-2.1 .4 .9 .5 2.9 .4-5.4 .5 2.6 .4-.2 .5-2.3 .4 4.4 .5-2.8 .4-1.4 .5-.8 .4 2.8 .5-3.8 .4 1.8 .5 1.4 .4-1.2 .5 1.2 .4 1.2 .5-6.3 .4 6.9 .5-2.5 .4 .8 .5 2.1 .4 0 .5-3.1 .4-1.1 .5 2.4 .4-5.5 .5 7.5 .4-4.5 .5 3 .4-1 .5 4.9 .4 .3 .5-5.4 .4 4.9 .5-3.4 .4-.6 .5 2.2 .4-2.8 .5 2 .4-3.4 .5 2.2 .4 3.2 .5-3.6 .4 6.2 .5-1.8 .4-4.1 .5 3.4 .4-2.1 .5 4 .4 .6 .5-5.2 .4-2.3 .5 8.6 .4-5.5 .5 0 .4 2.2 .5-4.6 .4 7.7 .5-4.2 .4-1.7 .5 9.3 .4 0 .5-5.6 .4 .3 .5 1 .4-4.8 .5-4.6 .4 9.5 .5-3.5 .4 .9 .5 1.3 .4 .9 .5 2.1 .4-4.1 .5-2.6 .4 3.7 .5 .7 .4-.3 .5 1.9 .4-1.2 .5 .1 .4-1.2 .5-3.8 .4 9.3 .5-9.4 .4-1 .5 4 .4 5.4 .5-4.1 .4 1.6 .5-9.8 .4 7.1 .5-1.1 .4 1.4 .5 1.5 .4 1.5 .5-.6 .4-1.1 .5 2.2 .4-6.1 .5 0 .4 1.2 .5 .3 .4-1.2 .5 2.3 .4 1.9 .5 .4 .4-2.8 .5-.5 .4 .1 .5-.3 .4 1.9 .5-4.8 .4 2.4 .5 .4 .4 8.5 .5-8.2 .4-2.3 .5 3.6 .4-3.3 .5 6.3 .4 3.9 .5-6.6 .4-2.5 .5 3.8 .4 .1 .5 .4 .4-1 .5 3.7 .4-2.9 .5-1.2 .4 1.4 .5-6 .4 2 .5 5 .4-4.2 .5-.4 .4 3.1 .5 3.3 .4-4.7 .5-2 .4 1 .5 .4 .4 3.3 .5-6 .4 4.3 .5 1.2 .4-2.7 .5-1.4 .4 1.3 .5 7.8 .4-5.9 .5 1.5 .4-6.8 .5 3.2 .4-2.1 .5 3.6 .4-2.1 .5 3.1 .4-2.2 .5 3.6 .4-2.7 .5-.5 .4-.2 .5-1.3 .4 2 .5 2.2 .4-5.1 .5 4.4 .4-.7 .5-2.2 .4 .1 .5 7.3 .4-2.2 .5-4.9 .4 .5 .5-4.1 .4 6.3 .5-4.8 .4 3.9 .5 .3 .4-6 .5 8 .4 0 .5-1.3 .4 0 .5-1.9 .4 2.8 .5-1.5 .4-.8 .5-1.5 .4 .5 .5 1 .4 3.5 .5-1.4 .4-5 .5 6.3 .4 .2 .5-2.9 .4 2.1 .5-5.1 .4 .2 .5-.2 .4 4.8 .5-1 .4-6.9 .5 5.7 .4-4.3 .5 5.6 .4-1.4 .5 2.6 .4-2.4 .5 .2 .4 3.2 .5 2.5 .4-4.8 .5 3.5 .4 1.8 .5-3.6 .4-5 .5 5.1 .4-3.5 .5 1.1 .4 3.3 .5-2.1 .4-2.3 .5-3 .4 6.8 .5-2.6 .4 1 .5-4.1 .4 .3 .5 4.8 .4-2.7 .5 1.9 .4 .6 .5 2.6 .4 .2 .5-6.6 .4-1.8 .5 4 .4 1.7 .5-3.4 .4 5.4 .5-3 .4 .4 .5-.4 .4 .2 .5 .1 .4 .7 .5-1.7 .4 .5 .5 2.3 .4-1.2 .5 .8 .4-.5 .5-1.9 .4 2.7 .5-3.4 .4 4.2 .5-8.2 .4 8.4 .5-4.7 .4 4.9 .5-3.5 .4 .5 .5-1 .4-1.3 .5 8.5 .4-4.1 .5-4 .4-2 .5 5.8 .4-2.2 .5 2 .4 .4 .5 4 .4-3.3 .5-6.1 .4 7.2 .5-4.4 .4 .3 .5 8.2 .4-7.1 .5-2.2 .4-1.4 .5 1.8 .4-.6 .5 6.2 .4-3.9 .5 3.8 .4 .8 .5-8.1 .4 .3 .5-.2 .4 1.3 .5 4.9 .4-4.5 .5 .5 .4 1.4 .5 1.2 .4-3.3 .5 4 .4-6.9 .5 11.2 .4-1.6 .5-2.8 .4 2.3 .5-2.3 .4-1.5 .5-1.7 .4 4.9 .5-8.2 .4 7.4 .5-2.2 .4 7.2 .5-8.8 .4 5.5 .5-.1 .4-7 .5 4.3 .4-4.5 .5 1.7 .4 3.1 .5-4.2 .4 3.1 .5-1.4 .4-2 .5 6.2 .4-4.6 .5 1.3 .4 2.4 .5-7.9 .4-.8 .5 8.7 .4 .3 .5-.2 .4-3.1 .5 3.1 .4-4.4 .5 6.7 .4-5.5 .5 3.7 .4-6.1 .5 6.9 .4-1.5 .5-5.2 .4 5.3 .5-8.8 .4 4.9 .5 4.2 .4-1.7 .5-.2 .4-3.9 .5 1.1 .4 1.5 .5 5.2 .4-1 .5-2.7 .4-.6 .5 2.5 .4-2 .5 1.4 .4 2.2 .5-3.4 .4-.9 .5 .7 .4 1.5 .5 .9 .4-1.9 .5-.1 .4-1.3 .5 .4 .4-1.5 .5 6 .4-.6 .5-5.1 .4-.8 .5 5.9 .4 1.6 .5-6.1 .4 1.3 .5 2.1 .4 .4 .5 4.1 .4-6.1 .5-2.2 .4 6.2 .5-3.3 .4-2.3 .5-.4 .4 .6 .5 1.7 .4 .2 .5-2.4 .4 .8 .5-2.5 .4 5.9 .5 .5 .4-4.3 .5-2.8 .4 4.6 .5-3.8 .4 4.2 .5-1.3 .4-1.7 .5 .3 .4 2.2 .5-2.4 .4-2.3 .5 4.8 .4 2.6 .5-2.9 .4-.6 .5 1.5 .4 1.9 .5-6.5 .4 1.2 .5 .3 .4 2.1 .5-1.8 .4 .7 .5-.9 .4-1.1 .5 2.3 .4-.2 .5 3.7 .4-1.6 .5-.9 .4-5.1 .5 4.8 .4-4.6 .5-.1 .4-2.2 .5 4.8 .4 1.9 .5 .8 .4 .2 .5 3.2 .4-3.1 .5-.4 .4-1 .5-2.1 .4 5.7 .5-2.6 .4-1.3 .5-.6 .4-5 .5 7.1 .4-1 .5-4.7 .4 8.8 .5-3.8 .4-3.6 .5 2.6 .4-.8 .5-2.9 .4 6.6 .5-4.5 .4 3.8 .5-1.8 .4-4.7 .5 2.6 .4 .6 .5 4.7 .4 1.4 .5-4.8 .4 2.4 .5 1.4 .4-.4 .5-3.1 .4-2.1 .5 1.4 .4 .8 .5-1.2 .4 5.6 .5-7.7 .4 4.4 .5-1.5 .4-3.6 .5 6.7 .4-4.9 .5 4.1 .4-3.5 .5 6.6 .4-1 .5-7.2 .4 .6 .5 4.8 .4-.9 .5-1.5 .4 1 .5-.1 .4-.8 .5-2.3 .4 4.9 .5-2.6 .4-2.5 .5 2.5 .4 3.4 .5-3.5 .4-4.3 .5 4 .4-1.8 .5 2.9 .4-1.6 .5 1.1 .4 .1 .5-1.5 .4-2 .5 8.4 .4-5.2 .5 3.9 .4-10.4 .5 9.3 .4-7.5 .5 8.7 .4-2.5 .5 1.2 .4-.1 .5-1.7 .4-1.9 .5-.6 .4-1.9 .5 2.3 .4 2.8 .5-1.8 .4 .9 .5-.5 .4-1 .5 3.4 .4-5.8 .5-.6 .4 8 .5-2.1 .4-4 .5 7.1 .4-6.5 .5 4.4 .4-3.3 .5 .9 .4 1.3 .5-.2 .4 .9 .5-4.5 .4-.6 .5 2.2 .4 1 .5 3 .4-3.3 .5-1.9 .4 5.5 .5-4.7 .4 .3 .5-.7 .4-4.5 .5 1.5 .4 6.7 .5-1.6 .4 1.2 .5 .1 .4-4.5 .5-1.4 .4 2.9 .5-.2 .4 1.3 .5 .9 .4-.7 .5-.9 .4 .8 .5-.8 .4-1.3 .5 3.3 .4-2.8 .5 1.8 .4-3.9 .5 3.5 .4-3.8 .5 9.2 .4-7 .5-1 .4-2.6 .5 1.9 .4 7.1 .5 .8 .4-4.9 .5 .6 .4-2 .5 2.9 .4-4.6 .5 2.8 .4-.5 .5-2 .4 1.1 .5 4.5 .4-2.3 .5 2.4 .4-2.3 .5-1.1 .4 2.9 .5-8.2 .4 6.7 .5-1.5 .4-1.6 .5 5.4 .4-1.6 .5-2.8 .4 .2 .5 0 .4 1.8 .5-2.1 .4 1.2 .5 3.1 .4-2.1 .5 1.2 .4-3.8 .5 .5 .4-.6 .5 1.6 .4 .5 .5-4.6 .4 11.1 .5-.7 .4-10.5 .5 7.3 .4-3.8 .5-.9 .4 0 .5-1.6 .4 2.2 .5-.6 .4-1.5 .5 1.8 .4 1.3 .5-3.7 .4 4.7 .5-1.6 .4-.1 .5-.4 .4-3.1 .5 6.3 .4-.2 .5-3.6 .4-.9 .5 .4 .4 2.4 .5 1.2 .4-1.1 .5 1 .4-1.5 .5 1.2 .4 3.8 .5-4.1 .4-4 .5 3.2 .4 3.5 .5-6.6 .4 4.2 .5 2.8 .4-2.3 .5 1.8 .4 2 .5-3.7 .4-3 .5-1.6 .4 7.8 .5-4.7 .4 1.2 .5 2.8 .4-5.9 .5 2.4 .4-1.9 .5 3.5 .4 2.4 .5-6.9 .4-.2 .5 7.4 .4-3.7 .5 .9 .4 2.9 .5-3.4 .4-1.7 .5 2.2 .4-2.8 .5 2.6 .4-2.4 .5 2.2 .4-3.6 .5 .5 .4 1.1 .5 2.2 .4 3 .5-3.3 .4-2.7 .5-2 .4 2.2 .5-2.1 .4 6 .5-5.5 .4 2.2 .5 3 .4-3.4 .5 2.4 .4 4.9 .5-8 .4 3.4 .5 .1 .4-1.9 .5-1.6 .4 3.9 .5-3 .4 1.3 .5 5.2 .4-8.2 .5-.2 .4 7.4 .5-6.2 .4-3.9 .5 8.5 .4-4.4 .5 .5 .4 1.9 .5-.8 .4-2.6 .5 1.5 .4 4.2 .5-1.6 .4-6.8 .5 5.3 .4-4.4 .5 1.3 .4 1.6 .5 5.7 .4-2.5 .5-4.7 .4 6 .5-2.9 .4 3.5 .5-3.4 .4-3.1 .5 3.9 .4 4.1 .5-5.4 .4 1.9 .5-1.8 .4-2.8 .5 4.2 .4-.3 .5-2.5 .4 2.1 .5-1.9 .4 4.3 .5-2.2 .4-3.8 .5 7.2 .4-8.5 .5 2.2 .4 3 .5-1.3 .4 2.6 .5-3.2 .4 4 .5 .5 .4-1.8 .5 .4 .4-4.5 .5 9.3 .4-6.8 .5-1.1 .4-2 .5 3.8 .4-.4 .5-3.1 .4 .6 .5 3.6 .4-4 .5-2.2 .4 4.1 .5 2.5 .4 1.5 .5-1.9 .4-5.1 .5 3 .4-.9 .5 3 .4-5.1 .5 3.7 .4 3.6 .5-1.9 .4-1.2 .5 1.7 .4-1.2 .5 1.6 .4-.7"/>
<path fill="none" stroke="#008787" stroke-width="7.0" stroke-linejoin="round" stroke-linecap="butt" d="M205 1149l.4-9.4 .5 1.7 .4 5.7 .5-2.1 .4-1.6 .5-6.7 .4-4.4 .5 9.8 .4-6.1 .5 9.4 .4-4.2 .5-6.6 .4 7.1 .5 3.2 .4-3.7 .5-6.6 .4 7.4 .5 .7 .4 3.4 .5-.7 .4-11.3 .5 2.9 .4 7.8 .5-16.1 .4 17.4 .5-11.2 .4 3 .5 13.1 .4-10.5 .5-1.6 .4 4.1 .5-2.5 .4-3.7 .5 6.2 .4 13.3 .5-8.5 .4-3.3 .5-1.2 .4 3.8 .5-1.1 .4-10.3 .5 9.6 .4-3.2 .5 11.7 .4-13.4 .5 10.3 .4-16.8 .5 10.3 .4-7.1 .5-1.1 .4 11.7 .5-12.4 .4 6 .5-3.9 .4 7.7 .5-.7 .4-17.1 .5 20.1 .4-9.1 .5 18.3 .4-7.8 .5 .5 .4-23.1 .5 28.8 .4-11.8 .5-9.5 .4 11.5 .5 6.7 .4-19.8 .5 18.3 .4-9.5 .5-1.6 .4 1 .5-2.8 .4 7.1 .5 .3 .4 5.5 .5 2.4 .4-11.7 .5 9.6 .4-15.3 .5 12.3 .4-11.9 .5 3.7 .4 8 .5-9.2 .4 8.4 .5-13.2 .4 5.1 .5 8.4 .4 6.6 .5-18.1 .4 18.7 .5-9 .4 13.6 .5-17.4 .4-1.4 .5 5.7 .4-9.6 .5 8.3 .4-1.3 .5 9.4 .4-6.7 .5-10.8 .4-.4 .5 2.4 .4-7.5 .5-.5 .4 29 .5-20.1 .4 14.5 .5-13.9 .4 2.4 .5-8.9 .4 20.3 .5-11.3 .4 14.1 .5-16.2 .4 13.6 .5 1.4 .4-20.5 .5 13.4 .4-10.2 .5-.8 .4 8.7 .5 4.8 .4 3.7 .5-11.6 .4 9.1 .5-2.9 .4-3.9 .5-6.5 .4 6.8 .5 17.9 .4-24.6 .5 5.3 .4-5 .5 15.7 .4 2.9 .5-3.2 .4 4.5 .5-14.2 .4 12.1 .5-17.3 .4 16.4 .5-.4 .4-14.6 .5 10.9 .4-14 .5-2.3 .4 .1 .5 2 .4-.3 .5 7.2 .4 12.8 .5-13.8 .4-4.1 .5 10.6 .4-6.4 .5 2.3 .4 2.1 .5 .3 .4-7.8 .5 3.1 .4 8.2 .5-9.1 .4 1 .5 3.8 .4 .8 .5-5.1 .4 6.2 .5-4 .4-9.1 .5 13.7 .4-10.6 .5 24.5 .4-16.3 .5-4 .4 8 .5 4.3 .4 .4 .5-8.5 .4 5.4 .5-2.5 .4-4.3 .5-11.1 .4 10.7 .5-18.1 .4 11.8 .5 15.8 .4-8.3 .5-1.5 .4-5.8 .5 .2 .4 1.2 .5-4.9 .4-6.1 .5 23.1 .4 4.4 .5-16 .4 9.8 .5-13.9 .4 11.1 .5-12.1 .4 16.1 .5-6 .4-9.3 .5 12.8 .4 7.8 .5-11.5 .4-.3 .5 .4 .4 .8 .5 7.9 .4 .3 .5-23.8 .4 23.3 .5-9.9 .4 13.2 .5-8.5 .4 3.6 .5-10.3 .4-5.8 .5 11.1 .4 5.1 .5-1.6 .4 .4 .5-3.9 .4 3.5 .5-10.8 .4 4.8 .5-9.9 .4 10.5 .5-1.7 .4 2.5 .5 7 .4-6.9 .5-18.5 .4 27.7 .5-8.5 .4 4.4 .5-11 .4 11.4 .5 5 .4-22.1 .5 19.9 .4-15.1 .5 1.1 .4 5.5 .5 14.6 .4-27.3 .5 8.2 .4 4.8 .5 4.2 .4-5.3 .5 3.8 .4-10.3 .5 12.7 .4 2 .5-15.2 .4 2.2 .5 8.4 .4-.5 .5 1.4 .4-12.3 .5 5.8 .4-.7 .5 13 .4-10.2 .5-2.9 .4-2.8 .5 6.4 .4 8.4 .5-19.3 .4 11.7 .5 2.8 .4 10.4 .5-9.2 .4 4.8 .5-9.3 .4-10.1 .5-.2 .4 4.9 .5 6.1 .4-3 .5-1.3 .4 16.1 .5-29.7 .4 9.5 .5 24.3 .4-14.7 .5-6.9 .4-3.2 .5 13.6 .4-.8 .5 .8 .4-14.9 .5 10.1 .4-2.5 .5 4.7 .4-14.5 .5 15.6 .4 6.6 .5-20.5 .4 15.9 .5 5.6 .4-5.5 .5-6.6 .4 1.2 .5-4.6 .4 5.3 .5-8.9 .4 7.7 .5-6.3 .4-4.3 .5 20.9 .4-23.8 .5 25.8 .4-28.1 .5 22.1 .4-5.3 .5-12.8 .4 7.9 .5-3.7 .4 .5 .5 13 .4-14.6 .5-5.3 .4 21.6 .5-5.2 .4-2.7 .5-2 .4 6.9 .5-2.3 .4-3.4 .5-3.4 .4 11.8 .5 2.7 .4-7 .5 14.9 .4-16.6 .5-.3 .4 9.5 .5-8.7 .4-.2 .5-4.4 .4 5.9 .5-15.3 .4 6.7 .5-2.5 .4-7.8 .5 23.3 .4-10.2 .5-3.9 .4 9 .5-11.5 .4 15.2 .5 3.6 .4-20.2 .5 18.6 .4-6.9 .5 6.6 .4-6.7 .5-7.4 .4-5.3 .5 3.4 .4 4.3 .5 11.1 .4-3 .5-2.3 .4 8.2 .5-23.5 .4 4.8 .5 .2 .4 8.6 .5-12.3 .4 7.7 .5 13.8 .4-2.6 .5 3.9 .4-15 .5-3.3 .4 9.3 .5-8.5 .4 5.9 .5-.3 .4 4.8 .5 6.4 .4-.4 .5-3.2 .4-8.1 .5 6.2 .4-7.4 .5-3.8 .4-4.3 .5 6.7 .4 7.7 .5 1.3 .4-4.6 .5 3.9 .4-8.2 .5 15.9 .4-10.8 .5-3.3 .4 7 .5-5.8 .4 3.5 .5 8.1 .4-16.2 .5 3.7 .4 .8 .5 1.6 .4 13.1 .5-7 .4 2.9 .5-27.4 .4 21.7 .5-1.5 .4 1.9 .5-3.7 .4-4.9 .5 9.8 .4-6.4 .5 1.3 .4-4.2 .5 2.8 .4 5.2 .5 2 .4-6 .5 .8 .4-2 .5 7.7 .4-9.4 .5 1 .4 2.9 .5-3.8 .4 5.1 .5 9.5 .4-11.7 .5 10.5 .4-3.8 .5-5.3 .4 3.7 .5 5.3 .4-16.2 .5 11 .4 3.8 .5-14 .4 14.7 .5-4.8 .4-10.4 .5 8.9 .4-13.2 .5 1.3 .4-2 .5 12.4 .4-4.5 .5-2.8 .4 1.6 .5 3.1 .4-1.8 .5-1.2 .4 4.6 .5-7.8 .4 2.8 .5 12 .4-5.7 .5-15.2 .4 23.6 .5-16.9 .4 17.6 .5-11 .4 6.1 .5-19.3 .4 7 .5 .9 .4 .5 .5-1.6 .4 1 .5 3.6 .4-3.5 .5 3.2 .4 3.4 .5-14.9 .4 10.6 .5-5.3 .4 5.9 .5 4.7 .4-14.3 .5 6.8 .4 8.8 .5 .6 .4-11.4 .5 9.6 .4-4.5 .5-2.1 .4-4.2 .5 5 .4 2.5 .5-9.7 .4 7.6 .5-11.6 .4-.4 .5 11.8 .4-5.6 .5-4.2 .4 7.9 .5 2.5 .4-4.6 .5 9.9 .4-15.1 .5 .3 .4 10.9 .5-13.4 .4 12 .5-16.2 .4 4.3 .5 5.7 .4-1.6 .5 13.5 .4-17.3 .5 6.4 .4 1.4 .5-1.9 .4 8.7 .5-11.9 .4 .4 .5-3.3 .4 13 .5-4.3 .4 .2 .5-.5 .4-9.2 .5 11.2 .4-1.2 .5 7.7 .4-6.9 .5-8.4 .4 3.3 .5 14.6 .4-20.7 .5-1.1 .4 11.1 .5 8.3 .4-9.4 .5-8.6 .4 23.2 .5-20.4 .4 11 .5 4.3 .4-9.3 .5 3.6 .4 6 .5-19.1 .4 14.4 .5 2.7 .4 .5 .5-11.5 .4 6 .5-7.1 .4-.1 .5-2.3 .4 10.8 .5-3 .4 6.5 .5-24.3 .4 10.3 .5 8.5 .4 9.7 .5-16.9 .4-7.2 .5 8.2 .4 3.5 .5 6.2 .4 2.3 .5-2.9 .4-5.6 .5 15.2 .4-19.2 .5 4.8 .4 4.1 .5-7.6 .4 1.9 .5 6.1 .4-10.7 .5 5 .4 .2 .5 16.8 .4-9.9 .5-10.4 .4 10 .5-12.5 .4 10.2 .5-14.2 .4 16.4 .5-6.1 .4-8 .5 12 .4 3 .5-3.2 .4-1.4 .5-10.2 .4 14.5 .5-20.4 .4 11 .5 17.5 .4-23.1 .5-2.7 .4 5.8 .5 8.9 .4-3.2 .5 7.4 .4-6.5 .5-7.5 .4 13.5 .5-10.2 .4 8.4 .5 4.9 .4-6.1 .5 5.4 .4-17.2 .5 5.4 .4 4.1 .5-9.3 .4 17.1 .5-.7 .4-5.3 .5 .9 .4-5.1 .5-6.4 .4 3 .5 2.4 .4 3.3 .5-2.6 .4 2.8 .5-11.1 .4 3.8 .5 6.3 .4 5.3 .5-17.8 .4 13.4 .5 2.6 .4-5.5 .5 .9 .4-3.4 .5 2.4 .4-2.4 .5-7.8 .4 19.4 .5-7.2 .4-5.8 .5 12.5 .4-11 .5 6.1 .4-15.8 .5 7.2 .4 11.3 .5 2.6 .4 2.7 .5-3.1 .4 2.4 .5-17.1 .4-5 .5-6.9 .4 17.1 .5-2.5 .4 12.1 .5-12.2 .4 12.7 .5-22.1 .4 22.9 .5-12.8 .4 9.9 .5-2.7 .4-12.9 .5 12.2 .4-10.5 .5 10.2 .4-2.1 .5-1.2 .4-4.2 .5-.6 .4 2 .5-17.2 .4 23.4 .5-7.5 .4 2 .5-8.1 .4 8.5 .5-5.5 .4 14.1 .5-20.9 .4 18.3 .5-14.3 .4 8 .5-4.5 .4-5.1 .5-7.7 .4 19.4 .5-17.3 .4 8.6 .5 12.3 .4 0 .5-7.4 .4-13.5 .5 10.3 .4 1.3 .5-6.2 .4 14.8 .5-7.8 .4 .4 .5-3.1 .4-8.9 .5 2.9 .4-.4 .5 15.2 .4-8.3 .5 2.8 .4-.4 .5-.2 .4 8.8 .5-5.9 .4-3.9 .5-1.1 .4 9 .5-22.8 .4 21.9 .5-13.1 .4 7 .5-5.4 .4 2.1 .5-2.1 .4-17.3 .5 10.9 .4 2.1 .5-3.7 .4-3.9 .5 16.7 .4-10.9 .5 7.8 .4 7.6 .5-15.9 .4 6.2 .5 9.2 .4-10.1 .5-.5 .4-12.3 .5 24.3 .4-11.1 .5-7.7 .4 15.3 .5-8.9 .4 2.4 .5-4.1 .4 9.8 .5-.5 .4-7.9 .5 3.4 .4 10.7 .5-9.7 .4-4.2 .5 13 .4-14.3 .5 5.1 .4-9 .5 2.4 .4 2.2 .5 7.8 .4 3.4 .5-10.3 .4 8.4 .5-5.9 .4 5.6 .5-10.4 .4 7.5 .5-3 .4 2.1 .5 16.6 .4-15.4 .5 7.8 .4-2.2 .5-18.2 .4 13.6 .5 4.7 .4-18.4 .5 5.3 .4 23.7 .5-17.4 .4-3.6 .5 3.3 .4-6.2 .5 6.8 .4 .8 .5-3.6 .4 12 .5 2 .4-4.6 .5-12.7 .4 1.8 .5-5.8 .4 12.2 .5-6.1 .4-.6 .5-.8 .4 6.4 .5-.6 .4-9.1 .5 18.7 .4-9.4 .5-10.8 .4 15.5 .5-11.9 .4 18.7 .5-3.3 .4-5.6 .5 12.6 .4-22.6 .5 8.4 .4-4 .5-4.4 .4-2.7 .5 16.8 .4-9.5 .5-5 .4 3 .5 21.7 .4-17.8 .5-5.1 .4 3.4 .5 9.9 .4-9.2 .5-.5 .4 .8 .5-3.1 .4 1.8 .5 11.5 .4-11.2 .5 .9 .4-17.7 .5 23.2 .4 3.8 .5-13.5 .4 8.2 .5-11 .4 9.9 .5 .3 .4-18.2 .5 23.3 .4 1.6 .5-10.3 .4-6.6 .5 7.6 .4-1 .5 7.6 .4-6.9 .5-.5 .4 8 .5-2.4 .4-3.9 .5-5.4 .4-.5 .5 .6 .4-.9 .5 3 .4 11 .5-10.7 .4 .7 .5-12.6 .4 21.7 .5-9.9 .4 7.1 .5-.9 .4-8.1 .5 8.1 .4-13.9 .5 5.6 .4 15.4 .5-17.1 .4 9.7 .5-2.9 .4-5.7 .5 16 .4-11.2 .5 6.2 .4 9.2 .5-24.9 .4 9.9 .5 7.1 .4-7.1 .5 9 .4-3.8 .5-2.8 .4 1.8 .5-8.8 .4-5.3 .5-1.8 .4 14.8 .5-8.9 .4 16.5 .5-17.8 .4-3.7 .5-1.8 .4 24 .5-9.3 .4 3.6 .5-12.4 .4 19.5 .5-21.2 .4 10.3 .5-2.8 .4 10.5 .5-15.1 .4 5.2 .5 .8 .4 1.9 .5 .7 .4 5.1 .5 1.6 .4-8.6 .5 1.4 .4 2.3 .5 1.7 .4-3.3 .5 4.6 .4-1.5 .5 3.7 .4-9.8 .5 6 .4-5.3 .5-8.2 .4 7.6 .5 6.1 .4-4.5 .5-3.1 .4 11.6 .5 3.9 .4-3.6 .5 .3 .4-13.7 .5 13 .4 7.7 .5-2.1 .4-8.2 .5 7.6 .4-9.5 .5-.5 .4 5.7 .5-.1 .4-7 .5 3.1 .4 8.8 .5-10.5 .4 4.6 .5 1.3 .4 4.6 .5-7 .4 2.7 .5 6.3 .4-11.2 .5-.9 .4-5 .5 14.7 .4-8.1 .5-.3 .4-8.3 .5 9.3 .4-3.4 .5 4.6 .4 0 .5 2.7 .4 10.9 .5-18.1 .4 7 .5-3 .4 2 .5 3.3 .4 5.1 .5-5 .4 1 .5 3.2 .4-3.2 .5-3.5 .4 3 .5 1.2 .4-11.1 .5 15.9 .4-3.7 .5 3.8 .4-2.9 .5-9.3 .4 4 .5 4.6 .4-7.7 .5 16.1 .4-15.4 .5 18.9 .4-8.6 .5 2.1 .4-11.2 .5 6.2 .4-.2 .5 11.7 .4 4.3 .5-.8 .4-27.4 .5 16.6 .4-8.2 .5 8 .4-2.1 .5-7.5 .4 3.3 .5 12.1 .4-4.7 .5-2.9 .4 5.1 .5-7.3 .4 11.2 .5-6 .4 9.4 .5-19.3 .4 15.3 .5-4.6 .4-5.8 .5 2.9 .4 7 .5 3.7 .4-6.3 .5 1.9 .4-1.6 .5 .1 .4 15.9 .5-7.3 .4 5.7 .5-12.2 .4 5.4 .5-3 .4 7.7 .5-4.6 .4 8.9 .5-8.8 .4-3.3 .5-3.5 .4 2.8 .5 8.9 .4-7.7 .5 4 .4 4.7 .5 3.3 .4-14.5 .5 5.4 .4-5.9 .5 9.2 .4-1.1 .5 1.8 .4-8.9 .5 5.5 .4-7.6 .5 14.8 .4-6.8 .5-.6 .4 6.2 .5 2.8 .4-7.4 .5 3.9 .4 1.9 .5-3.4 .4-3.7 .5 1.8 .4 9.4 .5-3.1 .4-8.1 .5 4.4 .4 7.6 .5-3.8 .4-4.7 .5-2 .4 8.7 .5 9.6 .4-11.1 .5-3.9 .4 .2 .5 11.9 .4-18.1 .5 9.5 .4 2.9 .5-3.1 .4 16.9 .5-11 .4 0 .5 5.8 .4-6.3 .5-9.8 .4 12.3 .5-4.1 .4-.2 .5 11.6 .4-12.6 .5 5.9 .4 .2 .5 2.2 .4 11.2 .5-17.7 .4 5.4 .5 7.4 .4-6 .5-4.3 .4 1.9 .5 10.2 .4-14.4 .5 18.6 .4 1 .5-10 .4 2.1 .5 .8 .4-4.4 .5 4.5 .4-14.4 .5 2.9 .4 4.8 .5 1.6 .4 7.7 .5-1.5 .4 3.9 .5-4.4 .4 .4 .5 3.1 .4-7.3 .5-.1 .4 2 .5-4.4 .4 5.6 .5 2 .4-4.5 .5 1.4 .4 1.9 .5 10.5 .4 1.7 .5-12.4 .4 11.5 .5-6.5 .4-5.3 .5 4.9 .4-2.5 .5 .1 .4-3.5 .5 9.3 .4-9.7 .5 5.6 .4 7.3 .5 7.4 .4-10.7 .5 1.5 .4 4.1 .5-5 .4 8.9 .5-20.7 .4 15.6 .5-6.7 .4 6.1 .5 7 .4-7 .5-2.5 .4 3.4 .5-2.9 .4 3.4 .5-2.5 .4-1.8 .5-3.3 .4 11.6 .5-4.9 .4-5.4 .5 .7 .4 7.8 .5-5.2 .4 6.4 .5 5.5 .4 11.3 .5-14.9 .4 7.4 .5-17.7 .4 5.6 .5 5 .4 1.8 .5-11.1 .4 15.1 .5-2.4 .4-.9 .5 1 .4-5.3 .5 8.8 .4-4.2 .5-2.8 .4 5.4 .5-8.8 .4 3.9 .5 .3 .4 4 .5-3 .4 3.4 .5-8.4 .4 1 .5 9.7 .4-2.4 .5-3.8 .4 6.1 .5 .6 .4 4.1 .5-2.9 .4-6.2 .5 4.8 .4 5.8 .5-2.3 .4-6.4 .5 10.4 .4-10.4 .5 3.2 .4-8.7 .5 10.8 .4 1.5 .5-2.6 .4 1.3 .5-3.6 .4 7.1 .5-5.5 .4 6.4 .5-.6 .4-1.6 .5 1.7 .4 .1 .5-2.2 .4-7.1 .5 17.6 .4 3.9 .5-10.7 .4-5.3 .5 5.7 .4-8.4 .5 10.7 .4 6.2 .5-6 .4 .6 .5-13.4 .4 9.1 .5-5 .4 16.5 .5-9.4 .4-.9 .5 4.9 .4 3.1 .5-2.1 .4-7.2 .5 6.3 .4 1.2 .5-4.4 .4 5.8 .5-7.6 .4 7.3 .5 3.4 .4-3.6 .5-6.9 .4 7.6 .5 2.4 .4-.5 .5-8.8 .4 5.1 .5 .9 .4 14.2 .5-10.3 .4-4.8 .5 7.9 .4-7.4 .5 1.4 .4 9.2 .5-1.6 .4-5.1 .5-5.6 .4-11.6 .5 16.7 .4-5.6 .5 11.2 .4 .6 .5-12.9 .4 0 .5 4.9 .4 3.1 .5 4.7 .4-12.1 .5-4.3 .4 10 .5-1 .4 2.2 .5 8.6 .4-10.4 .5 8.6 .4-6.6 .5 4.1 .4 2.3 .5-5.1 .4-8 .5 3.4 .4 4.7 .5-7.1 .4 1.1 .5 4.7 .4-2.5 .5 9.8 .4 0 .5-17.5 .4 17.3 .5-7 .4 3.2 .5 8.9 .4-6.6 .5-2 .4-2.9 .5 5.7 .4 2.6 .5 1.7 .4-6.8 .5 13.5 .4-10.9 .5 10.7 .4-9 .5 8.9 .4 0 .5-12.9 .4 3.7 .5 .2 .4 5.2 .5-8.5 .4-1.2 .5 20.6 .4-9.7 .5 2.7 .4-5 .5 1.1 .4 2.5 .5-2.2 .4-2.5 .5-.1 .4 9.5 .5-11.2 .4 7.7 .5-2.9 .4-1.4 .5 6.1 .4-6.7 .5-8.9 .4 16.5 .5-3.6 .4 1.4 .5 4.3 .4-6.4 .5 7.8 .4-8.1 .5 13.6 .4-18.3 .5 6.6 .4-1.2 .5-5.1 .4 1.7 .5 5.6 .4-9.3 .5 9.5 .4 4.4 .5-9.9 .4 2 .5-3.3 .4 5.6 .5 1.8 .4-3.2 .5 .8 .4 5.1 .5 1.4 .4-8.2 .5 3.9 .4-.7 .5-4.6 .4 8.7 .5 2.8 .4-.7 .5-5.6 .4 10.8 .5-1.1 .4-7.9 .5 2.2 .4 6.8 .5-7.1 .4 9 .5 2.4 .4-8.2 .5 .9 .4 .2 .5 7.1 .4-2.2 .5-9.7 .4-1.5 .5 4.1 .4 1.8 .5-3.3 .4 10.2 .5-3.9 .4 4.6 .5 .7 .4-9.8 .5 15.8 .4-2 .5-9.4 .4-3.2 .5 .4 .4 7.3 .5-5.3 .4 4.6 .5 8.1 .4-9.7 .5-1.2 .4 4.3 .5-.4 .4-6.8 .5-3.7 .4 8.5 .5-1 .4-.2 .5 3 .4 2.5 .5-6.7 .4 8.5 .5-8 .4 3.7 .5 2.2 .4 3.1 .5 2.8 .4-4 .5-2.3 .4 2.6 .5 .1 .4-5.2 .5 3.6 .4-1.4 .5 3.3 .4-10 .5 1.5 .4-3.8 .5 15.8 .4-6.1 .5 2.2 .4-9.8 .5 13.2 .4-1.5 .5 6 .4 1.1 .5-5.6 .4-1.2 .5 1.3 .4-2.1 .5-.8 .4 1.7 .5 1.3 .4-4.9 .5 2.5 .4 11.5 .5-12.1 .4 .7 .5 4.6 .4-6.8 .5 2.9 .4-5.4 .5 7.3 .4-4.3 .5-5.6 .4 12.8 .5 2 .4-4.8 .5 10.9 .4-18.2 .5 1 .4 8.6 .5 4.6 .4-5.4 .5-1.3 .4-3.2 .5 15.2 .4-12.2 .5 6.4 .4-1.9 .5-8.4 .4 11.9 .5-7.6 .4 5.7 .5 .8 .4-3.6 .5 10 .4-1.5 .5-7.3 .4 4.9 .5 2.3 .4 3 .5-10.7 .4 12.3 .5-15 .4-1.4 .5 9.7 .4-8.2 .5 13.9 .4-18.3 .5 9.8 .4 3.4 .5-11.7 .4 14.2 .5-12.8 .4 9.4 .5-.5 .4 .3 .5 3.2 .4 .1 .5-8.3 .4-.4 .5 5.4 .4-8.8 .5 15.4 .4-7.5 .5 13 .4-8.9 .5-5.8 .4-2 .5 11.9 .4-19.2 .5 10.7 .4 13.2 .5-11 .4 4 .5-3.4 .4 3.1 .5-6.9 .4 4.8 .5 6 .4-6.2 .5 .9 .4 5.6 .5-.7 .4-4.1 .5-5 .4-1.2 .5 6.7 .4-.8 .5 8.7 .4 4.6 .5-4.7 .4-10.6 .5 1.1 .4-6.4 .5 9.5 .4 .1 .5 3.5 .4-9.3 .5 6.4 .4-1.4 .5 5 .4-12 .5 13.9 .4-6.3 .5-.3 .4-5.7 .5 5.1 .4 2.6 .5-2.7 .4 2.4 .5-6.6 .4 5.8 .5-4.5 .4-4.5 .5 2.5 .4 5.6 .5 3.3 .4-1.3 .5 6.5 .4-4.9 .5-1.3 .4-2.7 .5 5.3 .4-2.9 .5-8.8 .4 9.1 .5 .2 .4-.4 .5 13.7 .4-9.7 .5 1.2 .4-1 .5-5.2 .4 3.5 .5 .2 .4 .2 .5-4.9 .4 5.3 .5-3.2 .4-4.2 .5 .9 .4 3.1 .5 1.7 .4-5.9 .5-1.3 .4 2.9 .5 2.3 .4 10.1 .5-5 .4-13.2 .5 8.4 .4 3.3 .5 4.6 .4-5.6 .5 9.3 .4-12 .5 13.6 .4-11.7 .5 1.5 .4 2.2 .5-4.3 .4-2.6 .5 7.4 .4-.9 .5 6.6 .4-3.3 .5-7.1 .4 5.7 .5-6.5 .4-4 .5 6.7 .4-1.7 .5-.5 .4 8 .5-4.8 .4-4.2 .5 2.1 .4 3.6 .5-11.1 .4 12.2 .5-1.1 .4 1.2 .5 4.2 .4-.2 .5-8.2 .4 7.6 .5-4.3 .4-6.5 .5 5.5 .4-.5 .5 3.1 .4-6 .5-.1 .4 5.5 .5-4.8 .4 1.3 .5-1 .4 4.9 .5-.6 .4-3 .5-9.6 .4 15 .5-7.6 .4 5.1 .5-2.9 .4-6.2 .5 11.1 .4-4.9 .5 2.1 .4 1 .5 10.4 .4-13.1 .5 .9 .4-1.6 .5 1.8 .4 2.8 .5-2.5 .4 2.1 .5-.9 .4-.3 .5-.2 .4 12.4 .5-15.1 .4 3.9 .5-4.5 .4 7.7 .5 .1 .4-3.7 .5-3.8 .4 8 .5 2.5 .4-13.2 .5 4 .4 3.1 .5 .5 .4 .4 .5 3.1 .4-4.5 .5 1.4 .4 3.4 .5-4.4 .4 8.3 .5-5.7 .4 4.1 .5-3.1 .4 2.4 .5-3.1 .4 .6 .5 1.6 .4-4 .5 9.4 .4-10.2 .5 8.8 .4-7 .5 5.8 .4-1.7 .5 3.5 .4 5.4 .5 .1 .4-12.6 .5 2.3 .4-3.7 .5 4.5 .4-6.6 .5 7.5 .4-8.3 .5 13.5 .4-8.6 .5-3.8 .4 3.2 .5 2.9 .4-5.7 .5 12.6 .4-5.5 .5-4.3 .4-3.1 .5 6.6 .4 1 .5 1.5 .4-3.8 .5-3.4 .4 7.7 .5-4.3 .4-3.8 .5 4.5 .4-.8 .5-1.2 .4 5.3 .5-15 .4 15.3 .5-5.4 .4-.4 .5 .6 .4 3.2 .5-6.8 .4 5 .5 4.9 .4-.9 .5-8.2 .4 1.2 .5-3 .4 .2 .5 10.2 .4 .4 .5-9.6 .4 14 .5-2.4 .4-3.4 .5-4.5 .4-.5 .5 6 .4-1.2 .5-9 .4 7.6 .5-.1 .4 5.3 .5-10 .4 2.3 .5 .7 .4-.1 .5-1.8 .4 8.7 .5-9.9 .4 1.6 .5-2 .4 3 .5 5.9 .4-3.8 .5 2.5 .4-.7 .5-3.4 .4-7.2 .5 8.9 .4-1.1 .5-.9 .4-.9 .5 1 .4-2.2 .5-.3 .4 .7 .5 3.7 .4 6.6 .5-4.8 .4-11 .5 8.9 .4 1.7 .5 1.4 .4-6.2 .5-4.3 .4 10.5 .5-5.6 .4 10.1 .5-13.2 .4 13.8 .5-13.9 .4 13.7 .5-7.5 .4 3.3 .5-1.6 .4 2.3 .5-3.3 .4 2.3 .5-8.6 .4 4.6 .5-5.1 .4 5.2 .5 1.2 .4-1.4 .5 5.2 .4-1.1 .5-.9 .4 1.5 .5 2.2 .4-9.8 .5 1.8 .4 1.8 .5-4.4 .4 2 .5-4.6 .4 1.4 .5 10.9 .4-7.1 .5-7.2 .4 9.1 .5-2.8 .4-6.9 .5 4.8 .4 1.9 .5 2.1 .4-3.7 .5 7.2 .4-6 .5 10.9 .4-6.1 .5 2.1 .4-1 .5-11 .4 10.5 .5 5.2 .4-3.6 .5-6.2 .4-6.3 .5 9 .4-7.3 .5 2.8 .4 2.3 .5 .7 .4-8.9 .5 7.1 .4-2.3 .5-3.8 .4-.6 .5 2.5 .4 5.2 .5-9.2 .4 5.1 .5-7.7 .4 .9 .5 1.8 .4-.6 .5-.3 .4-2.8 .5 .3 .4 .7 .5 4.4 .4-1.4 .5 1.6 .4 1.4 .5-5.2 .4-2.6 .5-.4 .4 9.8 .5-3.2 .4 2.6 .5-1.6 .4-5.5 .5 2.6 .4-1.7 .5 8.7 .4-7 .5 4.2 .4-6.2 .5 4.9 .4-4.5 .5-3.7 .4 7.9 .5-8.5 .4 1.7 .5 4.2 .4-1.7 .5-3.5 .4 1.8 .5 5.1 .4-8.6 .5-7.8 .4 14.7 .5-6.7 .4 .5 .5 4.2 .4-5.4 .5 .5 .4 5.2 .5-2.5 .4-3.4 .5-3.7 .4-1.1 .5 7.3 .4-2 .5-6.9 .4 4.3 .5-10.3 .4 10.8 .5-2.2 .4-4.8 .5 7.1 .4-3.7 .5-3.5 .4-.6 .5-.4 .4 3.9 .5-1.4 .4-5.1 .5-3.9 .4 3.3 .5 1.6 .4-5.8 .5-.9 .4 1.4 .5 .8 .4-.3 .5-.3 .4-14.4 .5 8.9 .4-5.6 .5-6.7 .4 2.8 .5-14.3 .4-1.6 .5 13.7 .4-15.3 .5 4.4 .4-7.2 .5 .8 .4-3.8 .5 7 .4-13.4 .5 7.3 .4-4.5 .5-.6 .4 7.2 .5-7.3 .4 3 .5 2 .4-1.8 .5 2.1 .4 1.5 .5-3.4 .4-2.5 .5 1 .4-1.5 .5 5.6 .4-6.7 .5 4.2 .4 1.3 .5-5.4 .4-3.2 .5 9.7 .4-2.9 .5-.6 .4 .4 .5 1 .4 1 .5-1.8 .4-1.9 .5 4.7 .4 1.1 .5-5.2 .4-4.8 .5 12.3 .4-.1 .5 .2 .4-4.2 .5 7.2 .4-2.2 .5-2.3 .4-.9 .5 10.3 .4-5.3 .5-.1 .4-3.2 .5 7.3 .4-3.3 .5 8.3 .4-5.8 .5 1.8 .4-4.8 .5-1 .4 1.5 .5 2.1 .4-2.7 .5 1.3 .4-.4 .5 7.3 .4 2.1 .5-5.8 .4 9.4 .5-3.6 .4-.9 .5 1.3 .4 6.4 .5-3.7 .4 2.3 .5 6.5 .4-10.5 .5 .9 .4 3.4 .5-4.9 .4 2 .5-.1 .4 10.8 .5-4.6 .4-3.7 .5-1.7 .4 5.8 .5 .4 .4-5.9 .5 4.4 .4-7 .5 6.2 .4-3.7 .5-4.6 .4-6.3 .5 3.3 .4-.8 .5 2.9 .4-11.3 .5-.9 .4-4.9 .5 3 .4-4.9 .5-5 .4 .9 .5-1.3 .4-3.5 .5 3.3 .4-4.6 .5-.4 .4 .9 .5-6.8 .4 6.6 .5-2.4 .4-2 .5 9.9 .4-5.7 .5-5 .4-2.9 .5 2.8 .4 7.9 .5-13.6 .4 10.4 .5-5.5 .4 5.7 .5 8.6 .4-3.3 .5-1.7 .4-.6 .5 6.1 .4-4 .5 2 .4 7.1 .5 10.7 .4-.8 .5 8.7 .4-1.6 .5 7.4 .4-2.3 .5 9.8 .4 .3 .5 10.2 .4 .5 .5 1.6 .4 3.8 .5-4.8 .4-6.3 .5 2.6 .4 7 .5-4.7 .4 2.2 .5 .8 .4 3.5 .5-10.3 .4 12.1 .5-.1 .4-2.5 .5-.1 .4 7.6 .5-6.8 .4-9.6 .5 14.5 .4-9.5 .5 4.6 .4 6.1 .5-10 .4 2.6 .5 3.7 .4-3.3 .5 3.6 .4-4.7 .5 .2 .4 1.5 .5-.3 .4 2.2 .5 2 .4 1.7 .5-9.8 .4 3.9 .5 1.9 .4 4.2 .5-.1 .4-6.6 .5 11.9 .4-7.7 .5 10.1 .4-11.5 .5 1.3 .4 8.6 .5-7.1 .4 2.4 .5 4.5 .4-1.8 .5 6.1 .4-9.8 .5 3.7 .4-3 .5 5.9 .4 1.2 .5-1.2 .4-5.6 .5 6.4 .4-5.2 .5 1.3 .4 1.5 .5 2.5 .4 1.6 .5-4.2 .4 2.2 .5 8.4 .4-7.5 .5 2.4 .4-3.7 .5 11.2 .4-10.8 .5 2.2 .4-.2 .5 .4 .4 4.3 .5-3.9 .4 3.7 .5 5.1 .4-11.1 .5 2.7 .4-1.8 .5 4.1 .4-1.9 .5 4.1 .4-10.9 .5 12.9 .4-5.8 .5 3.6 .4-8.4 .5 12.4 .4-12 .5 2.9 .4 5.9 .5-4.4 .4 1.2 .5 10.6 .4-5.8 .5-3 .4-.5 .5 5 .4 .2 .5-3.8 .4-6 .5 4.9 .4-5.8 .5 4.6 .4 6.2 .5 3.3 .4-.4 .5-2.5 .4 1.7 .5-9.1 .4 7.9 .5-8.7 .4 3 .5 4.5 .4 7.4 .5-9.9 .4-1.1 .5 5.7 .4 .7 .5-6.9 .4 5 .5-3.3 .4 5.5 .5-1 .4-.9 .5-.8 .4 2.1 .5-4.7 .4 9.6 .5 1.5 .4-4.2 .5-7 .4 10.5 .5-11.6 .4 8 .5 .3 .4-1.9 .5 2.9 .4 1.9 .5-9.8 .4 8.6 .5-6.7 .4 2.6 .5-3.8 .4 2.6 .5 1.5 .4-1.7 .5 2.4 .4-1.8 .5 .1 .4 .5 .5-1.2 .4 7.3 .5-9.7 .4 10.6 .5-7.4 .4-3.3 .5-.8 .4 3.5 .5 1.6 .4 1.8 .5 5.2 .4-11.2 .5 7.4 .4 .3 .5-6.3 .4 5.3 .5 4 .4-1.3 .5-6.7 .4 7.6 .5-4.5 .4-1.2 .5-.7 .4 4.3 .5-2.9 .4 2.1 .5-3.1 .4 .8 .5 1.7 .4-.1 .5-2.5 .4 1.3 .5-1.4 .4 1.8 .5-5.3 .4 2.8 .5 6.1 .4-3 .5-.9 .4-4.2 .5 4.7 .4-1.3 .5-1 .4 7.2 .5-11.9 .4 7.2 .5 3.4 .4 0 .5-1.8 .4-1.3 .5-1.4 .4 1.9 .5-1.1 .4-.2 .5 .4 .4 3.8 .5-4 .4-2.5 .5-1.4 .4 4.8 .5-7.6 .4 10.7 .5-6.9 .4 4.5 .5 3.4 .4-2.5 .5 2.9 .4 3.5 .5-5.6 .4-7.2 .5 9.5 .4-3.7 .5 2.7 .4-.4 .5-7.7 .4 8.4 .5-7.9 .4 2.3 .5-4.3 .4 10.4 .5-6 .4 2.1 .5-8 .4 3.5 .5 5.7 .4 1.8 .5-4.8 .4-2.7 .5 2.5 .4 .9 .5 .8 .4-1.5 .5 5 .4-7.5 .5 4.8 .4-.8 .5 2.2 .4-8.3 .5 4 .4 1.7 .5 2 .4-2.7 .5 2.3 .4-3.4 .5-1.4 .4-3.5 .5 7.9 .4 5.6 .5-15.1 .4 3.9 .5-2.1 .4 3.9 .5 5.8 .4-8.4 .5 5.3 .4-4.2 .5-4.3 .4 0 .5 6.8 .4-4.9 .5 5.8 .4-3.9 .5-.6 .4-5.7 .5 2.3 .4-5.7 .5 7.7 .4-2.8 .5 4.9 .4-7.7 .5 2.4 .4-3.2 .5 4.4 .4-8 .5 3.7 .4-2.2 .5-6.7 .4 4 .5 7.2 .4-1.3 .5-4.6 .4 5.3 .5-4 .4 .7 .5-2.7 .4-2.9 .5 2.3 .4 5.2 .5-5.7 .4-7.9 .5 10.2 .4-2.8 .5-6.9 .4 8.1 .5 .2 .4 1.1 .5 2.2 .4-2.4 .5 1.7 .4-3 .5-.6 .4 4.4 .5-1.5 .4 0 .5-.7 .4 3.4 .5-4.7 .4 2.7 .5-.2 .4 8.4 .5-3.2 .4-.8 .5 5.8 .4-10.5 .5 6.5 .4 3 .5-4.2 .4-.6 .5 .3 .4 2.7 .5 0 .4-1.9 .5 5.6 .4 .4 .5-1.6 .4-8.1 .5 6.6 .4-.6 .5-3.2 .4 5.8 .5-5.1 .4 6.8 .5 .8 .4-3.3 .5 6.1 .4-9.4 .5 10 .4-4.5 .5-1.2 .4 .2 .5 6.4 .4-5 .5-1 .4 9.1 .5-7 .4 7.4 .5-8 .4 2.5 .5-4.8 .4 .7 .5 2.4 .4-4.7 .5 3.6 .4-1.3 .5 1.8 .4 5.3 .5-4.1 .4-.4 .5-1.8 .4 4.8 .5-.7 .4 4.2 .5-3.3 .4 1.6 .5-2 .4 4.2 .5-9.9 .4 6.1 .5-4.7 .4-2 .5 4.6 .4-3 .5 5.9 .4-2.2 .5-3.5 .4-.1 .5 4.7 .4-2.2 .5 3.5 .4-6.7 .5 9.8 .4-10.3 .5-5.2 .4 7.5 .5 4.9 .4-8.2 .5-2.2 .4-3.4 .5 3.4 .4 3 .5 .6 .4 .9 .5 3.4 .4-8.1 .5 5.6 .4-3.3 .5 5.3 .4-4.2 .5 .1 .4-.3 .5-3.6 .4-.9 .5 3 .4-3.4 .5 8.5 .4-9.6 .5 5.4 .4 .3 .5-2.4 .4 .8 .5 2.1 .4 2.8 .5-2.2 .4 1 .5-.6 .4 8.9 .5-12.2 .4-3.4 .5 12.8 .4-.3 .5-2.5 .4-5.2 .5 9.6 .4-1.2 .5 .1 .4 2.5 .5-5.6 .4-1.1 .5 4.6 .4-.3 .5-1.3 .4 3.1 .5-3.9 .4 4 .5 4 .4-7.2 .5 2.3 .4-.1 .5-1.8 .4 6.9 .5-.9 .4-2.3 .5 5.5 .4-3.1 .5 2.7 .4-1.5 .5 3.2 .4 2.8 .5-7.1 .4 4.9 .5-.9 .4-.3 .5 1.7 .4-.8 .5 5.9 .4-4 .5 .2 .4 6.6 .5-2.8 .4-3.7 .5 1.1 .4 2 .5-1.1 .4-.8 .5 1.7 .4-1.9 .5 7.7 .4-.6 .5-6.3 .4 5.5 .5-3.6 .4-2.3 .5 3.4 .4 3.1 .5 1.9 .4-4.3 .5 .3 .4 3.1 .5 1 .4-8.5 .5 9.3 .4-7.2 .5 7.2 .4 1.6 .5-4.4 .4-2.5 .5 1.5 .4 4.9 .5-6.2 .4-2.7 .5 7.1 .4-1.5 .5-1.9 .4 5.1 .5-.2 .4-2.4 .5-.8 .4-1.7 .5 1.8 .4-6.6 .5 2.5 .4 2.3 .5 3.5 .4-8 .5 5.7 .4 3.7 .5-2.7 .4-2.5 .5 6.5 .4-.7 .5 .5 .4-4 .5-1.4 .4-2.3 .5 2.6 .4 .5 .5 .9 .4 3.6 .5-2.9 .4-.4 .5-3.5 .4 .3 .5 2.6 .4 1.8 .5 0 .4-2.5 .5 0 .4-5.7 .5 13.4 .4-7 .5-3.5 .4 .1 .5 3.7 .4-1.9 .5 2.3 .4-5 .5 4.2 .4 4.4 .5-5.9 .4-1.2 .5-.2 .4 .8 .5 1.5 .4 4.8 .5-.5 .4-8.2 .5 4.2 .4-3.1 .5 3.1 .4-1.8 .5 4.4 .4-2.3 .5 4.4 .4-3.2 .5 4.4 .4-4.7 .5-3.1 .4 7.7 .5-5.5 .4-5.5 .5 7.5 .4 2.4 .5-6.2 .4 1.8 .5 2.8 .4-1.9 .5 0 .4-5.1 .5 1.4 .4-.7 .5 7.2 .4-1.9 .5-1.2 .4 3.6 .5 2 .4-4.5 .5-4.4 .4 3.3 .5-6.3 .4 4.8 .5 1.8 .4-4.9 .5 5.9 .4 1.9 .5-4.5 .4 .2 .5 4.6 .4-1.1 .5 2.6 .4-.4 .5-7.9 .4 2.3 .5-1.4 .4 2.6 .5-4.2 .4 4.7 .5-.5 .4 3.1 .5 2.6 .4 .6 .5-12.3 .4 7.9 .5-.7 .4-4.5 .5 9.3 .4-6.1 .5 3.3 .4 1.5 .5-4 .4 5.9 .5-11.5 .4 10.2 .5-7.8 .4 6.9 .5-5.8 .4 2 .5 3.7 .4 .3 .5 2.9 .4-.7 .5-7.9 .4 2.1 .5 3.6 .4-2 .5-2.6 .4 2.8 .5 1.8 .4 .4 .5 2 .4-7.2 .5 2.4 .4 1.7 .5-5.7 .4 2.3 .5 .8 .4-2.5 .5-.6 .4 8.3 .5-8.5 .4 7.9 .5-1.1 .4-4.6 .5 5 .4-4.5 .5 1.1 .4-.6 .5-.3 .4 5.3 .5-2.6 .4 1.4 .5-.9 .4 7.2 .5-11.3 .4 5.1 .5 3.3 .4-7 .5 2.1 .4 5.2 .5 1.5 .4-1.7 .5 2.4 .4-5.6 .5-.7 .4 3.2 .5 1.7 .4-7.5 .5 8.8 .4-5.6 .5-3.8 .4 8 .5-5.5 .4-2 .5 5.3 .4-4.2 .5-1.4 .4 7.4 .5-8.4 .4 4.1 .5 3.7 .4-2.2 .5-4.8 .4 1.8 .5-.4 .4 4.8 .5-6.4 .4 11 .5-8.1 .4 .6 .5-3.7 .4 5 .5-2.2 .4-.4 .5-3.3 .4 9.7 .5-4.2 .4-3.9 .5 1.7 .4 4.5 .5-2.6 .4 1.6 .5-4.8 .4 6.7 .5-8 .4 4.6 .5-5.4 .4 7.1 .5 .2 .4-1.5 .5 1.8 .4 1.1 .5-5.9 .4 2 .5-1.7 .4 6.6 .5-9.7 .4 2.7 .5 1.3 .4 1 .5 5.8 .4-7.5 .5 2.5 .4 .9 .5 2 .4-2.2 .5 1 .4-.5 .5 .7 .4-.2 .5-5.5 .4 5.7 .5-1.1 .4-.2 .5 2.4 .4 1.4 .5 1.3 .4-3.4 .5-.8 .4 1 .5-5 .4 3.2 .5-2.3 .4 9.8 .5-3.4 .4-1.7 .5 3.1 .4-.2 .5-2.8 .4 2.2 .5-1.9 .4 2.6 .5-4.6 .4 1.4 .5 .9 .4 1.3 .5-4.6 .4 3.2 .5-3.2 .4 2.4 .5-5.7 .4-1.1 .5 5.3 .4 1.6 .5-3.4 .4 10 .5-9.8 .4 0 .5 3 .4-1.4 .5 2.7 .4-4.1 .5 5.5 .4-6.5 .5 2 .4 1.4 .5-2.2 .4 4.4 .5-1.2 .4 2.1 .5-5.3 .4 2.3 .5 .6 .4 2.9 .5-2 .4 1.3 .5 .2 .4 2.1 .5-3 .4-5.9 .5 3.9 .4 6.5 .5-6.1 .4 3.2 .5 3.7 .4-6.3 .5 .4 .4-1.1 .5 5.2 .4-3.3 .5-2.8 .4 1.1 .5-.5 .4-2 .5 6.2 .4 1.3 .5 2 .4-6.6 .5 4.4 .4 4.4 .5-13.5 .4 3.1 .5 .4 .4 8.8 .5-4.5 .4-1.3 .5-.7 .4-1 .5-1.6 .4 2.4 .5-2.9 .4 5.8 .5-1.3 .4 .4 .5 4.8 .4-2.1 .5-1.2 .4-.2 .5-2.5 .4 4.2 .5-2.5 .4-2 .5 .9 .4 1.2 .5-2.8 .4 4.5 .5 4.9 .4-10.9 .5 1.5 .4 1.2 .5 1.2 .4-2.6 .5 5.6 .4-3.8 .5 3.6 .4-.7 .5-3.4 .4 2.7 .5 5.5 .4-8.1 .5-1.1 .4 8.7 .5-7 .4-2.3 .5-3.1 .4 7.8 .5-1 .4-6 .5 5.9 .4-6 .5 7.3 .4 1.9 .5-3.3 .4 4 .5-9.3 .4-1.1 .5 9 .4-7.4 .5 4.1 .4 5.8 .5-3.3 .4-2.6 .5 .1 .4 4 .5-5.9 .4 3.5 .5-.5 .4 .4 .5-1.3 .4-1.7 .5-2.1 .4 7.5 .5-3.9 .4 4.1 .5-1.4 .4-8.2 .5 8.3 .4-2.6 .5 3.2 .4-5.3 .5 5.6 .4 3 .5-11.2 .4 5.2 .5 1.1 .4 2 .5 0 .4-4.5 .5 2.7 .4 2.1 .5-4.9 .4 2.6 .5-1 .4 .8 .5-5.7 .4 7.8 .5-2.3 .4 2.7 .5 .5 .4-.3 .5 .1 .4 .1 .5 1.9 .4-5.6 .5-4.1 .4 5.3 .5 .4 .4 2 .5-1.3 .4-1.8 .5 4 .4-3.5 .5-3.5 .4-2.1 .5 4.4 .4 8.2 .5-6.5 .4-1.4 .5 1.9 .4-5.1 .5 9.6 .4-8.2 .5 .5 .4 1.6 .5 5.4 .4-.8 .5-1.1 .4-.4 .5-7.2 .4 10.1 .5-3 .4-2.8 .5-1.5 .4 4.6 .5-5 .4 2.3 .5 6.9 .4-7.1 .5 2.2 .4-.9 .5 4.2 .4-5.5 .5 4.6 .4 .4 .5-1.4 .4-2.5 .5 3.3 .4-4.7 .5-4.4 .4 8.5 .5-4.5 .4 2.6 .5 .9 .4 3.4 .5-7.9 .4 7.3 .5-2.5 .4-2.1 .5 .3 .4 1.1 .5 2.7 .4-1.6 .5-3.8 .4 0 .5 2.6 .4-3.9 .5 9.9 .4-.7 .5-5.6 .4 2.6 .5-7.4 .4 12.8 .5-10.7 .4-.6 .5 11.4 .4-8.2 .5 3.4 .4-5.2 .5 3.1 .4 1.9 .5-.5 .4-1.1 .5 .1 .4 .5 .5 1.1 .4 2.6 .5-5.9 .4 .7 .5-1.1 .4 1.1 .5 .2 .4 1.6 .5-2 .4 7.1 .5-4 .4-.8 .5 1.3 .4-2.9 .5 5 .4-7.4 .5-.2 .4 4.5 .5-.8 .4-1.4 .5-1.3 .4 .4 .5 7.9 .4-3.8 .5-9.4 .4 9.1 .5 .7 .4 .1 .5-4.3 .4 2.9 .5 2.5 .4-3 .5-2 .4 1.1 .5 2.6 .4-5.4 .5 5.4 .4-4.8 .5 2.7 .4-1.7 .5 1.9 .4-3.4 .5 1.8 .4 1.2 .5-3.2 .4 .3 .5 7 .4-2.4 .5-1.5 .4 .4 .5-1.5 .4 2.9 .5-.9 .4-3 .5 1.7 .4 .6 .5 .5 .4-4.5 .5 6 .4-2.4 .5 2.1 .4-2.9 .5-2.3 .4-.9 .5-1.4 .4 3.5 .5 3.7 .4 3.5 .5-5.1 .4-3.2 .5 4.2 .4-.8 .5 1.7 .4-4.8 .5 4 .4-2.4 .5 4.5 .4-4.3 .5 2.6 .4 .4 .5 2.7 .4-4.7 .5-.4 .4-1.7 .5-1.8 .4 5.5 .5 1.3 .4 1 .5-1.6 .4 6.1 .5-2.8 .4-2.4 .5-.4 .4 .7 .5-5.5 .4 4.1 .5-1.8 .4 .5 .5 .4 .4 1 .5-3.1 .4-.3 .5 .2 .4 5.3 .5-3.9 .4-1.6 .5 5.7 .4-2.2 .5-.4 .4 0 .5-5.2 .4 2.6 .5-1.2 .4 .7 .5 3.4 .4 6.8 .5-3.7 .4 .6 .5-7.6 .4 6.5 .5-3 .4-2.9 .5 1.1 .4 3.9 .5 5.3 .4-7.4 .5-.2 .4 3.4 .5-4.9 .4 4.7 .5 .4 .4 1.2 .5-4 .4-1.4 .5-3 .4 9.6 .5-12.2 .4 7.7 .5 0 .4-1.3 .5 4 .4 3.1 .5-6.3 .4 2.3 .5 .1 .4-2.8 .5 .8 .4 .2 .5-2.5 .4 4 .5 .3 .4-2.8 .5 4 .4-7.5 .5 .3 .4 8.2 .5-7.7 .4 6.3 .5-6 .4 4.7 .5-.9 .4-1.5 .5 .7 .4-.7 .5-4.1 .4 6.7 .5-4.5 .4 6.5 .5-1.2 .4-5.2 .5 5.8 .4-3.4 .5-5.9 .4 8.2 .5-3.2 .4-.5 .5 2.8 .4 1.6 .5-2.9 .4 .8 .5-5.8 .4 4.9 .5-1 .4 .9 .5 3.2 .4-1 .5 1.5 .4-5.9 .5-.2 .4 5 .5-4 .4 5.4 .5-6.9 .4 4.5 .5-.2 .4-8 .5 7.5 .4 3.2 .5-2.8 .4 .4 .5 0 .4-1.1 .5 .8 .4-3 .5 4.4 .4-1.6 .5-1.9 .4-.5 .5 1.8 .4 .4 .5-3.5 .4 1.9 .5 9 .4-5.6 .5-3.2 .4-.3 .5-.8 .4 1.8 .5 1.2 .4 1.2 .5 3.1 .4-2.6 .5-7.8 .4 1.5 .5-.9 .4 3.7 .5 2.3 .4-.4 .5-6.2 .4 6.6 .5-6.7 .4 6.3 .5 1.6 .4-1 .5 1.9 .4-4.7 .5 .6 .4 0 .5 1.2 .4-4 .5 6.1 .4 2.6 .5-3.9 .4-2.8 .5 1.8 .4-2.5 .5 3.2 .4-3.6 .5 3 .4-.1 .5-6.3 .4 11.8 .5 .3 .4-5.7 .5 4.7 .4-2.9 .5 .9 .4 .2 .5-6.5 .4 6 .5-1.4 .4 2.9 .5 1.3 .4-5.7 .5-3.7 .4 4.2 .5-4.2 .4 7.5 .5-3 .4 4.5 .5-4.7 .4 6.3 .5-11.1 .4 7 .5-2.9 .4 1.3 .5 5.7 .4-7 .5 2.3 .4-.2 .5 2.9 .4-4.4 .5-.1 .4-2 .5 5.1 .4 .3 .5-8.9 .4 5.6 .5 2.7 .4-2 .5 .4 .4-1.8 .5 5.2 .4 4.6 .5-9.3 .4 .1 .5 1.2 .4 3.7 .5 1.2 .4-3.1 .5-.4 .4 2.7 .5-5.1 .4 3.9 .5-4.6 .4 2.2 .5 4 .4-5.3 .5 .7 .4-2.3 .5-1.3 .4 7.1 .5-4.2 .4 3.6 .5-2.4 .4-.9 .5 5.3 .4-5.9 .5 4 .4-5.4 .5 3.5 .4 .9 .5 2.9 .4-3.5 .5 .6 .4 3.6 .5-5 .4 4.3 .5 1.2 .4-2.4 .5-.8 .4-.4 .5 1.9 .4-4.5 .5-.1 .4-.9 .5 1.2 .4 .8 .5 6.1 .4-3.3 .5-.2 .4-3 .5 4.6 .4-1.3 .5-1.1 .4-1.6 .5-1.6 .4 3.6 .5-.8 .4-2.4 .5 2.7 .4-.5 .5 3.1 .4-5 .5 .9 .4-.3 .5 3.2 .4 .1 .5-4.9 .4 3.1 .5-.5 .4 1.9 .5-3.7 .4 4 .5 0 .4-3.3 .5 7 .4-7 .5 2.1 .4 2.2 .5-.6 .4-4.5 .5 3.6 .4-3.5 .5 2.6 .4-3.4 .5 9.3 .4-.6 .5-3.5 .4-4.1 .5 1.2 .4 9.2 .5-8.2 .4-.6 .5 5.1 .4-8.2 .5-1.1 .4 7.7 .5-6.1 .4 5.6 .5 1.8 .4-3.8 .5 5.3 .4-6.4 .5-1.8 .4 3.4 .5 .6 .4-2.8 .5 5.9 .4-7.1 .5 4.8 .4 4.2 .5-1.9 .4 .8 .5-.1 .4-2.2 .5 1.2 .4-2.3 .5-7.6 .4 7.8 .5-7.5 .4 2.5 .5 4.3 .4 3.2 .5-6.8 .4-2.6 .5 3.1 .4-1.2 .5 5.1 .4-4.9 .5 5.3 .4 2.6 .5-2.4 .4-.9 .5 3.8 .4-2.5 .5 .5 .4-.3 .5-8.5 .4 5.1 .5 6.5 .4-7.1 .5 4.8 .4-3.8 .5 2 .4-4.8 .5 1.6 .4 3 .5 .7 .4-4.4 .5-1.1 .4 6.9 .5-.1 .4 .3 .5 2.2 .4-1.1 .5-1 .4 .2 .5-2.2 .4 .2 .5 1.5 .4 1 .5 2.7 .4-4.1 .5 .5 .4 1.8 .5-2.6 .4-2.7 .5 1.5 .4 .4 .5-1.4 .4-1.1 .5 5.5 .4 1.3 .5-6.7 .4 8.3 .5-10 .4 5.7 .5 0 .4-3.6 .5 5.6 .4-3.5 .5 .3 .4-3.1 .5-3.2 .4 3 .5 6.3 .4-7.6 .5 2.8 .4 .2 .5-2.4 .4 3.4 .5 .8 .4-.1 .5 2.5 .4-1.2 .5 4.4 .4-1.3 .5-3.6 .4 .2 .5-1.2 .4 2.1 .5-2.9 .4 1.6 .5 2.4 .4 .7 .5-.8 .4-3.6 .5 1.3 .4-4 .5-1.6 .4 5.5 .5 4.1 .4-11.3 .5 3.8 .4 6.1 .5-1.4 .4-.3 .5-.6 .4 3.4 .5-5 .4 .7 .5-1.4 .4-1.7 .5 9.2 .4-7.6 .5-2.7 .4 6.2 .5-8 .4 6.7 .5-5.6 .4 4.8 .5 .8 .4-4.9 .5 6.1 .4 .5 .5-.8 .4-5.4 .5 8.3 .4-4.6 .5 4.7 .4-3.5 .5 3.2 .4-1.9 .5-4.9 .4 6.2 .5-5.2 .4-.2 .5-1.2 .4 4.5 .5-.4 .4-.1 .5-6.4 .4 11.1 .5-3.9 .4-.6 .5-1.1 .4-1.1 .5 2.4 .4 2.6 .5-7.6 .4 4.7 .5-1.6 .4 1.8 .5-4.9 .4 3.2 .5 2.4 .4 2.2 .5-3.2 .4 4 .5-5.2 .4 1.4 .5-4.4 .4 4.6 .5-3 .4 4.8 .5-7.7 .4-1.8 .5 .9 .4 8.2 .5-3.8 .4 1.3 .5-.9 .4 3.5 .5-7 .4 1.8 .5 1.5 .4 3 .5-3.7 .4 2.4 .5 1.5 .4-1.9 .5-1.7 .4 2.2 .5-1.8 .4-3.1 .5 2.5 .4-2.4 .5 6.7 .4-4.6 .5-4.2 .4 6.8 .5 3.6 .4-7.7 .5 4.8 .4-6.5 .5 3.3 .4 1 .5-.1 .4 2.1 .5-.7 .4 1.5 .5-.6 .4-.3 .5-3.7 .4 .7 .5-1.7 .4 4.5 .5 .3 .4-1.2 .5 .1 .4-5.9 .5 6.7 .4-3.4 .5 3.6 .4-2.2 .5 2.2 .4-2.5 .5 1.7 .4-2.6 .5 5 .4-6.1 .5 .1 .4-.8 .5 4.4 .4-2.1 .5 .1 .4 2.7 .5-1.8 .4 2.3 .5-3.5 .4 4.3 .5-4.2 .4 .3 .5 5.7 .4-7.8 .5 3.2 .4-4.9 .5 3.9 .4-2.7 .5 6 .4-2.7 .5-2.2 .4 1 .5-1.4 .4 4.3 .5-3.2 .4 1.9 .5-.4 .4 .3 .5 4.1 .4-7 .5 2.1 .4-4.8 .5 4.8 .4-1.2 .5 4.3 .4-2.2 .5-3.6 .4-.1 .5 5.1 .4-4.4 .5-.2 .4 1.4 .5 1.5 .4-2.1 .5 .9 .4-1.5 .5-2.7 .4-.5 .5-.1 .4 2.1 .5 2.6 .4 .5 .5-1.7 .4 6 .5-7 .4 3.3 .5-4.2 .4 .8 .5 2.3 .4-3.2 .5-2 .4-1.2 .5 .6 .4 6.6 .5-2.5 .4-1.7 .5 0 .4-2.3 .5 2.3 .4 .7 .5 2.2 .4 5.4 .5-6.5 .4-2.7 .5 3.2 .4-.5 .5-4 .4 1.6 .5 .8 .4-1.8 .5 1.6 .4 3.6 .5-.3 .4-4.8 .5 1.2 .4 .4 .5-.8 .4 1.2 .5-4.8 .4 4.1 .5-2.7 .4 3.9 .5-2.9 .4-3.7 .5 6.1 .4-4.1 .5 5.1 .4-6.4 .5 6.6 .4-4.8 .5 9.7 .4-5.9 .5 3.1 .4-2.1 .5-1.4 .4-5.1 .5 7.8 .4-2 .5-1.2 .4 1.4 .5-.5 .4 1.2 .5-4.5 .4 4.3 .5-3.3 .4-1 .5 3.3 .4-4 .5 3.1 .4-1.3 .5 1.5 .4 3.7 .5-1.8 .4-.5 .5 1.5 .4-3.2 .5 4.6 .4-.5 .5 .5 .4-3.5 .5 1.7 .4 3.2 .5-2.4 .4 .9 .5-3.1 .4 .1 .5 .5 .4-1.9 .5 4.8 .4-.5 .5-1.6 .4 5 .5-8 .4 8.7 .5-2.3 .4-2 .5 2 .4 3.4 .5-5.3 .4 6.3 .5-8 .4-4.7 .5 4.7 .4 7.5 .5-1.8 .4-4.4 .5-3.4 .4 4.3 .5 .1 .4-.5 .5-6 .4 4.6 .5 2.5 .4 .9 .5-5.1 .4 .7 .5 2.2 .4 2.9 .5 1 .4-5.6 .5 1 .4 2.5 .5-.4 .4-2.9 .5-2.6 .4 2.6 .5-.2 .4 4.9 .5-4.5 .4-2.1 .5 5.3 .4 .5 .5 1.6 .4-3.9 .5-1.7 .4 .7 .5-4.6 .4 5.3 .5-3.6 .4 2.6 .5-.1 .4-4.2 .5 6.7 .4-4.3 .5 3.4 .4-1.9 .5 2.9 .4-4.3 .5 6.2 .4-4.7 .5 3.4 .4 1.1 .5-6.2 .4 4.5 .5-5 .4 1.9 .5 1.7 .4-.3 .5-1.8 .4-2.3 .5 3.3 .4-2.7 .5 6 .4-5.8 .5 1.3 .4 1 .5-6.4 .4 4.3 .5 4 .4 1.1 .5-2.3 .4-.5 .5-.7 .4-1.3 .5 5.2 .4-.4 .5-6.1 .4 2.2 .5 2.7 .4-2 .5 .1 .4 1.3 .5-1.2 .4-3.6 .5 3.9 .4 0 .5-1.1 .4-1.1 .5-.2 .4-2.8 .5 .6 .4 .4 .5 7.5 .4-3.9 .5-2.6 .4 3.1 .5-.2 .4-2.9 .5 2.8 .4-3.6 .5-3.6 .4 3.9 .5 2.4 .4 3.1 .5-10 .4-.3 .5 1.1 .4 2.3 .5 3.7 .4 3.2 .5-1.7 .4-8.6 .5 1.7 .4 5.3 .5-3.1 .4 1.7 .5-2.9 .4 5.1 .5-5.8 .4 1.6 .5-1.9 .4 5.7 .5-5.1 .4 3.4 .5 1.8 .4-2.9 .5-5.2 .4 8.4 .5-2.2 .4 2 .5-5 .4 2.8 .5 5.5 .4-13.2 .5 8.8 .4-1.9 .5 6.7 .4-2 .5-7 .4 2.9 .5-1.4 .4-1.1 .5-.9 .4 2.4 .5 4.7 .4-6.3 .5 7.5 .4-9.3 .5 3.4 .4 7 .5-.8 .4-.7 .5-2.2 .4 1.4 .5 7.3 .4-.2 .5-3.9 .4-.3 .5-3.2 .4-.6 .5 .6 .4-2.4 .5 5.9 .4-6.3 .5 3.8 .4-2.4 .5 5 .4 1.4 .5-3.5 .4 .7 .5 3 .4-3.6 .5 .3 .4 3.5 .5 .1 .4-.8 .5 1.9 .4-2.4 .5 2.6 .4 2.6 .5-5 .4 4.3 .5 .7 .4-7.5 .5 6.5 .4-4.5 .5 5.7 .4-1.2 .5-3.9 .4-1.1 .5 1.4 .4 4.1 .5-1.5 .4 1.5 .5-2.2 .4-2.4 .5 1.6 .4 1.3 .5 2.4 .4-.3 .5-6.2 .4 4.4 .5-7.5 .4 6.1 .5 .4 .4-1.8 .5 3.6 .4-4.8 .5 2.1 .4 1.4 .5 2.3 .4-2.3 .5 4.7 .4-10 .5 5.7 .4 3 .5-.3 .4-2.6 .5 .5 .4-.7 .5-.2 .4 1.9 .5 1.4 .4-6 .5 5.6 .4-5.7 .5 9 .4-4.8 .5 2.6 .4-5.1 .5 0 .4 1.2 .5 2.2 .4-.8 .5 4.8 .4-4.9 .5-1.6 .4-2.5 .5 1.5 .4 2.2 .5-.1 .4 .9 .5 .5 .4-4.3 .5 3 .4-1.7 .5 2.6 .4 4.8 .5-8 .4 6.5 .5-5.3 .4-.1 .5 5.1 .4-9.9 .5 12 .4-5.5 .5-5.6 .4 5.2 .5-2.6 .4-3.1 .5 6.6 .4-3.2 .5-1.9 .4 9 .5-6.5 .4 1.6 .5 3.1 .4-4 .5-.7 .4-.9 .5 5.7 .4-2.8 .5 1.4 .4-5.8 .5 2.4 .4 4.6 .5-1.8 .4-1.5 .5-.9 .4-.3 .5 3.7 .4-5.9 .5 2.2 .4 .8 .5 1.7 .4 1.4 .5-.8 .4 2.2 .5-4.4 .4-3.3 .5 7.2 .4-5.3 .5 1.6 .4-1.2 .5 4.5 .4-3.5 .5-.9 .4 1.5 .5 3.4 .4-6.5 .5 9.4 .4-5.2 .5-5.1 .4-.3 .5 6.1 .4-5.1 .5 4.7 .4-3.7 .5 1.2 .4-1.1 .5 2.7 .4 3.3 .5-.7 .4 1 .5-5.2 .4-3.2 .5 1.5 .4 3.4 .5-3.5 .4 4.5 .5 .9 .4 1.5 .5-3.8 .4 .5 .5-3.4 .4-.3 .5 4 .4-2.6 .5-1 .4 3 .5-7.3 .4 6.6 .5 2.6 .4-4.7 .5-1 .4 5.6 .5-2.1 .4 1.8 .5-4.5 .4 4.6 .5-5.1 .4 3.1 .5 1.2 .4-.6 .5 5.9 .4-6.5 .5 .8 .4 1.9 .5-7.7 .4 7 .5-3.3 .4 1 .5 .8 .4-4.4 .5 5.1 .4-1.6 .5 .6 .4 2.8 .5-4.7 .4 2.3 .5 2 .4-3.4 .5 3.6 .4-5.9 .5 5.8 .4-3.5 .5 1.5 .4-4.2 .5 3.5 .4 1 .5-4.5 .4-4.2 .5 4.5 .4-1.7 .5 0 .4 .2 .5 1.8 .4-2.1 .5 8.9 .4-6.4 .5 1.5 .4-2.8 .5 2.5 .4 3.8 .5-2.1 .4 1.8 .5-2.9 .4 .7 .5-2.8 .4 1.6 .5-.2 .4 2.7 .5-2.6 .4-.7 .5 1.5 .4 .7 .5-3.5 .4 1.1 .5 7.7 .4-3.5 .5-6.2 .4 4.3 .5-1.9 .4-3.1 .5 3 .4-2 .5 6.2 .4-1 .5 .4 .4-3.4 .5-3.3 .4 1.7 .5 4.8 .4-1.7 .5-1.4 .4-.4 .5 1.4 .4-2.4 .5 1.2 .4 5.8 .5 1.5 .4-4.9 .5-6.1 .4 10 .5-5.8 .4-4.3 .5 3.3 .4 4.1 .5-5 .4 2 .5 .9 .4-6.3 .5 9.9 .4-4.4 .5-.2 .4 3.4 .5-9 .4 7.8 .5-1.5 .4-.3 .5-1 .4 3.5 .5-8.2 .4 6.3 .5 1 .4 1.8 .5 2.7 .4-10 .5 .9 .4 4.7 .5 1.1 .4-1.5 .5 1.4 .4-4.4 .5 4.3 .4-3.8 .5-.5 .4 2.5 .5-5.1 .4 8.3 .5-1.2 .4 .6 .5-9.3 .4 5.2 .5 3.6 .4-5.4 .5 6.2 .4-.7 .5 3.8 .4-9.2 .5 3 .4-3.2 .5 2.1 .4-.4 .5-5.5 .4 12.8 .5-9.7 .4 2.8 .5 2.9 .4-4.2 .5 3.5 .4-2.8 .5 .7 .4 1.8 .5 4 .4-5.7 .5-.8 .4 1.5 .5 2.9 .4-3.1 .5 5 .4-7 .5 1.7 .4-3.2 .5 1.2 .4 3.5 .5 .2 .4 1.6 .5 0 .4-3.5 .5 4.6 .4-1.3 .5-2.2 .4-4 .5 3.5 .4 .8 .5-2.3 .4 3.6 .5-3.1 .4 1.2 .5 1.6 .4-1.3 .5-3.4 .4 1.8 .5 .1 .4-1.5 .5 2.6 .4-.5 .5-2.3 .4 7.2 .5-4.2 .4-.2 .5-1.5 .4 3.4 .5-3.1 .4 .6 .5-.3 .4 5 .5-4.6 .4 .4 .5-.8 .4 2.8 .5-1.2 .4-2.6 .5 .3 .4 3.3 .5-4.2 .4 .2 .5-2.1 .4 3.2 .5-.5 .4 7.8 .5-9.9 .4 1.1 .5 1.3 .4 2.6 .5 3.8 .4-2.8 .5-.4 .4 3.6 .5-3.7 .4 .8 .5-1.3 .4-3.4 .5-3.1 .4 5.5 .5-2.9 .4-1 .5 7 .4-3.7 .5-.5 .4 5.2 .5-2.9 .4-2.4 .5-1.2 .4 1 .5-1 .4 3.6 .5-.5 .4-.3 .5 2.1 .4-2.4 .5 1.4 .4-2.7 .5 5.5 .4-4.1 .5-.2 .4 6.1 .5-7.2 .4 5.6 .5-4.1 .4 4.6 .5-3.9 .4-4.5 .5 3.3 .4-3.3 .5 4.9 .4 .6 .5-2.1 .4-1.4 .5 .1 .4-.7 .5 .2 .4-.5 .5-1.6 .4 7.2 .5-3.5 .4 2.8 .5 .1 .4-.9 .5-4.5 .4 .6 .5 3.2 .4 .2 .5-3.5 .4-1 .5 5.9 .4 1.3 .5-3.5 .4-4.8 .5 1.9 .4 8.1 .5-6.3 .4 2.1 .5 1.7 .4-4.7 .5-1.3 .4 3.9 .5-6.5 .4 2.7 .5 5.4 .4-.7 .5-5.2 .4 3.9 .5-3.8 .4-2.4 .5 3.4 .4 .5 .5-.8 .4 1.3 .5 4.7 .4-2.8 .5 .3 .4-3 .5-.5 .4-1 .5 .2 .4 2.2 .5-3.8 .4 7 .5-3.3 .4 3.1 .5-1.3 .4-3.2 .5 .9 .4 5.5 .5-5.9 .4 2.7 .5 2.4 .4-5 .5 4 .4-4.8 .5 3.2 .4 .6 .5-1.6 .4 4.7 .5-5.1 .4 4.2 .5-3.6 .4 0 .5 1.1 .4-1.1 .5-4.3 .4 4.7 .5 4.5 .4-6.5 .5 .4 .4-2.9 .5 2.6 .4 1.6 .5 3.8 .4-4.7 .5 1.6 .4-1.6 .5-1.3 .4 2.5 .5 3.2 .4-3.5 .5-.8 .4-2.1"/>
<circle cx="317.6" cy="156.4" r="34.4" fill="none" stroke="#000" stroke-width="3.0"/><path d="M298.1 136.9L337.1 175.9M337.1 136.9L298.1 175.9" stroke="#000" stroke-width="3.0" fill="none"/>
<circle cx="1127.7" cy="931.6" r="25.5" fill="none" stroke="#000" stroke-width="2.8"/><path d="M1114.1 918.0L1141.3 945.2M1141.3 918.0L1114.1 945.2" stroke="#000" stroke-width="2.6" fill="none"/>
<circle cx="1335.6" cy="1005.8" r="25.5" fill="none" stroke="#000" stroke-width="2.8"/><path d="M1322.0 992.2L1349.2 1019.4M1349.2 992.2L1322.0 1019.4" stroke="#000" stroke-width="2.6" fill="none"/>
<circle cx="1133.0" cy="1168.8" r="25.5" fill="none" stroke="#000" stroke-width="2.8"/><path d="M1119.4 1155.2L1146.6 1182.4M1146.6 1155.2L1119.4 1182.4" stroke="#000" stroke-width="2.6" fill="none"/>
<circle cx="1186.6" cy="1254.3" r="25.5" fill="none" stroke="#000" stroke-width="2.8"/><path d="M1173.0 1240.7L1200.2 1267.9M1200.2 1240.7L1173.0 1267.9" stroke="#000" stroke-width="2.6" fill="none"/>
<circle cx="1346.4" cy="1270.3" r="25.5" fill="none" stroke="#000" stroke-width="2.8"/><path d="M1332.8 1256.7L1360.0 1283.9M1360.0 1256.7L1332.8 1283.9" stroke="#000" stroke-width="2.6" fill="none"/>
</svg>
</body></html>
